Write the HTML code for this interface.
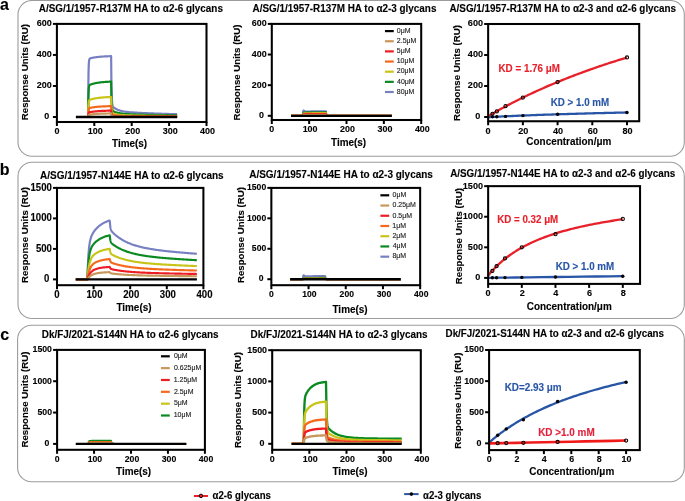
<!DOCTYPE html><html><head><meta charset="utf-8"><style>html,body{margin:0;padding:0;background:#fff;width:685px;height:501px;overflow:hidden;position:relative}</style></head><body><svg width="685" height="501" viewBox="0 0 685 501" style="position:absolute;left:0;top:0;will-change:transform;font-family:&quot;Liberation Sans&quot;,sans-serif">
<style>text{stroke:currentColor;stroke-width:0.12px;paint-order:stroke}</style>
<rect width="685" height="501" fill="#fff"/>
<rect x="18" y="0.5" width="666.30" height="155.70" rx="14" ry="14" fill="none" stroke="#9c9c9c" stroke-width="1.1"/>
<rect x="18" y="162.2" width="666.30" height="156.30" rx="14" ry="14" fill="none" stroke="#9c9c9c" stroke-width="1.1"/>
<rect x="17.6" y="325.2" width="666.70" height="156.60" rx="14" ry="14" fill="none" stroke="#9c9c9c" stroke-width="1.1"/>
<text x="0.02" y="9.60" font-size="16" font-weight="bold" fill="#000" style="color:#000" transform="matrix(1 0 0 1.08 0 -0.768)">a</text>
<text x="-0.24" y="174.90" font-size="16" font-weight="bold" fill="#000" style="color:#000" transform="matrix(1 0 0 1.08 0 -13.992)">b</text>
<text x="0.16" y="339.60" font-size="16" font-weight="bold" fill="#000" style="color:#000" transform="matrix(1 0 0 1.08 0 -27.168)">c</text>
<path d="M75.97,117.00 L76.72,117.00 L77.47,117.00 L78.22,117.00 L78.97,117.00 L79.71,117.00 L80.46,117.00 L81.21,117.00 L81.96,117.00 L82.71,117.00 L83.45,117.00 L84.20,117.00 L84.95,117.00 L85.70,117.00 L86.45,117.00 L87.19,117.00 L87.94,117.00 L88.13,117.00 L88.32,88.60 L88.50,74.35 L88.69,66.82 L88.88,62.88 L89.06,60.87 L89.25,59.89 L89.44,59.25 L89.62,58.86 L89.81,58.63 L90.00,58.48 L90.19,58.38 L90.37,58.31 L90.56,58.24 L90.75,58.19 L90.93,58.14 L91.12,58.09 L91.31,58.05 L91.50,58.01 L91.68,57.97 L91.87,57.93 L92.06,57.89 L92.24,57.85 L92.43,57.81 L92.62,57.77 L92.80,57.73 L92.99,57.70 L93.18,57.66 L93.37,57.63 L93.55,57.59 L93.74,57.56 L93.93,57.53 L94.11,57.50 L94.30,57.47 L94.49,57.44 L94.67,57.41 L94.86,57.38 L95.05,57.35 L95.23,57.32 L95.42,57.29 L95.61,57.26 L96.36,57.16 L97.10,57.06 L97.85,56.98 L98.60,56.90 L99.35,56.82 L100.10,56.75 L100.84,56.69 L101.59,56.63 L102.34,56.57 L103.09,56.52 L103.84,56.48 L104.59,56.43 L105.33,56.39 L106.08,56.36 L106.83,56.32 L107.58,56.29 L108.32,56.26 L109.07,56.24 L109.82,56.21 L110.57,56.19 L110.76,56.19 L110.94,56.18 L111.13,56.17 L111.32,75.59 L111.50,87.44 L111.69,94.71 L111.88,99.19 L112.06,101.98 L112.25,103.74 L112.44,104.88 L112.63,105.64 L112.81,106.16 L113.00,106.54 L113.19,106.83 L113.37,107.06 L113.56,107.26 L113.75,107.44 L113.94,107.60 L114.12,107.75 L114.31,107.89 L114.50,108.02 L114.68,108.15 L114.87,108.28 L115.06,108.40 L115.24,108.51 L115.43,108.63 L115.62,108.73 L115.81,108.84 L115.99,108.94 L116.18,109.04 L116.37,109.14 L116.55,109.23 L116.74,109.33 L116.93,109.41 L117.11,109.50 L117.30,109.58 L117.49,109.67 L117.67,109.74 L117.86,109.82 L118.05,109.90 L118.24,109.97 L118.42,110.04 L118.61,110.11 L118.80,110.17 L118.98,110.24 L119.17,110.30 L119.36,110.36 L119.55,110.42 L119.73,110.48 L119.92,110.54 L120.11,110.59 L120.29,110.65 L120.48,110.70 L121.23,110.90 L121.98,111.07 L122.72,111.23 L123.47,111.38 L124.22,111.51 L124.97,111.63 L125.72,111.74 L126.46,111.84 L127.21,111.93 L127.96,112.01 L128.71,112.09 L129.46,112.17 L130.20,112.23 L130.95,112.30 L131.70,112.36 L132.45,112.42 L133.20,112.47 L133.94,112.52 L134.69,112.57 L135.44,112.62 L136.19,112.66 L136.94,112.71 L137.68,112.75 L138.43,112.79 L139.18,112.83 L139.93,112.87 L140.68,112.91 L141.42,112.94 L142.17,112.98 L142.92,113.01 L143.67,113.05 L144.42,113.08 L145.16,113.11 L145.91,113.15 L146.66,113.18 L147.41,113.21 L148.16,113.24 L148.90,113.27 L149.65,113.30 L150.40,113.33 L151.15,113.36 L151.90,113.39 L152.64,113.42 L153.39,113.45 L154.14,113.48 L154.89,113.50 L155.64,113.53 L156.38,113.56 L157.13,113.59 L157.88,113.61 L158.63,113.64 L159.38,113.67 L160.12,113.69 L160.87,113.72 L161.62,113.75 L162.37,113.77 L163.12,113.80 L163.86,113.82 L164.61,113.85 L165.36,113.87 L166.11,113.90 L166.86,113.92 L167.60,113.95 L168.35,113.97 L169.10,113.99 L169.85,114.02 L170.60,114.04 L171.34,114.06 L172.09,114.09 L172.84,114.11 L173.59,114.13 L174.34,114.15 L175.08,114.18 L175.83,114.20 L176.58,114.22 L177.14,114.24" fill="none" stroke="#7680c2" stroke-width="2.2" stroke-linejoin="round" stroke-linecap="butt"/>
<path d="M75.97,117.00 L76.72,117.00 L77.47,117.00 L78.22,117.00 L78.97,117.00 L79.71,117.00 L80.46,117.00 L81.21,117.00 L81.96,117.00 L82.71,117.00 L83.45,117.00 L84.20,117.00 L84.95,117.00 L85.70,117.00 L86.45,117.00 L87.19,117.00 L87.94,117.00 L88.13,117.00 L88.32,102.28 L88.50,94.37 L88.69,90.09 L88.88,87.77 L89.06,86.49 L89.25,85.77 L89.44,85.35 L89.62,85.10 L89.81,84.93 L90.00,84.80 L90.19,84.71 L90.37,84.62 L90.56,84.55 L90.75,84.48 L90.93,84.41 L91.12,84.35 L91.31,84.29 L91.50,84.23 L91.68,84.17 L91.87,84.11 L92.06,84.05 L92.24,84.00 L92.43,83.94 L92.62,83.89 L92.80,83.84 L92.99,83.79 L93.18,83.74 L93.37,83.69 L93.55,83.64 L93.74,83.59 L93.93,83.55 L94.11,83.50 L94.30,83.46 L94.49,83.41 L94.67,83.37 L94.86,83.33 L95.05,83.29 L95.23,83.25 L95.42,83.21 L95.61,83.17 L96.36,83.02 L97.10,82.89 L97.85,82.76 L98.60,82.65 L99.35,82.54 L100.10,82.44 L100.84,82.35 L101.59,82.27 L102.34,82.19 L103.09,82.12 L103.84,82.05 L104.59,81.99 L105.33,81.93 L106.08,81.88 L106.83,81.83 L107.58,81.79 L108.32,81.75 L109.07,81.71 L109.82,81.68 L110.57,81.64 L110.76,81.64 L110.94,81.63 L111.13,81.62 L111.32,92.91 L111.50,99.81 L111.69,104.03 L111.88,106.64 L112.06,108.26 L112.25,109.29 L112.44,109.95 L112.63,110.39 L112.81,110.70 L113.00,110.92 L113.19,111.09 L113.37,111.22 L113.56,111.34 L113.75,111.44 L113.94,111.53 L114.12,111.62 L114.31,111.70 L114.50,111.78 L114.68,111.85 L114.87,111.93 L115.06,112.00 L115.24,112.06 L115.43,112.13 L115.62,112.19 L115.81,112.25 L115.99,112.31 L116.18,112.37 L116.37,112.43 L116.55,112.48 L116.74,112.54 L116.93,112.59 L117.11,112.64 L117.30,112.69 L117.49,112.73 L117.67,112.78 L117.86,112.82 L118.05,112.87 L118.24,112.91 L118.42,112.95 L118.61,112.99 L118.80,113.03 L118.98,113.07 L119.17,113.10 L119.36,113.14 L119.55,113.18 L119.73,113.21 L119.92,113.24 L120.11,113.27 L120.29,113.31 L120.48,113.34 L121.23,113.45 L121.98,113.55 L122.72,113.64 L123.47,113.73 L124.22,113.80 L124.97,113.87 L125.72,113.94 L126.46,114.00 L127.21,114.05 L127.96,114.10 L128.71,114.15 L129.46,114.19 L130.20,114.23 L130.95,114.27 L131.70,114.30 L132.45,114.33 L133.20,114.37 L133.94,114.40 L134.69,114.42 L135.44,114.45 L136.19,114.48 L136.94,114.50 L137.68,114.53 L138.43,114.55 L139.18,114.57 L139.93,114.60 L140.68,114.62 L141.42,114.64 L142.17,114.66 L142.92,114.68 L143.67,114.70 L144.42,114.72 L145.16,114.74 L145.91,114.76 L146.66,114.78 L147.41,114.80 L148.16,114.81 L148.90,114.83 L149.65,114.85 L150.40,114.87 L151.15,114.88 L151.90,114.90 L152.64,114.92 L153.39,114.93 L154.14,114.95 L154.89,114.97 L155.64,114.98 L156.38,115.00 L157.13,115.02 L157.88,115.03 L158.63,115.05 L159.38,115.06 L160.12,115.08 L160.87,115.09 L161.62,115.11 L162.37,115.12 L163.12,115.14 L163.86,115.15 L164.61,115.17 L165.36,115.18 L166.11,115.19 L166.86,115.21 L167.60,115.22 L168.35,115.24 L169.10,115.25 L169.85,115.26 L170.60,115.28 L171.34,115.29 L172.09,115.31 L172.84,115.32 L173.59,115.33 L174.34,115.34 L175.08,115.36 L175.83,115.37 L176.58,115.38 L177.14,115.39" fill="none" stroke="#0b8a22" stroke-width="2.2" stroke-linejoin="round" stroke-linecap="butt"/>
<path d="M75.97,117.00 L76.72,117.00 L77.47,117.00 L78.22,117.00 L78.97,117.00 L79.71,117.00 L80.46,117.00 L81.21,117.00 L81.96,117.00 L82.71,117.00 L83.45,117.00 L84.20,117.00 L84.95,117.00 L85.70,117.00 L86.45,117.00 L87.19,117.00 L87.94,117.00 L88.13,117.00 L88.32,109.21 L88.50,105.00 L88.69,102.72 L88.88,101.46 L89.06,100.76 L89.25,100.36 L89.44,100.11 L89.62,99.95 L89.81,99.83 L90.00,99.74 L90.19,99.67 L90.37,99.60 L90.56,99.54 L90.75,99.48 L90.93,99.42 L91.12,99.37 L91.31,99.31 L91.50,99.26 L91.68,99.21 L91.87,99.16 L92.06,99.11 L92.24,99.06 L92.43,99.01 L92.62,98.97 L92.80,98.92 L92.99,98.88 L93.18,98.83 L93.37,98.79 L93.55,98.75 L93.74,98.71 L93.93,98.67 L94.11,98.63 L94.30,98.59 L94.49,98.55 L94.67,98.51 L94.86,98.48 L95.05,98.44 L95.23,98.41 L95.42,98.37 L95.61,98.34 L96.36,98.21 L97.10,98.09 L97.85,97.98 L98.60,97.88 L99.35,97.79 L100.10,97.70 L100.84,97.62 L101.59,97.55 L102.34,97.48 L103.09,97.42 L103.84,97.36 L104.59,97.31 L105.33,97.26 L106.08,97.21 L106.83,97.17 L107.58,97.13 L108.32,97.09 L109.07,97.06 L109.82,97.03 L110.57,97.00 L110.76,97.00 L110.94,96.99 L111.13,96.98 L111.32,103.37 L111.50,107.27 L111.69,109.66 L111.88,111.14 L112.06,112.06 L112.25,112.64 L112.44,113.01 L112.63,113.26 L112.81,113.43 L113.00,113.56 L113.19,113.65 L113.37,113.73 L113.56,113.80 L113.75,113.85 L113.94,113.91 L114.12,113.96 L114.31,114.00 L114.50,114.05 L114.68,114.09 L114.87,114.13 L115.06,114.17 L115.24,114.21 L115.43,114.24 L115.62,114.28 L115.81,114.31 L115.99,114.35 L116.18,114.38 L116.37,114.41 L116.55,114.44 L116.74,114.47 L116.93,114.50 L117.11,114.53 L117.30,114.56 L117.49,114.59 L117.67,114.61 L117.86,114.64 L118.05,114.66 L118.24,114.69 L118.42,114.71 L118.61,114.73 L118.80,114.75 L118.98,114.78 L119.17,114.80 L119.36,114.82 L119.55,114.84 L119.73,114.86 L119.92,114.87 L120.11,114.89 L120.29,114.91 L120.48,114.93 L121.23,114.99 L121.98,115.05 L122.72,115.10 L123.47,115.15 L124.22,115.19 L124.97,115.23 L125.72,115.27 L126.46,115.30 L127.21,115.33 L127.96,115.36 L128.71,115.38 L129.46,115.41 L130.20,115.43 L130.95,115.45 L131.70,115.47 L132.45,115.49 L133.20,115.51 L133.94,115.53 L134.69,115.54 L135.44,115.56 L136.19,115.57 L136.94,115.59 L137.68,115.60 L138.43,115.61 L139.18,115.63 L139.93,115.64 L140.68,115.65 L141.42,115.66 L142.17,115.68 L142.92,115.69 L143.67,115.70 L144.42,115.71 L145.16,115.72 L145.91,115.73 L146.66,115.74 L147.41,115.75 L148.16,115.76 L148.90,115.77 L149.65,115.78 L150.40,115.79 L151.15,115.80 L151.90,115.81 L152.64,115.82 L153.39,115.83 L154.14,115.84 L154.89,115.85 L155.64,115.86 L156.38,115.87 L157.13,115.88 L157.88,115.89 L158.63,115.89 L159.38,115.90 L160.12,115.91 L160.87,115.92 L161.62,115.93 L162.37,115.94 L163.12,115.95 L163.86,115.95 L164.61,115.96 L165.36,115.97 L166.11,115.98 L166.86,115.99 L167.60,115.99 L168.35,116.00 L169.10,116.01 L169.85,116.02 L170.60,116.03 L171.34,116.03 L172.09,116.04 L172.84,116.05 L173.59,116.06 L174.34,116.06 L175.08,116.07 L175.83,116.08 L176.58,116.09 L177.14,116.09" fill="none" stroke="#c8c41a" stroke-width="2.2" stroke-linejoin="round" stroke-linecap="butt"/>
<path d="M75.97,117.00 L76.72,117.00 L77.47,117.00 L78.22,117.00 L78.97,117.00 L79.71,117.00 L80.46,117.00 L81.21,117.00 L81.96,117.00 L82.71,117.00 L83.45,117.00 L84.20,117.00 L84.95,117.00 L85.70,117.00 L86.45,117.00 L87.19,117.00 L87.94,117.00 L88.13,117.00 L88.32,112.91 L88.50,110.71 L88.69,109.50 L88.88,108.84 L89.06,108.47 L89.25,108.25 L89.44,108.11 L89.62,108.02 L89.81,107.95 L90.00,107.90 L90.19,107.85 L90.37,107.81 L90.56,107.77 L90.75,107.73 L90.93,107.70 L91.12,107.66 L91.31,107.63 L91.50,107.59 L91.68,107.56 L91.87,107.53 L92.06,107.50 L92.24,107.47 L92.43,107.43 L92.62,107.41 L92.80,107.38 L92.99,107.35 L93.18,107.32 L93.37,107.29 L93.55,107.27 L93.74,107.24 L93.93,107.21 L94.11,107.19 L94.30,107.16 L94.49,107.14 L94.67,107.11 L94.86,107.09 L95.05,107.07 L95.23,107.05 L95.42,107.02 L95.61,107.00 L96.36,106.92 L97.10,106.84 L97.85,106.77 L98.60,106.71 L99.35,106.65 L100.10,106.60 L100.84,106.55 L101.59,106.50 L102.34,106.45 L103.09,106.41 L103.84,106.38 L104.59,106.34 L105.33,106.31 L106.08,106.28 L106.83,106.26 L107.58,106.23 L108.32,106.21 L109.07,106.19 L109.82,106.17 L110.57,106.15 L110.76,106.15 L110.94,106.14 L111.13,106.14 L111.32,109.60 L111.50,111.72 L111.69,113.02 L111.88,113.82 L112.06,114.32 L112.25,114.63 L112.44,114.84 L112.63,114.97 L112.81,115.06 L113.00,115.13 L113.19,115.18 L113.37,115.23 L113.56,115.26 L113.75,115.29 L113.94,115.32 L114.12,115.35 L114.31,115.37 L114.50,115.40 L114.68,115.42 L114.87,115.44 L115.06,115.46 L115.24,115.48 L115.43,115.50 L115.62,115.52 L115.81,115.54 L115.99,115.56 L116.18,115.58 L116.37,115.60 L116.55,115.61 L116.74,115.63 L116.93,115.65 L117.11,115.66 L117.30,115.68 L117.49,115.69 L117.67,115.70 L117.86,115.72 L118.05,115.73 L118.24,115.74 L118.42,115.76 L118.61,115.77 L118.80,115.78 L118.98,115.79 L119.17,115.80 L119.36,115.82 L119.55,115.83 L119.73,115.84 L119.92,115.85 L120.11,115.86 L120.29,115.87 L120.48,115.88 L121.23,115.91 L121.98,115.94 L122.72,115.97 L123.47,116.00 L124.22,116.02 L124.97,116.04 L125.72,116.06 L126.46,116.08 L127.21,116.09 L127.96,116.11 L128.71,116.12 L129.46,116.14 L130.20,116.15 L130.95,116.16 L131.70,116.17 L132.45,116.18 L133.20,116.19 L133.94,116.20 L134.69,116.21 L135.44,116.22 L136.19,116.23 L136.94,116.23 L137.68,116.24 L138.43,116.25 L139.18,116.26 L139.93,116.26 L140.68,116.27 L141.42,116.28 L142.17,116.28 L142.92,116.29 L143.67,116.29 L144.42,116.30 L145.16,116.31 L145.91,116.31 L146.66,116.32 L147.41,116.32 L148.16,116.33 L148.90,116.33 L149.65,116.34 L150.40,116.34 L151.15,116.35 L151.90,116.36 L152.64,116.36 L153.39,116.37 L154.14,116.37 L154.89,116.38 L155.64,116.38 L156.38,116.39 L157.13,116.39 L157.88,116.40 L158.63,116.40 L159.38,116.40 L160.12,116.41 L160.87,116.41 L161.62,116.42 L162.37,116.42 L163.12,116.43 L163.86,116.43 L164.61,116.44 L165.36,116.44 L166.11,116.45 L166.86,116.45 L167.60,116.45 L168.35,116.46 L169.10,116.46 L169.85,116.47 L170.60,116.47 L171.34,116.48 L172.09,116.48 L172.84,116.48 L173.59,116.49 L174.34,116.49 L175.08,116.50 L175.83,116.50 L176.58,116.50 L177.14,116.51" fill="none" stroke="#f5691f" stroke-width="2.2" stroke-linejoin="round" stroke-linecap="butt"/>
<path d="M75.97,117.00 L76.72,117.00 L77.47,117.00 L78.22,117.00 L78.97,117.00 L79.71,117.00 L80.46,117.00 L81.21,117.00 L81.96,117.00 L82.71,117.00 L83.45,117.00 L84.20,117.00 L84.95,117.00 L85.70,117.00 L86.45,117.00 L87.19,117.00 L87.94,117.00 L88.13,117.00 L88.32,114.89 L88.50,113.74 L88.69,113.11 L88.88,112.75 L89.06,112.54 L89.25,112.42 L89.44,112.33 L89.62,112.27 L89.81,112.22 L90.00,112.18 L90.19,112.14 L90.37,112.10 L90.56,112.07 L90.75,112.04 L90.93,112.01 L91.12,111.98 L91.31,111.95 L91.50,111.92 L91.68,111.89 L91.87,111.86 L92.06,111.83 L92.24,111.80 L92.43,111.78 L92.62,111.75 L92.80,111.73 L92.99,111.70 L93.18,111.68 L93.37,111.65 L93.55,111.63 L93.74,111.61 L93.93,111.58 L94.11,111.56 L94.30,111.54 L94.49,111.52 L94.67,111.50 L94.86,111.48 L95.05,111.46 L95.23,111.44 L95.42,111.42 L95.61,111.40 L96.36,111.33 L97.10,111.26 L97.85,111.20 L98.60,111.14 L99.35,111.09 L100.10,111.04 L100.84,111.00 L101.59,110.95 L102.34,110.92 L103.09,110.88 L103.84,110.85 L104.59,110.82 L105.33,110.79 L106.08,110.77 L106.83,110.74 L107.58,110.72 L108.32,110.70 L109.07,110.68 L109.82,110.66 L110.57,110.65 L110.76,110.65 L110.94,110.64 L111.13,110.64 L111.32,112.67 L111.50,113.91 L111.69,114.67 L111.88,115.14 L112.06,115.43 L112.25,115.61 L112.44,115.73 L112.63,115.81 L112.81,115.87 L113.00,115.91 L113.19,115.94 L113.37,115.96 L113.56,115.98 L113.75,116.00 L113.94,116.02 L114.12,116.03 L114.31,116.05 L114.50,116.06 L114.68,116.07 L114.87,116.09 L115.06,116.10 L115.24,116.11 L115.43,116.12 L115.62,116.14 L115.81,116.15 L115.99,116.16 L116.18,116.17 L116.37,116.18 L116.55,116.19 L116.74,116.20 L116.93,116.21 L117.11,116.22 L117.30,116.22 L117.49,116.23 L117.67,116.24 L117.86,116.25 L118.05,116.26 L118.24,116.26 L118.42,116.27 L118.61,116.28 L118.80,116.29 L118.98,116.29 L119.17,116.30 L119.36,116.31 L119.55,116.31 L119.73,116.32 L119.92,116.32 L120.11,116.33 L120.29,116.34 L120.48,116.34 L121.23,116.36 L121.98,116.38 L122.72,116.40 L123.47,116.41 L124.22,116.43 L124.97,116.44 L125.72,116.45 L126.46,116.46 L127.21,116.47 L127.96,116.48 L128.71,116.49 L129.46,116.49 L130.20,116.50 L130.95,116.51 L131.70,116.51 L132.45,116.52 L133.20,116.53 L133.94,116.53 L134.69,116.54 L135.44,116.54 L136.19,116.55 L136.94,116.55 L137.68,116.56 L138.43,116.56 L139.18,116.56 L139.93,116.57 L140.68,116.57 L141.42,116.58 L142.17,116.58 L142.92,116.58 L143.67,116.59 L144.42,116.59 L145.16,116.59 L145.91,116.60 L146.66,116.60 L147.41,116.60 L148.16,116.61 L148.90,116.61 L149.65,116.61 L150.40,116.62 L151.15,116.62 L151.90,116.62 L152.64,116.63 L153.39,116.63 L154.14,116.63 L154.89,116.63 L155.64,116.64 L156.38,116.64 L157.13,116.64 L157.88,116.65 L158.63,116.65 L159.38,116.65 L160.12,116.65 L160.87,116.66 L161.62,116.66 L162.37,116.66 L163.12,116.66 L163.86,116.67 L164.61,116.67 L165.36,116.67 L166.11,116.68 L166.86,116.68 L167.60,116.68 L168.35,116.68 L169.10,116.69 L169.85,116.69 L170.60,116.69 L171.34,116.69 L172.09,116.70 L172.84,116.70 L173.59,116.70 L174.34,116.70 L175.08,116.70 L175.83,116.71 L176.58,116.71 L177.14,116.71" fill="none" stroke="#ee1c24" stroke-width="2.2" stroke-linejoin="round" stroke-linecap="butt"/>
<path d="M75.97,117.00 L76.72,117.00 L77.47,117.00 L78.22,117.00 L78.97,117.00 L79.71,117.00 L80.46,117.00 L81.21,117.00 L81.96,117.00 L82.71,117.00 L83.45,117.00 L84.20,117.00 L84.95,117.00 L85.70,117.00 L86.45,117.00 L87.19,117.00 L87.94,117.00 L88.13,117.00 L88.32,115.97 L88.50,115.41 L88.69,115.10 L88.88,114.91 L89.06,114.80 L89.25,114.73 L89.44,114.68 L89.62,114.64 L89.81,114.61 L90.00,114.58 L90.19,114.55 L90.37,114.53 L90.56,114.50 L90.75,114.48 L90.93,114.45 L91.12,114.43 L91.31,114.41 L91.50,114.39 L91.68,114.37 L91.87,114.34 L92.06,114.32 L92.24,114.30 L92.43,114.28 L92.62,114.26 L92.80,114.24 L92.99,114.23 L93.18,114.21 L93.37,114.19 L93.55,114.17 L93.74,114.15 L93.93,114.14 L94.11,114.12 L94.30,114.10 L94.49,114.09 L94.67,114.07 L94.86,114.06 L95.05,114.04 L95.23,114.03 L95.42,114.01 L95.61,114.00 L96.36,113.95 L97.10,113.90 L97.85,113.85 L98.60,113.81 L99.35,113.77 L100.10,113.73 L100.84,113.70 L101.59,113.67 L102.34,113.64 L103.09,113.61 L103.84,113.59 L104.59,113.57 L105.33,113.55 L106.08,113.53 L106.83,113.51 L107.58,113.49 L108.32,113.48 L109.07,113.46 L109.82,113.45 L110.57,113.44 L110.76,113.44 L110.94,113.43 L111.13,113.43 L111.32,114.57 L111.50,115.27 L111.69,115.69 L111.88,115.96 L112.06,116.12 L112.25,116.22 L112.44,116.29 L112.63,116.33 L112.81,116.36 L113.00,116.39 L113.19,116.40 L113.37,116.42 L113.56,116.43 L113.75,116.44 L113.94,116.45 L114.12,116.46 L114.31,116.47 L114.50,116.47 L114.68,116.48 L114.87,116.49 L115.06,116.50 L115.24,116.50 L115.43,116.51 L115.62,116.52 L115.81,116.52 L115.99,116.53 L116.18,116.53 L116.37,116.54 L116.55,116.54 L116.74,116.55 L116.93,116.55 L117.11,116.56 L117.30,116.56 L117.49,116.57 L117.67,116.57 L117.86,116.58 L118.05,116.58 L118.24,116.59 L118.42,116.59 L118.61,116.60 L118.80,116.60 L118.98,116.60 L119.17,116.61 L119.36,116.61 L119.55,116.61 L119.73,116.62 L119.92,116.62 L120.11,116.62 L120.29,116.63 L120.48,116.63 L121.23,116.64 L121.98,116.65 L122.72,116.66 L123.47,116.67 L124.22,116.68 L124.97,116.68 L125.72,116.69 L126.46,116.70 L127.21,116.70 L127.96,116.71 L128.71,116.71 L129.46,116.72 L130.20,116.72 L130.95,116.72 L131.70,116.73 L132.45,116.73 L133.20,116.73 L133.94,116.74 L134.69,116.74 L135.44,116.74 L136.19,116.75 L136.94,116.75 L137.68,116.75 L138.43,116.75 L139.18,116.76 L139.93,116.76 L140.68,116.76 L141.42,116.76 L142.17,116.76 L142.92,116.77 L143.67,116.77 L144.42,116.77 L145.16,116.77 L145.91,116.77 L146.66,116.78 L147.41,116.78 L148.16,116.78 L148.90,116.78 L149.65,116.78 L150.40,116.78 L151.15,116.79 L151.90,116.79 L152.64,116.79 L153.39,116.79 L154.14,116.79 L154.89,116.79 L155.64,116.80 L156.38,116.80 L157.13,116.80 L157.88,116.80 L158.63,116.80 L159.38,116.80 L160.12,116.81 L160.87,116.81 L161.62,116.81 L162.37,116.81 L163.12,116.81 L163.86,116.81 L164.61,116.82 L165.36,116.82 L166.11,116.82 L166.86,116.82 L167.60,116.82 L168.35,116.82 L169.10,116.82 L169.85,116.82 L170.60,116.83 L171.34,116.83 L172.09,116.83 L172.84,116.83 L173.59,116.83 L174.34,116.83 L175.08,116.83 L175.83,116.84 L176.58,116.84 L177.14,116.84" fill="none" stroke="#c8975a" stroke-width="2.2" stroke-linejoin="round" stroke-linecap="butt"/>
<path d="M75.97,117.00 L76.72,117.00 L77.47,117.00 L78.22,117.00 L78.97,117.00 L79.71,117.00 L80.46,117.00 L81.21,117.00 L81.96,117.00 L82.71,117.00 L83.45,117.00 L84.20,117.00 L84.95,117.00 L85.70,117.00 L86.45,117.00 L87.19,117.00 L87.94,117.00 L88.13,117.00 L88.32,117.00 L88.50,117.00 L88.69,117.00 L88.88,117.00 L89.06,117.00 L89.25,117.00 L89.44,117.00 L89.62,117.00 L89.81,117.00 L90.00,117.00 L90.19,117.00 L90.37,117.00 L90.56,117.00 L90.75,117.00 L90.93,117.00 L91.12,117.00 L91.31,117.00 L91.50,117.00 L91.68,117.00 L91.87,117.00 L92.06,117.00 L92.24,117.00 L92.43,117.00 L92.62,117.00 L92.80,117.00 L92.99,117.00 L93.18,117.00 L93.37,117.00 L93.55,117.00 L93.74,117.00 L93.93,117.00 L94.11,117.00 L94.30,117.00 L94.49,117.00 L94.67,117.00 L94.86,117.00 L95.05,117.00 L95.23,117.00 L95.42,117.00 L95.61,117.00 L96.36,117.00 L97.10,117.00 L97.85,117.00 L98.60,117.00 L99.35,117.00 L100.10,117.00 L100.84,117.00 L101.59,117.00 L102.34,117.00 L103.09,117.00 L103.84,117.00 L104.59,117.00 L105.33,117.00 L106.08,117.00 L106.83,117.00 L107.58,117.00 L108.32,117.00 L109.07,117.00 L109.82,117.00 L110.57,117.00 L110.76,117.00 L110.94,117.00 L111.13,117.00 L111.32,117.00 L111.50,117.00 L111.69,117.00 L111.88,117.00 L112.06,117.00 L112.25,117.00 L112.44,117.00 L112.63,117.00 L112.81,117.00 L113.00,117.00 L113.19,117.00 L113.37,117.00 L113.56,117.00 L113.75,117.00 L113.94,117.00 L114.12,117.00 L114.31,117.00 L114.50,117.00 L114.68,117.00 L114.87,117.00 L115.06,117.00 L115.24,117.00 L115.43,117.00 L115.62,117.00 L115.81,117.00 L115.99,117.00 L116.18,117.00 L116.37,117.00 L116.55,117.00 L116.74,117.00 L116.93,117.00 L117.11,117.00 L117.30,117.00 L117.49,117.00 L117.67,117.00 L117.86,117.00 L118.05,117.00 L118.24,117.00 L118.42,117.00 L118.61,117.00 L118.80,117.00 L118.98,117.00 L119.17,117.00 L119.36,117.00 L119.55,117.00 L119.73,117.00 L119.92,117.00 L120.11,117.00 L120.29,117.00 L120.48,117.00 L121.23,117.00 L121.98,117.00 L122.72,117.00 L123.47,117.00 L124.22,117.00 L124.97,117.00 L125.72,117.00 L126.46,117.00 L127.21,117.00 L127.96,117.00 L128.71,117.00 L129.46,117.00 L130.20,117.00 L130.95,117.00 L131.70,117.00 L132.45,117.00 L133.20,117.00 L133.94,117.00 L134.69,117.00 L135.44,117.00 L136.19,117.00 L136.94,117.00 L137.68,117.00 L138.43,117.00 L139.18,117.00 L139.93,117.00 L140.68,117.00 L141.42,117.00 L142.17,117.00 L142.92,117.00 L143.67,117.00 L144.42,117.00 L145.16,117.00 L145.91,117.00 L146.66,117.00 L147.41,117.00 L148.16,117.00 L148.90,117.00 L149.65,117.00 L150.40,117.00 L151.15,117.00 L151.90,117.00 L152.64,117.00 L153.39,117.00 L154.14,117.00 L154.89,117.00 L155.64,117.00 L156.38,117.00 L157.13,117.00 L157.88,117.00 L158.63,117.00 L159.38,117.00 L160.12,117.00 L160.87,117.00 L161.62,117.00 L162.37,117.00 L163.12,117.00 L163.86,117.00 L164.61,117.00 L165.36,117.00 L166.11,117.00 L166.86,117.00 L167.60,117.00 L168.35,117.00 L169.10,117.00 L169.85,117.00 L170.60,117.00 L171.34,117.00 L172.09,117.00 L172.84,117.00 L173.59,117.00 L174.34,117.00 L175.08,117.00 L175.83,117.00 L176.58,117.00 L177.14,117.00" fill="none" stroke="#000000" stroke-width="2.35" stroke-linejoin="round" stroke-linecap="butt"/>
<rect x="56.90" y="23.90" width="149.60" height="98.10" fill="none" stroke="#000" stroke-width="2.05"/>
<line x1="52.90" y1="117.00" x2="56.90" y2="117.00" stroke="#000" stroke-width="2.0" stroke-linecap="butt"/>
<text x="44.16" y="119.43" font-size="9.0" font-weight="bold" fill="#000" style="color:#000" transform="matrix(1 0 0 1.08 0 -9.555)">0</text>
<line x1="52.90" y1="85.97" x2="56.90" y2="85.97" stroke="#000" stroke-width="2.0" stroke-linecap="butt"/>
<text x="36.77" y="88.40" font-size="9.0" font-weight="bold" fill="#000" style="color:#000" transform="matrix(1 0 0 1.08 0 -7.072)">200</text>
<line x1="52.90" y1="54.93" x2="56.90" y2="54.93" stroke="#000" stroke-width="2.0" stroke-linecap="butt"/>
<text x="36.77" y="57.36" font-size="9.0" font-weight="bold" fill="#000" style="color:#000" transform="matrix(1 0 0 1.08 0 -4.589)">400</text>
<line x1="52.90" y1="23.90" x2="56.90" y2="23.90" stroke="#000" stroke-width="2.0" stroke-linecap="butt"/>
<text x="36.77" y="26.33" font-size="9.0" font-weight="bold" fill="#000" style="color:#000" transform="matrix(1 0 0 1.08 0 -2.107)">600</text>
<line x1="56.90" y1="122.00" x2="56.90" y2="126.00" stroke="#000" stroke-width="2.0" stroke-linecap="butt"/>
<text x="54.40" y="134.38" font-size="9.0" font-weight="bold" fill="#000" style="color:#000" transform="matrix(1 0 0 1.08 0 -10.751)">0</text>
<line x1="94.30" y1="122.00" x2="94.30" y2="126.00" stroke="#000" stroke-width="2.0" stroke-linecap="butt"/>
<text x="87.72" y="134.38" font-size="9.0" font-weight="bold" fill="#000" style="color:#000" transform="matrix(1 0 0 1.08 0 -10.751)">100</text>
<line x1="131.70" y1="122.00" x2="131.70" y2="126.00" stroke="#000" stroke-width="2.0" stroke-linecap="butt"/>
<text x="125.23" y="134.38" font-size="9.0" font-weight="bold" fill="#000" style="color:#000" transform="matrix(1 0 0 1.08 0 -10.751)">200</text>
<line x1="169.10" y1="122.00" x2="169.10" y2="126.00" stroke="#000" stroke-width="2.0" stroke-linecap="butt"/>
<text x="162.67" y="134.38" font-size="9.0" font-weight="bold" fill="#000" style="color:#000" transform="matrix(1 0 0 1.08 0 -10.751)">300</text>
<line x1="206.50" y1="122.00" x2="206.50" y2="126.00" stroke="#000" stroke-width="2.0" stroke-linecap="butt"/>
<text x="200.12" y="134.38" font-size="9.0" font-weight="bold" fill="#000" style="color:#000" transform="matrix(1 0 0 1.08 0 -10.751)">400</text>
<text x="38.80" y="12.50" font-size="9.92" font-weight="bold" fill="#000" style="color:#000" transform="matrix(1 0 0 1.08 0 -1.000)">A/SG/1/1957-R137M HA to &#945;2-6 glycans</text>
<text x="0" y="0" font-size="9.67" font-weight="bold" transform="translate(27.52,72.00) rotate(-90) translate(-48.18,0)">Response Units (RU)</text>
<text x="112.00" y="147.00" font-size="9.94" font-weight="bold" fill="#000" style="color:#000" transform="matrix(1 0 0 1.08 0 -11.760)">Time(s)</text>
<path d="M291.04,115.80 L291.78,115.80 L292.53,115.80 L293.28,115.80 L294.02,115.80 L294.77,115.80 L295.52,115.80 L296.26,115.80 L297.01,115.80 L297.76,115.80 L298.51,115.80 L299.25,115.80 L300.00,115.80 L300.75,115.80 L301.49,115.80 L302.24,115.80 L302.43,115.80 L302.61,115.80 L302.80,115.80 L302.99,111.72 L303.17,110.90 L303.36,110.55 L303.55,110.46 L303.73,110.51 L303.92,110.63 L304.11,110.79 L304.29,110.97 L304.48,111.17 L304.67,111.37 L304.85,111.57 L305.04,111.56 L305.23,111.55 L305.42,111.54 L305.60,111.53 L305.79,111.53 L305.98,111.52 L306.16,111.51 L306.35,111.51 L306.54,111.50 L306.72,111.49 L306.91,111.49 L307.10,111.48 L307.28,111.47 L307.47,111.47 L307.66,111.46 L307.84,111.46 L308.03,111.45 L308.22,111.44 L308.40,111.44 L308.59,111.43 L308.78,111.43 L308.96,111.42 L309.15,111.42 L309.34,111.41 L309.52,111.41 L309.71,111.40 L309.90,111.40 L310.08,111.39 L310.27,111.39 L311.02,111.37 L311.76,111.36 L312.51,111.34 L313.26,111.33 L314.01,111.31 L314.75,111.30 L315.50,111.29 L316.25,111.28 L316.99,111.27 L317.74,111.26 L318.49,111.26 L319.23,111.25 L319.98,111.24 L320.73,111.24 L321.48,111.23 L322.22,111.23 L322.97,111.22 L323.72,111.22 L324.46,111.21 L325.21,111.21 L325.96,111.20 L326.14,113.26 L326.33,114.36 L326.52,114.96 L326.70,115.29 L326.89,115.47 L327.08,115.57 L327.26,115.63 L327.45,115.67 L327.64,115.69 L327.82,115.71 L328.01,115.72 L328.20,115.73 L328.39,115.74 L328.57,115.74 L328.76,115.75 L328.95,115.75 L329.13,115.76 L329.32,115.76 L329.51,115.77 L329.69,115.77 L329.88,115.77 L330.07,115.77 L330.25,115.78 L330.44,115.78 L330.63,115.78 L330.81,115.78 L331.00,115.78 L331.19,115.79 L331.37,115.79 L331.56,115.79 L331.75,115.79 L331.93,115.79 L332.12,115.79 L332.31,115.79 L332.49,115.79 L332.68,115.79 L332.87,115.79 L333.05,115.79 L333.24,115.80 L333.43,115.80 L333.61,115.80 L333.80,115.80 L333.99,115.80 L334.17,115.80 L334.36,115.80 L334.55,115.80 L334.73,115.80 L334.92,115.80 L335.11,115.80 L335.30,115.80 L336.04,115.80 L336.79,115.80 L337.54,115.80 L338.28,115.80 L339.03,115.80 L339.78,115.80 L340.52,115.80 L341.27,115.80 L342.02,115.80 L342.76,115.80 L343.51,115.80 L344.26,115.80 L345.01,115.80 L345.75,115.80 L346.50,115.80 L347.25,115.80 L347.99,115.80 L348.74,115.80 L349.49,115.80 L350.24,115.80 L350.98,115.80 L351.73,115.80 L352.48,115.80 L353.22,115.80 L353.97,115.80 L354.72,115.80 L355.46,115.80 L356.21,115.80 L356.96,115.80 L357.70,115.80 L358.45,115.80 L359.20,115.80 L359.95,115.80 L360.69,115.80 L361.44,115.80 L362.19,115.80 L362.93,115.80 L363.68,115.80 L364.43,115.80 L365.18,115.80 L365.92,115.80 L366.67,115.80 L367.42,115.80 L368.16,115.80 L368.91,115.80 L369.66,115.80 L370.40,115.80 L371.15,115.80 L371.90,115.80 L372.64,115.80 L373.39,115.80 L374.14,115.80 L374.89,115.80 L375.63,115.80 L376.38,115.80 L377.13,115.80 L377.87,115.80 L378.62,115.80 L379.37,115.80 L380.12,115.80 L380.86,115.80 L381.61,115.80 L382.36,115.80 L383.10,115.80 L383.85,115.80 L384.60,115.80 L385.34,115.80 L386.09,115.80 L386.84,115.80 L387.58,115.80 L388.33,115.80 L389.08,115.80 L389.83,115.80 L390.57,115.80 L391.32,115.80 L391.81,115.80" fill="none" stroke="#7680c2" stroke-width="2.0" stroke-linejoin="round" stroke-linecap="butt"/>
<path d="M291.04,115.80 L291.78,115.80 L292.53,115.80 L293.28,115.80 L294.02,115.80 L294.77,115.80 L295.52,115.80 L296.26,115.80 L297.01,115.80 L297.76,115.80 L298.51,115.80 L299.25,115.80 L300.00,115.80 L300.75,115.80 L301.49,115.80 L302.24,115.80 L302.43,115.80 L302.61,115.80 L302.80,115.80 L302.99,114.25 L303.17,113.42 L303.36,112.98 L303.55,112.73 L303.73,112.60 L303.92,112.52 L304.11,112.48 L304.29,112.45 L304.48,112.44 L304.67,112.43 L304.85,112.42 L305.04,112.41 L305.23,112.40 L305.42,112.39 L305.60,112.39 L305.79,112.38 L305.98,112.38 L306.16,112.37 L306.35,112.36 L306.54,112.36 L306.72,112.35 L306.91,112.35 L307.10,112.34 L307.28,112.34 L307.47,112.33 L307.66,112.33 L307.84,112.32 L308.03,112.32 L308.22,112.32 L308.40,112.31 L308.59,112.31 L308.78,112.30 L308.96,112.30 L309.15,112.29 L309.34,112.29 L309.52,112.29 L309.71,112.28 L309.90,112.28 L310.08,112.27 L310.27,112.27 L311.02,112.26 L311.76,112.24 L312.51,112.23 L313.26,112.22 L314.01,112.21 L314.75,112.20 L315.50,112.19 L316.25,112.19 L316.99,112.18 L317.74,112.17 L318.49,112.17 L319.23,112.16 L319.98,112.15 L320.73,112.15 L321.48,112.14 L322.22,112.14 L322.97,112.14 L323.72,112.13 L324.46,112.13 L325.21,112.13 L325.96,112.12 L326.14,113.76 L326.33,114.65 L326.52,115.13 L326.70,115.39 L326.89,115.54 L327.08,115.62 L327.26,115.66 L327.45,115.69 L327.64,115.71 L327.82,115.73 L328.01,115.74 L328.20,115.74 L328.39,115.75 L328.57,115.75 L328.76,115.76 L328.95,115.76 L329.13,115.77 L329.32,115.77 L329.51,115.77 L329.69,115.78 L329.88,115.78 L330.07,115.78 L330.25,115.78 L330.44,115.78 L330.63,115.78 L330.81,115.79 L331.00,115.79 L331.19,115.79 L331.37,115.79 L331.56,115.79 L331.75,115.79 L331.93,115.79 L332.12,115.79 L332.31,115.79 L332.49,115.79 L332.68,115.79 L332.87,115.80 L333.05,115.80 L333.24,115.80 L333.43,115.80 L333.61,115.80 L333.80,115.80 L333.99,115.80 L334.17,115.80 L334.36,115.80 L334.55,115.80 L334.73,115.80 L334.92,115.80 L335.11,115.80 L335.30,115.80 L336.04,115.80 L336.79,115.80 L337.54,115.80 L338.28,115.80 L339.03,115.80 L339.78,115.80 L340.52,115.80 L341.27,115.80 L342.02,115.80 L342.76,115.80 L343.51,115.80 L344.26,115.80 L345.01,115.80 L345.75,115.80 L346.50,115.80 L347.25,115.80 L347.99,115.80 L348.74,115.80 L349.49,115.80 L350.24,115.80 L350.98,115.80 L351.73,115.80 L352.48,115.80 L353.22,115.80 L353.97,115.80 L354.72,115.80 L355.46,115.80 L356.21,115.80 L356.96,115.80 L357.70,115.80 L358.45,115.80 L359.20,115.80 L359.95,115.80 L360.69,115.80 L361.44,115.80 L362.19,115.80 L362.93,115.80 L363.68,115.80 L364.43,115.80 L365.18,115.80 L365.92,115.80 L366.67,115.80 L367.42,115.80 L368.16,115.80 L368.91,115.80 L369.66,115.80 L370.40,115.80 L371.15,115.80 L371.90,115.80 L372.64,115.80 L373.39,115.80 L374.14,115.80 L374.89,115.80 L375.63,115.80 L376.38,115.80 L377.13,115.80 L377.87,115.80 L378.62,115.80 L379.37,115.80 L380.12,115.80 L380.86,115.80 L381.61,115.80 L382.36,115.80 L383.10,115.80 L383.85,115.80 L384.60,115.80 L385.34,115.80 L386.09,115.80 L386.84,115.80 L387.58,115.80 L388.33,115.80 L389.08,115.80 L389.83,115.80 L390.57,115.80 L391.32,115.80 L391.81,115.80" fill="none" stroke="#0b8a22" stroke-width="2.0" stroke-linejoin="round" stroke-linecap="butt"/>
<path d="M291.04,115.80 L291.78,115.80 L292.53,115.80 L293.28,115.80 L294.02,115.80 L294.77,115.80 L295.52,115.80 L296.26,115.80 L297.01,115.80 L297.76,115.80 L298.51,115.80 L299.25,115.80 L300.00,115.80 L300.75,115.80 L301.49,115.80 L302.24,115.80 L302.43,115.80 L302.61,115.80 L302.80,115.80 L302.99,114.64 L303.17,114.02 L303.36,113.68 L303.55,113.50 L303.73,113.40 L303.92,113.34 L304.11,113.31 L304.29,113.29 L304.48,113.28 L304.67,113.27 L304.85,113.26 L305.04,113.26 L305.23,113.25 L305.42,113.25 L305.60,113.24 L305.79,113.24 L305.98,113.23 L306.16,113.23 L306.35,113.22 L306.54,113.22 L306.72,113.22 L306.91,113.21 L307.10,113.21 L307.28,113.20 L307.47,113.20 L307.66,113.20 L307.84,113.19 L308.03,113.19 L308.22,113.19 L308.40,113.18 L308.59,113.18 L308.78,113.18 L308.96,113.17 L309.15,113.17 L309.34,113.17 L309.52,113.16 L309.71,113.16 L309.90,113.16 L310.08,113.16 L310.27,113.15 L311.02,113.14 L311.76,113.13 L312.51,113.12 L313.26,113.12 L314.01,113.11 L314.75,113.10 L315.50,113.10 L316.25,113.09 L316.99,113.08 L317.74,113.08 L318.49,113.07 L319.23,113.07 L319.98,113.07 L320.73,113.06 L321.48,113.06 L322.22,113.06 L322.97,113.05 L323.72,113.05 L324.46,113.05 L325.21,113.05 L325.96,113.04 L326.14,114.27 L326.33,114.94 L326.52,115.30 L326.70,115.49 L326.89,115.60 L327.08,115.66 L327.26,115.70 L327.45,115.72 L327.64,115.73 L327.82,115.74 L328.01,115.75 L328.20,115.76 L328.39,115.76 L328.57,115.77 L328.76,115.77 L328.95,115.77 L329.13,115.77 L329.32,115.78 L329.51,115.78 L329.69,115.78 L329.88,115.78 L330.07,115.78 L330.25,115.79 L330.44,115.79 L330.63,115.79 L330.81,115.79 L331.00,115.79 L331.19,115.79 L331.37,115.79 L331.56,115.79 L331.75,115.79 L331.93,115.79 L332.12,115.79 L332.31,115.80 L332.49,115.80 L332.68,115.80 L332.87,115.80 L333.05,115.80 L333.24,115.80 L333.43,115.80 L333.61,115.80 L333.80,115.80 L333.99,115.80 L334.17,115.80 L334.36,115.80 L334.55,115.80 L334.73,115.80 L334.92,115.80 L335.11,115.80 L335.30,115.80 L336.04,115.80 L336.79,115.80 L337.54,115.80 L338.28,115.80 L339.03,115.80 L339.78,115.80 L340.52,115.80 L341.27,115.80 L342.02,115.80 L342.76,115.80 L343.51,115.80 L344.26,115.80 L345.01,115.80 L345.75,115.80 L346.50,115.80 L347.25,115.80 L347.99,115.80 L348.74,115.80 L349.49,115.80 L350.24,115.80 L350.98,115.80 L351.73,115.80 L352.48,115.80 L353.22,115.80 L353.97,115.80 L354.72,115.80 L355.46,115.80 L356.21,115.80 L356.96,115.80 L357.70,115.80 L358.45,115.80 L359.20,115.80 L359.95,115.80 L360.69,115.80 L361.44,115.80 L362.19,115.80 L362.93,115.80 L363.68,115.80 L364.43,115.80 L365.18,115.80 L365.92,115.80 L366.67,115.80 L367.42,115.80 L368.16,115.80 L368.91,115.80 L369.66,115.80 L370.40,115.80 L371.15,115.80 L371.90,115.80 L372.64,115.80 L373.39,115.80 L374.14,115.80 L374.89,115.80 L375.63,115.80 L376.38,115.80 L377.13,115.80 L377.87,115.80 L378.62,115.80 L379.37,115.80 L380.12,115.80 L380.86,115.80 L381.61,115.80 L382.36,115.80 L383.10,115.80 L383.85,115.80 L384.60,115.80 L385.34,115.80 L386.09,115.80 L386.84,115.80 L387.58,115.80 L388.33,115.80 L389.08,115.80 L389.83,115.80 L390.57,115.80 L391.32,115.80 L391.81,115.80" fill="none" stroke="#c8c41a" stroke-width="2.0" stroke-linejoin="round" stroke-linecap="butt"/>
<path d="M291.04,115.80 L291.78,115.80 L292.53,115.80 L293.28,115.80 L294.02,115.80 L294.77,115.80 L295.52,115.80 L296.26,115.80 L297.01,115.80 L297.76,115.80 L298.51,115.80 L299.25,115.80 L300.00,115.80 L300.75,115.80 L301.49,115.80 L302.24,115.80 L302.43,115.80 L302.61,115.80 L302.80,115.80 L302.99,114.90 L303.17,114.41 L303.36,114.15 L303.55,114.01 L303.73,113.93 L303.92,113.89 L304.11,113.86 L304.29,113.85 L304.48,113.84 L304.67,113.83 L304.85,113.83 L305.04,113.82 L305.23,113.82 L305.42,113.81 L305.60,113.81 L305.79,113.81 L305.98,113.80 L306.16,113.80 L306.35,113.80 L306.54,113.79 L306.72,113.79 L306.91,113.79 L307.10,113.78 L307.28,113.78 L307.47,113.78 L307.66,113.78 L307.84,113.77 L308.03,113.77 L308.22,113.77 L308.40,113.76 L308.59,113.76 L308.78,113.76 L308.96,113.76 L309.15,113.75 L309.34,113.75 L309.52,113.75 L309.71,113.75 L309.90,113.75 L310.08,113.74 L310.27,113.74 L311.02,113.73 L311.76,113.73 L312.51,113.72 L313.26,113.71 L314.01,113.71 L314.75,113.70 L315.50,113.70 L316.25,113.69 L316.99,113.69 L317.74,113.68 L318.49,113.68 L319.23,113.68 L319.98,113.67 L320.73,113.67 L321.48,113.67 L322.22,113.67 L322.97,113.66 L323.72,113.66 L324.46,113.66 L325.21,113.66 L325.96,113.66 L326.14,114.61 L326.33,115.13 L326.52,115.41 L326.70,115.56 L326.89,115.65 L327.08,115.69 L327.26,115.72 L327.45,115.74 L327.64,115.75 L327.82,115.76 L328.01,115.76 L328.20,115.77 L328.39,115.77 L328.57,115.77 L328.76,115.78 L328.95,115.78 L329.13,115.78 L329.32,115.78 L329.51,115.78 L329.69,115.79 L329.88,115.79 L330.07,115.79 L330.25,115.79 L330.44,115.79 L330.63,115.79 L330.81,115.79 L331.00,115.79 L331.19,115.79 L331.37,115.79 L331.56,115.79 L331.75,115.80 L331.93,115.80 L332.12,115.80 L332.31,115.80 L332.49,115.80 L332.68,115.80 L332.87,115.80 L333.05,115.80 L333.24,115.80 L333.43,115.80 L333.61,115.80 L333.80,115.80 L333.99,115.80 L334.17,115.80 L334.36,115.80 L334.55,115.80 L334.73,115.80 L334.92,115.80 L335.11,115.80 L335.30,115.80 L336.04,115.80 L336.79,115.80 L337.54,115.80 L338.28,115.80 L339.03,115.80 L339.78,115.80 L340.52,115.80 L341.27,115.80 L342.02,115.80 L342.76,115.80 L343.51,115.80 L344.26,115.80 L345.01,115.80 L345.75,115.80 L346.50,115.80 L347.25,115.80 L347.99,115.80 L348.74,115.80 L349.49,115.80 L350.24,115.80 L350.98,115.80 L351.73,115.80 L352.48,115.80 L353.22,115.80 L353.97,115.80 L354.72,115.80 L355.46,115.80 L356.21,115.80 L356.96,115.80 L357.70,115.80 L358.45,115.80 L359.20,115.80 L359.95,115.80 L360.69,115.80 L361.44,115.80 L362.19,115.80 L362.93,115.80 L363.68,115.80 L364.43,115.80 L365.18,115.80 L365.92,115.80 L366.67,115.80 L367.42,115.80 L368.16,115.80 L368.91,115.80 L369.66,115.80 L370.40,115.80 L371.15,115.80 L371.90,115.80 L372.64,115.80 L373.39,115.80 L374.14,115.80 L374.89,115.80 L375.63,115.80 L376.38,115.80 L377.13,115.80 L377.87,115.80 L378.62,115.80 L379.37,115.80 L380.12,115.80 L380.86,115.80 L381.61,115.80 L382.36,115.80 L383.10,115.80 L383.85,115.80 L384.60,115.80 L385.34,115.80 L386.09,115.80 L386.84,115.80 L387.58,115.80 L388.33,115.80 L389.08,115.80 L389.83,115.80 L390.57,115.80 L391.32,115.80 L391.81,115.80" fill="none" stroke="#f5691f" stroke-width="2.0" stroke-linejoin="round" stroke-linecap="butt"/>
<path d="M291.04,115.80 L291.78,115.80 L292.53,115.80 L293.28,115.80 L294.02,115.80 L294.77,115.80 L295.52,115.80 L296.26,115.80 L297.01,115.80 L297.76,115.80 L298.51,115.80 L299.25,115.80 L300.00,115.80 L300.75,115.80 L301.49,115.80 L302.24,115.80 L302.43,115.80 L302.61,115.80 L302.80,115.80 L302.99,115.16 L303.17,114.81 L303.36,114.62 L303.55,114.52 L303.73,114.47 L303.92,114.44 L304.11,114.42 L304.29,114.41 L304.48,114.40 L304.67,114.39 L304.85,114.39 L305.04,114.39 L305.23,114.38 L305.42,114.38 L305.60,114.38 L305.79,114.38 L305.98,114.37 L306.16,114.37 L306.35,114.37 L306.54,114.37 L306.72,114.36 L306.91,114.36 L307.10,114.36 L307.28,114.36 L307.47,114.36 L307.66,114.35 L307.84,114.35 L308.03,114.35 L308.22,114.35 L308.40,114.35 L308.59,114.34 L308.78,114.34 L308.96,114.34 L309.15,114.34 L309.34,114.34 L309.52,114.34 L309.71,114.33 L309.90,114.33 L310.08,114.33 L310.27,114.33 L311.02,114.32 L311.76,114.32 L312.51,114.31 L313.26,114.31 L314.01,114.30 L314.75,114.30 L315.50,114.30 L316.25,114.29 L316.99,114.29 L317.74,114.29 L318.49,114.29 L319.23,114.28 L319.98,114.28 L320.73,114.28 L321.48,114.28 L322.22,114.28 L322.97,114.27 L323.72,114.27 L324.46,114.27 L325.21,114.27 L325.96,114.27 L326.14,114.95 L326.33,115.32 L326.52,115.52 L326.70,115.63 L326.89,115.69 L327.08,115.72 L327.26,115.74 L327.45,115.76 L327.64,115.76 L327.82,115.77 L328.01,115.77 L328.20,115.78 L328.39,115.78 L328.57,115.78 L328.76,115.78 L328.95,115.78 L329.13,115.79 L329.32,115.79 L329.51,115.79 L329.69,115.79 L329.88,115.79 L330.07,115.79 L330.25,115.79 L330.44,115.79 L330.63,115.79 L330.81,115.79 L331.00,115.79 L331.19,115.80 L331.37,115.80 L331.56,115.80 L331.75,115.80 L331.93,115.80 L332.12,115.80 L332.31,115.80 L332.49,115.80 L332.68,115.80 L332.87,115.80 L333.05,115.80 L333.24,115.80 L333.43,115.80 L333.61,115.80 L333.80,115.80 L333.99,115.80 L334.17,115.80 L334.36,115.80 L334.55,115.80 L334.73,115.80 L334.92,115.80 L335.11,115.80 L335.30,115.80 L336.04,115.80 L336.79,115.80 L337.54,115.80 L338.28,115.80 L339.03,115.80 L339.78,115.80 L340.52,115.80 L341.27,115.80 L342.02,115.80 L342.76,115.80 L343.51,115.80 L344.26,115.80 L345.01,115.80 L345.75,115.80 L346.50,115.80 L347.25,115.80 L347.99,115.80 L348.74,115.80 L349.49,115.80 L350.24,115.80 L350.98,115.80 L351.73,115.80 L352.48,115.80 L353.22,115.80 L353.97,115.80 L354.72,115.80 L355.46,115.80 L356.21,115.80 L356.96,115.80 L357.70,115.80 L358.45,115.80 L359.20,115.80 L359.95,115.80 L360.69,115.80 L361.44,115.80 L362.19,115.80 L362.93,115.80 L363.68,115.80 L364.43,115.80 L365.18,115.80 L365.92,115.80 L366.67,115.80 L367.42,115.80 L368.16,115.80 L368.91,115.80 L369.66,115.80 L370.40,115.80 L371.15,115.80 L371.90,115.80 L372.64,115.80 L373.39,115.80 L374.14,115.80 L374.89,115.80 L375.63,115.80 L376.38,115.80 L377.13,115.80 L377.87,115.80 L378.62,115.80 L379.37,115.80 L380.12,115.80 L380.86,115.80 L381.61,115.80 L382.36,115.80 L383.10,115.80 L383.85,115.80 L384.60,115.80 L385.34,115.80 L386.09,115.80 L386.84,115.80 L387.58,115.80 L388.33,115.80 L389.08,115.80 L389.83,115.80 L390.57,115.80 L391.32,115.80 L391.81,115.80" fill="none" stroke="#ee1c24" stroke-width="2.0" stroke-linejoin="round" stroke-linecap="butt"/>
<path d="M291.04,115.80 L291.78,115.80 L292.53,115.80 L293.28,115.80 L294.02,115.80 L294.77,115.80 L295.52,115.80 L296.26,115.80 L297.01,115.80 L297.76,115.80 L298.51,115.80 L299.25,115.80 L300.00,115.80 L300.75,115.80 L301.49,115.80 L302.24,115.80 L302.43,115.80 L302.61,115.80 L302.80,115.80 L302.99,115.41 L303.17,115.21 L303.36,115.09 L303.55,115.03 L303.73,115.00 L303.92,114.98 L304.11,114.97 L304.29,114.96 L304.48,114.96 L304.67,114.96 L304.85,114.95 L305.04,114.95 L305.23,114.95 L305.42,114.95 L305.60,114.95 L305.79,114.95 L305.98,114.94 L306.16,114.94 L306.35,114.94 L306.54,114.94 L306.72,114.94 L306.91,114.94 L307.10,114.94 L307.28,114.93 L307.47,114.93 L307.66,114.93 L307.84,114.93 L308.03,114.93 L308.22,114.93 L308.40,114.93 L308.59,114.93 L308.78,114.93 L308.96,114.92 L309.15,114.92 L309.34,114.92 L309.52,114.92 L309.71,114.92 L309.90,114.92 L310.08,114.92 L310.27,114.92 L311.02,114.91 L311.76,114.91 L312.51,114.91 L313.26,114.91 L314.01,114.90 L314.75,114.90 L315.50,114.90 L316.25,114.90 L316.99,114.89 L317.74,114.89 L318.49,114.89 L319.23,114.89 L319.98,114.89 L320.73,114.89 L321.48,114.89 L322.22,114.89 L322.97,114.88 L323.72,114.88 L324.46,114.88 L325.21,114.88 L325.96,114.88 L326.14,115.29 L326.33,115.51 L326.52,115.63 L326.70,115.70 L326.89,115.73 L327.08,115.75 L327.26,115.77 L327.45,115.77 L327.64,115.78 L327.82,115.78 L328.01,115.78 L328.20,115.79 L328.39,115.79 L328.57,115.79 L328.76,115.79 L328.95,115.79 L329.13,115.79 L329.32,115.79 L329.51,115.79 L329.69,115.79 L329.88,115.79 L330.07,115.79 L330.25,115.80 L330.44,115.80 L330.63,115.80 L330.81,115.80 L331.00,115.80 L331.19,115.80 L331.37,115.80 L331.56,115.80 L331.75,115.80 L331.93,115.80 L332.12,115.80 L332.31,115.80 L332.49,115.80 L332.68,115.80 L332.87,115.80 L333.05,115.80 L333.24,115.80 L333.43,115.80 L333.61,115.80 L333.80,115.80 L333.99,115.80 L334.17,115.80 L334.36,115.80 L334.55,115.80 L334.73,115.80 L334.92,115.80 L335.11,115.80 L335.30,115.80 L336.04,115.80 L336.79,115.80 L337.54,115.80 L338.28,115.80 L339.03,115.80 L339.78,115.80 L340.52,115.80 L341.27,115.80 L342.02,115.80 L342.76,115.80 L343.51,115.80 L344.26,115.80 L345.01,115.80 L345.75,115.80 L346.50,115.80 L347.25,115.80 L347.99,115.80 L348.74,115.80 L349.49,115.80 L350.24,115.80 L350.98,115.80 L351.73,115.80 L352.48,115.80 L353.22,115.80 L353.97,115.80 L354.72,115.80 L355.46,115.80 L356.21,115.80 L356.96,115.80 L357.70,115.80 L358.45,115.80 L359.20,115.80 L359.95,115.80 L360.69,115.80 L361.44,115.80 L362.19,115.80 L362.93,115.80 L363.68,115.80 L364.43,115.80 L365.18,115.80 L365.92,115.80 L366.67,115.80 L367.42,115.80 L368.16,115.80 L368.91,115.80 L369.66,115.80 L370.40,115.80 L371.15,115.80 L371.90,115.80 L372.64,115.80 L373.39,115.80 L374.14,115.80 L374.89,115.80 L375.63,115.80 L376.38,115.80 L377.13,115.80 L377.87,115.80 L378.62,115.80 L379.37,115.80 L380.12,115.80 L380.86,115.80 L381.61,115.80 L382.36,115.80 L383.10,115.80 L383.85,115.80 L384.60,115.80 L385.34,115.80 L386.09,115.80 L386.84,115.80 L387.58,115.80 L388.33,115.80 L389.08,115.80 L389.83,115.80 L390.57,115.80 L391.32,115.80 L391.81,115.80" fill="none" stroke="#c8975a" stroke-width="2.0" stroke-linejoin="round" stroke-linecap="butt"/>
<path d="M291.04,115.80 L291.78,115.80 L292.53,115.80 L293.28,115.80 L294.02,115.80 L294.77,115.80 L295.52,115.80 L296.26,115.80 L297.01,115.80 L297.76,115.80 L298.51,115.80 L299.25,115.80 L300.00,115.80 L300.75,115.80 L301.49,115.80 L302.24,115.80 L302.43,115.80 L302.61,115.80 L302.80,115.80 L302.99,115.80 L303.17,115.80 L303.36,115.80 L303.55,115.80 L303.73,115.80 L303.92,115.80 L304.11,115.80 L304.29,115.80 L304.48,115.80 L304.67,115.80 L304.85,115.80 L305.04,115.80 L305.23,115.80 L305.42,115.80 L305.60,115.80 L305.79,115.80 L305.98,115.80 L306.16,115.80 L306.35,115.80 L306.54,115.80 L306.72,115.80 L306.91,115.80 L307.10,115.80 L307.28,115.80 L307.47,115.80 L307.66,115.80 L307.84,115.80 L308.03,115.80 L308.22,115.80 L308.40,115.80 L308.59,115.80 L308.78,115.80 L308.96,115.80 L309.15,115.80 L309.34,115.80 L309.52,115.80 L309.71,115.80 L309.90,115.80 L310.08,115.80 L310.27,115.80 L311.02,115.80 L311.76,115.80 L312.51,115.80 L313.26,115.80 L314.01,115.80 L314.75,115.80 L315.50,115.80 L316.25,115.80 L316.99,115.80 L317.74,115.80 L318.49,115.80 L319.23,115.80 L319.98,115.80 L320.73,115.80 L321.48,115.80 L322.22,115.80 L322.97,115.80 L323.72,115.80 L324.46,115.80 L325.21,115.80 L325.96,115.80 L326.14,115.80 L326.33,115.80 L326.52,115.80 L326.70,115.80 L326.89,115.80 L327.08,115.80 L327.26,115.80 L327.45,115.80 L327.64,115.80 L327.82,115.80 L328.01,115.80 L328.20,115.80 L328.39,115.80 L328.57,115.80 L328.76,115.80 L328.95,115.80 L329.13,115.80 L329.32,115.80 L329.51,115.80 L329.69,115.80 L329.88,115.80 L330.07,115.80 L330.25,115.80 L330.44,115.80 L330.63,115.80 L330.81,115.80 L331.00,115.80 L331.19,115.80 L331.37,115.80 L331.56,115.80 L331.75,115.80 L331.93,115.80 L332.12,115.80 L332.31,115.80 L332.49,115.80 L332.68,115.80 L332.87,115.80 L333.05,115.80 L333.24,115.80 L333.43,115.80 L333.61,115.80 L333.80,115.80 L333.99,115.80 L334.17,115.80 L334.36,115.80 L334.55,115.80 L334.73,115.80 L334.92,115.80 L335.11,115.80 L335.30,115.80 L336.04,115.80 L336.79,115.80 L337.54,115.80 L338.28,115.80 L339.03,115.80 L339.78,115.80 L340.52,115.80 L341.27,115.80 L342.02,115.80 L342.76,115.80 L343.51,115.80 L344.26,115.80 L345.01,115.80 L345.75,115.80 L346.50,115.80 L347.25,115.80 L347.99,115.80 L348.74,115.80 L349.49,115.80 L350.24,115.80 L350.98,115.80 L351.73,115.80 L352.48,115.80 L353.22,115.80 L353.97,115.80 L354.72,115.80 L355.46,115.80 L356.21,115.80 L356.96,115.80 L357.70,115.80 L358.45,115.80 L359.20,115.80 L359.95,115.80 L360.69,115.80 L361.44,115.80 L362.19,115.80 L362.93,115.80 L363.68,115.80 L364.43,115.80 L365.18,115.80 L365.92,115.80 L366.67,115.80 L367.42,115.80 L368.16,115.80 L368.91,115.80 L369.66,115.80 L370.40,115.80 L371.15,115.80 L371.90,115.80 L372.64,115.80 L373.39,115.80 L374.14,115.80 L374.89,115.80 L375.63,115.80 L376.38,115.80 L377.13,115.80 L377.87,115.80 L378.62,115.80 L379.37,115.80 L380.12,115.80 L380.86,115.80 L381.61,115.80 L382.36,115.80 L383.10,115.80 L383.85,115.80 L384.60,115.80 L385.34,115.80 L386.09,115.80 L386.84,115.80 L387.58,115.80 L388.33,115.80 L389.08,115.80 L389.83,115.80 L390.57,115.80 L391.32,115.80 L391.81,115.80" fill="none" stroke="#000000" stroke-width="2.35" stroke-linejoin="round" stroke-linecap="butt"/>
<rect x="271.80" y="23.90" width="149.40" height="96.10" fill="none" stroke="#000" stroke-width="2.05"/>
<line x1="267.80" y1="115.80" x2="271.80" y2="115.80" stroke="#000" stroke-width="2.0" stroke-linecap="butt"/>
<text x="259.12" y="118.20" font-size="8.9" font-weight="bold" fill="#000" style="color:#000" transform="matrix(1 0 0 1.08 0 -9.456)">0</text>
<line x1="267.80" y1="85.17" x2="271.80" y2="85.17" stroke="#000" stroke-width="2.0" stroke-linecap="butt"/>
<text x="251.84" y="87.56" font-size="8.9" font-weight="bold" fill="#000" style="color:#000" transform="matrix(1 0 0 1.08 0 -7.005)">200</text>
<line x1="267.80" y1="54.53" x2="271.80" y2="54.53" stroke="#000" stroke-width="2.0" stroke-linecap="butt"/>
<text x="251.84" y="56.93" font-size="8.9" font-weight="bold" fill="#000" style="color:#000" transform="matrix(1 0 0 1.08 0 -4.554)">400</text>
<line x1="267.80" y1="23.90" x2="271.80" y2="23.90" stroke="#000" stroke-width="2.0" stroke-linecap="butt"/>
<text x="251.84" y="26.30" font-size="8.9" font-weight="bold" fill="#000" style="color:#000" transform="matrix(1 0 0 1.08 0 -2.104)">600</text>
<line x1="271.80" y1="120.00" x2="271.80" y2="124.00" stroke="#000" stroke-width="2.0" stroke-linecap="butt"/>
<text x="269.33" y="132.35" font-size="8.9" font-weight="bold" fill="#000" style="color:#000" transform="matrix(1 0 0 1.08 0 -10.588)">0</text>
<line x1="309.15" y1="120.00" x2="309.15" y2="124.00" stroke="#000" stroke-width="2.0" stroke-linecap="butt"/>
<text x="302.65" y="132.35" font-size="8.9" font-weight="bold" fill="#000" style="color:#000" transform="matrix(1 0 0 1.08 0 -10.588)">100</text>
<line x1="346.50" y1="120.00" x2="346.50" y2="124.00" stroke="#000" stroke-width="2.0" stroke-linecap="butt"/>
<text x="340.11" y="132.35" font-size="8.9" font-weight="bold" fill="#000" style="color:#000" transform="matrix(1 0 0 1.08 0 -10.588)">200</text>
<line x1="383.85" y1="120.00" x2="383.85" y2="124.00" stroke="#000" stroke-width="2.0" stroke-linecap="butt"/>
<text x="377.51" y="132.35" font-size="8.9" font-weight="bold" fill="#000" style="color:#000" transform="matrix(1 0 0 1.08 0 -10.588)">300</text>
<line x1="421.20" y1="120.00" x2="421.20" y2="124.00" stroke="#000" stroke-width="2.0" stroke-linecap="butt"/>
<text x="414.90" y="132.35" font-size="8.9" font-weight="bold" fill="#000" style="color:#000" transform="matrix(1 0 0 1.08 0 -10.588)">400</text>
<text x="252.55" y="12.00" font-size="9.9" font-weight="bold" fill="#000" style="color:#000" transform="matrix(1 0 0 1.08 0 -0.960)">A/SG/1/1957-R137M HA to &#945;2-3 glycans</text>
<text x="0" y="0" font-size="9.67" font-weight="bold" transform="translate(239.82,72.35) rotate(-90) translate(-48.18,0)">Response Units (RU)</text>
<text x="331.05" y="145.90" font-size="9.94" font-weight="bold" fill="#000" style="color:#000" transform="matrix(1 0 0 1.08 0 -11.672)">Time(s)</text>
<line x1="384.96" y1="31.10" x2="393.76" y2="31.10" stroke="#000000" stroke-width="2.2" stroke-linecap="butt"/>
<text x="396.88" y="32.90" font-size="7.0" font-weight="normal" fill="#1a1a1a" style="color:#1a1a1a" transform="matrix(1 0 0 1.08 0 -2.632)">0&#956;M</text>
<line x1="384.96" y1="41.25" x2="393.76" y2="41.25" stroke="#c8975a" stroke-width="2.2" stroke-linecap="butt"/>
<text x="396.81" y="43.05" font-size="7.0" font-weight="normal" fill="#1a1a1a" style="color:#1a1a1a" transform="matrix(1 0 0 1.08 0 -3.444)">2.5&#956;M</text>
<line x1="384.96" y1="51.40" x2="393.76" y2="51.40" stroke="#ee1c24" stroke-width="2.2" stroke-linecap="butt"/>
<text x="396.88" y="53.20" font-size="7.0" font-weight="normal" fill="#1a1a1a" style="color:#1a1a1a" transform="matrix(1 0 0 1.08 0 -4.256)">5&#956;M</text>
<line x1="384.96" y1="61.55" x2="393.76" y2="61.55" stroke="#f5691f" stroke-width="2.2" stroke-linecap="butt"/>
<text x="396.63" y="63.35" font-size="7.0" font-weight="normal" fill="#1a1a1a" style="color:#1a1a1a" transform="matrix(1 0 0 1.08 0 -5.068)">10&#956;M</text>
<line x1="384.96" y1="71.70" x2="393.76" y2="71.70" stroke="#c8c41a" stroke-width="2.2" stroke-linecap="butt"/>
<text x="396.81" y="73.50" font-size="7.0" font-weight="normal" fill="#1a1a1a" style="color:#1a1a1a" transform="matrix(1 0 0 1.08 0 -5.880)">20&#956;M</text>
<line x1="384.96" y1="81.85" x2="393.76" y2="81.85" stroke="#0b8a22" stroke-width="2.2" stroke-linecap="butt"/>
<text x="397.02" y="83.65" font-size="7.0" font-weight="normal" fill="#1a1a1a" style="color:#1a1a1a" transform="matrix(1 0 0 1.08 0 -6.692)">40&#956;M</text>
<line x1="384.96" y1="92.00" x2="393.76" y2="92.00" stroke="#7680c2" stroke-width="2.2" stroke-linecap="butt"/>
<text x="396.84" y="93.80" font-size="7.0" font-weight="normal" fill="#1a1a1a" style="color:#1a1a1a" transform="matrix(1 0 0 1.08 0 -7.504)">80&#956;M</text>
<path d="M488.15,116.22 L489.89,115.21 L491.62,114.20 L493.36,113.20 L495.09,112.21 L496.83,111.23 L498.56,110.26 L500.30,109.30 L502.03,108.35 L503.77,107.40 L505.51,106.47 L507.24,105.55 L508.98,104.63 L510.71,103.72 L512.45,102.82 L514.18,101.93 L515.92,101.05 L517.66,100.17 L519.39,99.30 L521.13,98.44 L522.86,97.59 L524.60,96.75 L526.33,95.91 L528.07,95.08 L529.80,94.26 L531.54,93.44 L533.28,92.64 L535.01,91.84 L536.75,91.04 L538.48,90.26 L540.22,89.48 L541.95,88.70 L543.69,87.93 L545.42,87.17 L547.16,86.42 L548.90,85.67 L550.63,84.93 L552.37,84.20 L554.10,83.47 L555.84,82.74 L557.57,82.03 L559.31,81.32 L561.05,80.61 L562.78,79.91 L564.52,79.22 L566.25,78.53 L567.99,77.85 L569.72,77.17 L571.46,76.50 L573.19,75.83 L574.93,75.17 L576.67,74.51 L578.40,73.86 L580.14,73.21 L581.87,72.57 L583.61,71.94 L585.34,71.31 L587.08,70.68 L588.81,70.06 L590.55,69.44 L592.29,68.83 L594.02,68.22 L595.76,67.62 L597.49,67.02 L599.23,66.43 L600.96,65.84 L602.70,65.25 L604.44,64.67 L606.17,64.10 L607.91,63.52 L609.64,62.96 L611.38,62.39 L613.11,61.83 L614.85,61.28 L616.58,60.73 L618.32,60.18 L620.06,59.64 L621.79,59.10 L623.53,58.56 L625.26,58.03 L627.00,57.50" fill="none" stroke="#e8202a" stroke-width="2.3" stroke-linejoin="round" stroke-linecap="butt"/>
<path d="M488.15,117.14 L489.89,117.05 L491.62,116.96 L493.36,116.87 L495.09,116.79 L496.83,116.70 L498.56,116.62 L500.30,116.54 L502.03,116.45 L503.77,116.37 L505.51,116.29 L507.24,116.22 L508.98,116.14 L510.71,116.06 L512.45,115.99 L514.18,115.91 L515.92,115.84 L517.66,115.76 L519.39,115.69 L521.13,115.62 L522.86,115.55 L524.60,115.48 L526.33,115.41 L528.07,115.35 L529.80,115.28 L531.54,115.21 L533.28,115.15 L535.01,115.08 L536.75,115.02 L538.48,114.96 L540.22,114.89 L541.95,114.83 L543.69,114.77 L545.42,114.71 L547.16,114.65 L548.90,114.59 L550.63,114.53 L552.37,114.48 L554.10,114.42 L555.84,114.36 L557.57,114.31 L559.31,114.25 L561.05,114.20 L562.78,114.14 L564.52,114.09 L566.25,114.04 L567.99,113.98 L569.72,113.93 L571.46,113.88 L573.19,113.83 L574.93,113.78 L576.67,113.73 L578.40,113.68 L580.14,113.63 L581.87,113.58 L583.61,113.54 L585.34,113.49 L587.08,113.44 L588.81,113.40 L590.55,113.35 L592.29,113.31 L594.02,113.26 L595.76,113.22 L597.49,113.17 L599.23,113.13 L600.96,113.09 L602.70,113.04 L604.44,113.00 L606.17,112.96 L607.91,112.92 L609.64,112.88 L611.38,112.83 L613.11,112.79 L614.85,112.75 L616.58,112.71 L618.32,112.67 L620.06,112.64 L621.79,112.60 L623.53,112.56 L625.26,112.52 L627.00,112.48" fill="none" stroke="#2855a6" stroke-width="2.3" stroke-linejoin="round" stroke-linecap="butt"/>
<circle cx="492.49" cy="116.84" r="1.7" fill="#000" stroke="none" stroke-width="0"/>
<circle cx="496.83" cy="116.69" r="1.7" fill="#000" stroke="none" stroke-width="0"/>
<circle cx="505.51" cy="116.38" r="1.7" fill="#000" stroke="none" stroke-width="0"/>
<circle cx="522.86" cy="115.61" r="1.7" fill="#000" stroke="none" stroke-width="0"/>
<circle cx="557.57" cy="114.21" r="1.7" fill="#000" stroke="none" stroke-width="0"/>
<circle cx="627.00" cy="112.50" r="1.7" fill="#000" stroke="none" stroke-width="0"/>
<circle cx="492.49" cy="113.75" r="1.6" fill="none" stroke="#000" stroke-width="1.05"/>
<circle cx="496.83" cy="111.42" r="1.6" fill="none" stroke="#000" stroke-width="1.05"/>
<circle cx="505.51" cy="106.15" r="1.6" fill="none" stroke="#000" stroke-width="1.05"/>
<circle cx="522.86" cy="97.62" r="1.6" fill="none" stroke="#000" stroke-width="1.05"/>
<circle cx="557.57" cy="82.12" r="1.6" fill="none" stroke="#000" stroke-width="1.05"/>
<circle cx="627.00" cy="57.48" r="1.6" fill="none" stroke="#000" stroke-width="1.05"/>
<rect x="488.15" y="24.00" width="151.05" height="97.25" fill="none" stroke="#000" stroke-width="2.05"/>
<line x1="484.15" y1="117.00" x2="488.15" y2="117.00" stroke="#000" stroke-width="2.0" stroke-linecap="butt"/>
<text x="475.36" y="119.47" font-size="9.1" font-weight="bold" fill="#000" style="color:#000" transform="matrix(1 0 0 1.08 0 -9.557)">0</text>
<line x1="484.15" y1="86.00" x2="488.15" y2="86.00" stroke="#000" stroke-width="2.0" stroke-linecap="butt"/>
<text x="467.86" y="88.47" font-size="9.1" font-weight="bold" fill="#000" style="color:#000" transform="matrix(1 0 0 1.08 0 -7.077)">200</text>
<line x1="484.15" y1="55.00" x2="488.15" y2="55.00" stroke="#000" stroke-width="2.0" stroke-linecap="butt"/>
<text x="467.86" y="57.47" font-size="9.1" font-weight="bold" fill="#000" style="color:#000" transform="matrix(1 0 0 1.08 0 -4.597)">400</text>
<line x1="484.15" y1="24.00" x2="488.15" y2="24.00" stroke="#000" stroke-width="2.0" stroke-linecap="butt"/>
<text x="467.86" y="26.47" font-size="9.1" font-weight="bold" fill="#000" style="color:#000" transform="matrix(1 0 0 1.08 0 -2.117)">600</text>
<line x1="488.15" y1="121.25" x2="488.15" y2="125.25" stroke="#000" stroke-width="2.0" stroke-linecap="butt"/>
<text x="485.62" y="133.67" font-size="9.1" font-weight="bold" fill="#000" style="color:#000" transform="matrix(1 0 0 1.08 0 -10.693)">0</text>
<line x1="522.86" y1="121.25" x2="522.86" y2="125.25" stroke="#000" stroke-width="2.0" stroke-linecap="butt"/>
<text x="518.23" y="133.67" font-size="9.1" font-weight="bold" fill="#000" style="color:#000" transform="matrix(1 0 0 1.08 0 -10.693)">20</text>
<line x1="557.57" y1="121.25" x2="557.57" y2="125.25" stroke="#000" stroke-width="2.0" stroke-linecap="butt"/>
<text x="553.04" y="133.67" font-size="9.1" font-weight="bold" fill="#000" style="color:#000" transform="matrix(1 0 0 1.08 0 -10.693)">40</text>
<line x1="592.29" y1="121.25" x2="592.29" y2="125.25" stroke="#000" stroke-width="2.0" stroke-linecap="butt"/>
<text x="587.66" y="133.67" font-size="9.1" font-weight="bold" fill="#000" style="color:#000" transform="matrix(1 0 0 1.08 0 -10.693)">60</text>
<line x1="627.00" y1="121.25" x2="627.00" y2="125.25" stroke="#000" stroke-width="2.0" stroke-linecap="butt"/>
<text x="622.39" y="133.67" font-size="9.1" font-weight="bold" fill="#000" style="color:#000" transform="matrix(1 0 0 1.08 0 -10.693)">80</text>
<text x="449.45" y="12.30" font-size="9.88" font-weight="bold" fill="#000" style="color:#000" transform="matrix(1 0 0 1.08 0 -0.984)">A/SG/1/1957-R137M HA to &#945;2-3 and &#945;2-6 glycans</text>
<text x="0" y="0" font-size="9.67" font-weight="bold" transform="translate(459.82,72.90) rotate(-90) translate(-48.18,0)">Response Units (RU)</text>
<text x="526.37" y="145.00" font-size="9.93" font-weight="bold" fill="#000" style="color:#000" transform="matrix(1 0 0 1.08 0 -11.600)">Concentration/&#956;m</text>
<text x="498.46" y="71.80" font-size="9.85" font-weight="bold" fill="#e8202a" style="color:#e8202a" transform="matrix(1 0 0 1.08 0 -5.744)">KD = 1.76 &#956;M</text>
<text x="550.69" y="106.20" font-size="9.81" font-weight="bold" fill="#2855a6" style="color:#2855a6" transform="matrix(1 0 0 1.08 0 -8.496)">KD &gt; 1.0 mM</text>
<path d="M75.81,279.40 L76.54,279.40 L77.28,279.40 L78.01,279.40 L78.74,279.40 L79.47,279.40 L80.20,279.40 L80.94,279.40 L81.67,279.40 L82.40,279.40 L83.13,279.40 L83.86,279.40 L84.60,279.40 L85.33,279.40 L86.06,279.40 L86.79,279.40 L86.98,279.40 L87.16,279.40 L87.34,279.40 L87.52,274.61 L87.71,269.41 L87.89,264.94 L88.07,261.09 L88.26,257.77 L88.44,254.90 L88.62,252.42 L88.81,250.26 L88.99,248.37 L89.17,246.72 L89.35,245.27 L89.54,243.98 L89.72,242.84 L89.90,241.83 L90.09,240.92 L90.27,240.10 L90.45,239.35 L90.64,238.68 L90.82,238.05 L91.00,237.48 L91.18,236.95 L91.37,236.46 L91.55,236.00 L91.73,235.57 L91.92,235.16 L92.10,234.77 L92.28,234.40 L92.47,234.04 L92.65,233.71 L92.83,233.38 L93.01,233.07 L93.20,232.76 L93.38,232.47 L93.56,232.19 L93.75,231.91 L93.93,231.64 L94.11,231.38 L94.30,231.12 L94.48,230.88 L94.66,230.63 L94.84,230.39 L95.58,229.49 L96.31,228.66 L97.04,227.89 L97.77,227.18 L98.50,226.51 L99.24,225.89 L99.97,225.32 L100.70,224.78 L101.43,224.28 L102.16,223.82 L102.90,223.39 L103.63,222.99 L104.36,222.61 L105.09,222.26 L105.82,221.94 L106.56,221.64 L107.29,221.35 L108.02,221.09 L108.75,220.85 L109.48,220.62 L109.67,220.57 L109.85,221.72 L110.03,224.12 L110.22,225.90 L110.40,227.23 L110.58,228.24 L110.77,229.02 L110.95,229.63 L111.13,230.13 L111.31,230.54 L111.50,230.88 L111.68,231.18 L111.86,231.45 L112.05,231.70 L112.23,231.92 L112.41,232.14 L112.60,232.34 L112.78,232.53 L112.96,232.72 L113.14,232.91 L113.33,233.09 L113.51,233.27 L113.69,233.44 L113.88,233.61 L114.06,233.78 L114.24,233.95 L114.43,234.11 L114.61,234.28 L114.79,234.44 L114.97,234.60 L115.16,234.76 L115.34,234.91 L115.52,235.07 L115.71,235.22 L115.89,235.38 L116.07,235.53 L116.26,235.68 L116.44,235.82 L116.62,235.97 L116.80,236.11 L116.99,236.26 L117.17,236.40 L117.35,236.54 L117.54,236.68 L117.72,236.82 L117.90,236.95 L118.09,237.09 L118.27,237.22 L118.45,237.35 L118.63,237.48 L118.82,237.61 L119.00,237.74 L119.73,238.24 L120.46,238.73 L121.20,239.19 L121.93,239.64 L122.66,240.07 L123.39,240.48 L124.12,240.88 L124.86,241.26 L125.59,241.63 L126.32,241.99 L127.05,242.33 L127.78,242.66 L128.52,242.98 L129.25,243.29 L129.98,243.58 L130.71,243.87 L131.44,244.15 L132.18,244.41 L132.91,244.67 L133.64,244.92 L134.37,245.16 L135.10,245.39 L135.84,245.62 L136.57,245.84 L137.30,246.05 L138.03,246.25 L138.76,246.45 L139.50,246.64 L140.23,246.83 L140.96,247.01 L141.69,247.18 L142.42,247.35 L143.16,247.52 L143.89,247.68 L144.62,247.84 L145.35,247.99 L146.08,248.13 L146.82,248.28 L147.55,248.42 L148.28,248.55 L149.01,248.68 L149.74,248.81 L150.48,248.94 L151.21,249.06 L151.94,249.18 L152.67,249.30 L153.40,249.41 L154.14,249.52 L154.87,249.63 L155.60,249.74 L156.33,249.85 L157.06,249.95 L157.80,250.05 L158.53,250.15 L159.26,250.24 L159.99,250.34 L160.72,250.43 L161.46,250.52 L162.19,250.61 L162.92,250.70 L163.65,250.79 L164.38,250.87 L165.12,250.95 L165.85,251.04 L166.58,251.12 L167.31,251.20 L168.04,251.28 L168.78,251.35 L169.51,251.43 L170.24,251.50 L170.97,251.58 L171.70,251.65 L172.44,251.73 L173.17,251.80 L173.90,251.87 L174.63,251.94 L175.36,252.01 L176.10,252.07 L176.83,252.14 L177.56,252.21 L178.29,252.28 L179.02,252.34 L179.76,252.41 L180.49,252.47 L181.22,252.53 L181.95,252.60 L182.68,252.66 L183.42,252.72 L184.15,252.78 L184.88,252.85 L185.61,252.91 L186.34,252.97 L187.08,253.03 L187.81,253.09 L188.54,253.14 L189.27,253.20 L190.00,253.26 L190.74,253.32 L191.47,253.38 L192.20,253.43 L192.93,253.49 L193.66,253.55 L194.40,253.60 L195.13,253.66 L195.86,253.71 L196.59,253.77 L196.89,253.79" fill="none" stroke="#7680c2" stroke-width="2.15" stroke-linejoin="round" stroke-linecap="butt"/>
<path d="M75.81,279.40 L76.54,279.40 L77.28,279.40 L78.01,279.40 L78.74,279.40 L79.47,279.40 L80.20,279.40 L80.94,279.40 L81.67,279.40 L82.40,279.40 L83.13,279.40 L83.86,279.40 L84.60,279.40 L85.33,279.40 L86.06,279.40 L86.79,279.40 L86.98,279.40 L87.16,279.40 L87.34,279.40 L87.52,276.26 L87.71,272.77 L87.89,269.71 L88.07,267.01 L88.26,264.64 L88.44,262.54 L88.62,260.68 L88.81,259.04 L88.99,257.58 L89.17,256.27 L89.35,255.11 L89.54,254.07 L89.72,253.13 L89.90,252.28 L90.09,251.52 L90.27,250.82 L90.45,250.19 L90.64,249.61 L90.82,249.07 L91.00,248.58 L91.18,248.13 L91.37,247.70 L91.55,247.31 L91.73,246.94 L91.92,246.59 L92.10,246.26 L92.28,245.95 L92.47,245.66 L92.65,245.38 L92.83,245.11 L93.01,244.85 L93.20,244.61 L93.38,244.37 L93.56,244.14 L93.75,243.92 L93.93,243.71 L94.11,243.50 L94.30,243.30 L94.48,243.11 L94.66,242.92 L94.84,242.73 L95.58,242.04 L96.31,241.40 L97.04,240.82 L97.77,240.28 L98.50,239.78 L99.24,239.31 L99.97,238.88 L100.70,238.48 L101.43,238.11 L102.16,237.76 L102.90,237.44 L103.63,237.13 L104.36,236.85 L105.09,236.59 L105.82,236.35 L106.56,236.12 L107.29,235.91 L108.02,235.71 L108.75,235.53 L109.48,235.36 L109.67,235.32 L109.85,236.19 L110.03,237.99 L110.22,239.32 L110.40,240.31 L110.58,241.07 L110.77,241.65 L110.95,242.11 L111.13,242.48 L111.31,242.79 L111.50,243.05 L111.68,243.28 L111.86,243.48 L112.05,243.66 L112.23,243.83 L112.41,243.99 L112.60,244.14 L112.78,244.29 L112.96,244.43 L113.14,244.57 L113.33,244.70 L113.51,244.83 L113.69,244.97 L113.88,245.09 L114.06,245.22 L114.24,245.35 L114.43,245.47 L114.61,245.59 L114.79,245.71 L114.97,245.83 L115.16,245.95 L115.34,246.07 L115.52,246.19 L115.71,246.30 L115.89,246.42 L116.07,246.53 L116.26,246.64 L116.44,246.75 L116.62,246.86 L116.80,246.97 L116.99,247.08 L117.17,247.18 L117.35,247.29 L117.54,247.39 L117.72,247.50 L117.90,247.60 L118.09,247.70 L118.27,247.80 L118.45,247.90 L118.63,248.00 L118.82,248.09 L119.00,248.19 L119.73,248.57 L120.46,248.93 L121.20,249.27 L121.93,249.61 L122.66,249.93 L123.39,250.24 L124.12,250.54 L124.86,250.83 L125.59,251.10 L126.32,251.37 L127.05,251.63 L127.78,251.87 L128.52,252.11 L129.25,252.34 L129.98,252.57 L130.71,252.78 L131.44,252.99 L132.18,253.19 L132.91,253.38 L133.64,253.57 L134.37,253.75 L135.10,253.92 L135.84,254.09 L136.57,254.25 L137.30,254.41 L138.03,254.57 L138.76,254.71 L139.50,254.86 L140.23,255.00 L140.96,255.13 L141.69,255.26 L142.42,255.39 L143.16,255.51 L143.89,255.63 L144.62,255.75 L145.35,255.86 L146.08,255.97 L146.82,256.08 L147.55,256.19 L148.28,256.29 L149.01,256.39 L149.74,256.48 L150.48,256.58 L151.21,256.67 L151.94,256.76 L152.67,256.85 L153.40,256.93 L154.14,257.02 L154.87,257.10 L155.60,257.18 L156.33,257.26 L157.06,257.33 L157.80,257.41 L158.53,257.48 L159.26,257.56 L159.99,257.63 L160.72,257.70 L161.46,257.76 L162.19,257.83 L162.92,257.90 L163.65,257.96 L164.38,258.02 L165.12,258.09 L165.85,258.15 L166.58,258.21 L167.31,258.27 L168.04,258.33 L168.78,258.39 L169.51,258.44 L170.24,258.50 L170.97,258.56 L171.70,258.61 L172.44,258.67 L173.17,258.72 L173.90,258.77 L174.63,258.82 L175.36,258.88 L176.10,258.93 L176.83,258.98 L177.56,259.03 L178.29,259.08 L179.02,259.13 L179.76,259.18 L180.49,259.22 L181.22,259.27 L181.95,259.32 L182.68,259.37 L183.42,259.41 L184.15,259.46 L184.88,259.50 L185.61,259.55 L186.34,259.60 L187.08,259.64 L187.81,259.68 L188.54,259.73 L189.27,259.77 L190.00,259.82 L190.74,259.86 L191.47,259.90 L192.20,259.95 L192.93,259.99 L193.66,260.03 L194.40,260.07 L195.13,260.11 L195.86,260.16 L196.59,260.20 L196.89,260.21" fill="none" stroke="#0b8a22" stroke-width="2.15" stroke-linejoin="round" stroke-linecap="butt"/>
<path d="M75.81,279.40 L76.54,279.40 L77.28,279.40 L78.01,279.40 L78.74,279.40 L79.47,279.40 L80.20,279.40 L80.94,279.40 L81.67,279.40 L82.40,279.40 L83.13,279.40 L83.86,279.40 L84.60,279.40 L85.33,279.40 L86.06,279.40 L86.79,279.40 L86.98,279.40 L87.16,279.40 L87.34,279.40 L87.52,277.64 L87.71,275.63 L87.89,273.81 L88.07,272.17 L88.26,270.67 L88.44,269.31 L88.62,268.08 L88.81,266.96 L88.99,265.93 L89.17,265.00 L89.35,264.14 L89.54,263.36 L89.72,262.64 L89.90,261.98 L90.09,261.37 L90.27,260.81 L90.45,260.29 L90.64,259.81 L90.82,259.37 L91.00,258.95 L91.18,258.57 L91.37,258.21 L91.55,257.87 L91.73,257.55 L91.92,257.26 L92.10,256.98 L92.28,256.71 L92.47,256.46 L92.65,256.23 L92.83,256.00 L93.01,255.79 L93.20,255.58 L93.38,255.39 L93.56,255.20 L93.75,255.02 L93.93,254.85 L94.11,254.69 L94.30,254.53 L94.48,254.38 L94.66,254.23 L94.84,254.08 L95.58,253.55 L96.31,253.08 L97.04,252.65 L97.77,252.26 L98.50,251.91 L99.24,251.58 L99.97,251.28 L100.70,250.99 L101.43,250.73 L102.16,250.49 L102.90,250.26 L103.63,250.05 L104.36,249.86 L105.09,249.68 L105.82,249.51 L106.56,249.35 L107.29,249.20 L108.02,249.07 L108.75,248.94 L109.48,248.82 L109.67,248.79 L109.85,249.40 L110.03,250.64 L110.22,251.57 L110.40,252.26 L110.58,252.79 L110.77,253.19 L110.95,253.51 L111.13,253.77 L111.31,253.98 L111.50,254.16 L111.68,254.32 L111.86,254.46 L112.05,254.58 L112.23,254.70 L112.41,254.81 L112.60,254.92 L112.78,255.02 L112.96,255.12 L113.14,255.21 L113.33,255.31 L113.51,255.40 L113.69,255.49 L113.88,255.58 L114.06,255.67 L114.24,255.76 L114.43,255.84 L114.61,255.93 L114.79,256.01 L114.97,256.09 L115.16,256.18 L115.34,256.26 L115.52,256.34 L115.71,256.42 L115.89,256.50 L116.07,256.58 L116.26,256.65 L116.44,256.73 L116.62,256.81 L116.80,256.88 L116.99,256.96 L117.17,257.03 L117.35,257.10 L117.54,257.18 L117.72,257.25 L117.90,257.32 L118.09,257.39 L118.27,257.46 L118.45,257.53 L118.63,257.60 L118.82,257.66 L119.00,257.73 L119.73,257.99 L120.46,258.24 L121.20,258.48 L121.93,258.72 L122.66,258.94 L123.39,259.15 L124.12,259.36 L124.86,259.56 L125.59,259.75 L126.32,259.94 L127.05,260.12 L127.78,260.29 L128.52,260.45 L129.25,260.61 L129.98,260.77 L130.71,260.92 L131.44,261.06 L132.18,261.20 L132.91,261.33 L133.64,261.46 L134.37,261.59 L135.10,261.71 L135.84,261.83 L136.57,261.94 L137.30,262.05 L138.03,262.16 L138.76,262.26 L139.50,262.36 L140.23,262.46 L140.96,262.55 L141.69,262.64 L142.42,262.73 L143.16,262.82 L143.89,262.90 L144.62,262.98 L145.35,263.06 L146.08,263.14 L146.82,263.21 L147.55,263.28 L148.28,263.35 L149.01,263.42 L149.74,263.49 L150.48,263.55 L151.21,263.62 L151.94,263.68 L152.67,263.74 L153.40,263.80 L154.14,263.86 L154.87,263.92 L155.60,263.97 L156.33,264.03 L157.06,264.08 L157.80,264.13 L158.53,264.18 L159.26,264.23 L159.99,264.28 L160.72,264.33 L161.46,264.38 L162.19,264.42 L162.92,264.47 L163.65,264.51 L164.38,264.56 L165.12,264.60 L165.85,264.64 L166.58,264.69 L167.31,264.73 L168.04,264.77 L168.78,264.81 L169.51,264.85 L170.24,264.89 L170.97,264.93 L171.70,264.97 L172.44,265.00 L173.17,265.04 L173.90,265.08 L174.63,265.11 L175.36,265.15 L176.10,265.19 L176.83,265.22 L177.56,265.26 L178.29,265.29 L179.02,265.32 L179.76,265.36 L180.49,265.39 L181.22,265.42 L181.95,265.46 L182.68,265.49 L183.42,265.52 L184.15,265.55 L184.88,265.59 L185.61,265.62 L186.34,265.65 L187.08,265.68 L187.81,265.71 L188.54,265.74 L189.27,265.77 L190.00,265.80 L190.74,265.83 L191.47,265.86 L192.20,265.89 L192.93,265.92 L193.66,265.95 L194.40,265.98 L195.13,266.01 L195.86,266.04 L196.59,266.07 L196.89,266.08" fill="none" stroke="#c8c41a" stroke-width="2.15" stroke-linejoin="round" stroke-linecap="butt"/>
<path d="M75.81,279.40 L76.54,279.40 L77.28,279.40 L78.01,279.40 L78.74,279.40 L79.47,279.40 L80.20,279.40 L80.94,279.40 L81.67,279.40 L82.40,279.40 L83.13,279.40 L83.86,279.40 L84.60,279.40 L85.33,279.40 L86.06,279.40 L86.79,279.40 L86.98,279.40 L87.16,279.40 L87.34,279.40 L87.52,278.48 L87.71,277.41 L87.89,276.41 L88.07,275.48 L88.26,274.62 L88.44,273.81 L88.62,273.06 L88.81,272.36 L88.99,271.71 L89.17,271.10 L89.35,270.53 L89.54,270.00 L89.72,269.51 L89.90,269.04 L90.09,268.60 L90.27,268.19 L90.45,267.81 L90.64,267.45 L90.82,267.11 L91.00,266.79 L91.18,266.49 L91.37,266.20 L91.55,265.93 L91.73,265.68 L91.92,265.44 L92.10,265.21 L92.28,264.99 L92.47,264.79 L92.65,264.59 L92.83,264.41 L93.01,264.23 L93.20,264.06 L93.38,263.90 L93.56,263.75 L93.75,263.60 L93.93,263.46 L94.11,263.32 L94.30,263.19 L94.48,263.07 L94.66,262.95 L94.84,262.83 L95.58,262.41 L96.31,262.04 L97.04,261.72 L97.77,261.43 L98.50,261.17 L99.24,260.94 L99.97,260.72 L100.70,260.52 L101.43,260.34 L102.16,260.18 L102.90,260.02 L103.63,259.88 L104.36,259.75 L105.09,259.63 L105.82,259.51 L106.56,259.41 L107.29,259.31 L108.02,259.22 L108.75,259.13 L109.48,259.06 L109.67,259.04 L109.85,259.44 L110.03,260.27 L110.22,260.88 L110.40,261.34 L110.58,261.69 L110.77,261.96 L110.95,262.18 L111.13,262.35 L111.31,262.49 L111.50,262.61 L111.68,262.71 L111.86,262.80 L112.05,262.89 L112.23,262.97 L112.41,263.04 L112.60,263.11 L112.78,263.18 L112.96,263.24 L113.14,263.31 L113.33,263.37 L113.51,263.43 L113.69,263.49 L113.88,263.55 L114.06,263.61 L114.24,263.67 L114.43,263.73 L114.61,263.78 L114.79,263.84 L114.97,263.89 L115.16,263.95 L115.34,264.00 L115.52,264.06 L115.71,264.11 L115.89,264.16 L116.07,264.21 L116.26,264.27 L116.44,264.32 L116.62,264.37 L116.80,264.42 L116.99,264.47 L117.17,264.52 L117.35,264.57 L117.54,264.61 L117.72,264.66 L117.90,264.71 L118.09,264.76 L118.27,264.80 L118.45,264.85 L118.63,264.89 L118.82,264.94 L119.00,264.98 L119.73,265.16 L120.46,265.32 L121.20,265.48 L121.93,265.64 L122.66,265.79 L123.39,265.93 L124.12,266.07 L124.86,266.20 L125.59,266.33 L126.32,266.45 L127.05,266.57 L127.78,266.68 L128.52,266.79 L129.25,266.90 L129.98,267.00 L130.71,267.10 L131.44,267.20 L132.18,267.29 L132.91,267.38 L133.64,267.47 L134.37,267.55 L135.10,267.63 L135.84,267.71 L136.57,267.78 L137.30,267.86 L138.03,267.93 L138.76,268.00 L139.50,268.06 L140.23,268.13 L140.96,268.19 L141.69,268.25 L142.42,268.31 L143.16,268.37 L143.89,268.42 L144.62,268.47 L145.35,268.53 L146.08,268.58 L146.82,268.63 L147.55,268.68 L148.28,268.72 L149.01,268.77 L149.74,268.81 L150.48,268.86 L151.21,268.90 L151.94,268.94 L152.67,268.98 L153.40,269.02 L154.14,269.06 L154.87,269.10 L155.60,269.13 L156.33,269.17 L157.06,269.21 L157.80,269.24 L158.53,269.28 L159.26,269.31 L159.99,269.34 L160.72,269.37 L161.46,269.40 L162.19,269.44 L162.92,269.47 L163.65,269.50 L164.38,269.53 L165.12,269.55 L165.85,269.58 L166.58,269.61 L167.31,269.64 L168.04,269.67 L168.78,269.69 L169.51,269.72 L170.24,269.75 L170.97,269.77 L171.70,269.80 L172.44,269.82 L173.17,269.85 L173.90,269.87 L174.63,269.89 L175.36,269.92 L176.10,269.94 L176.83,269.97 L177.56,269.99 L178.29,270.01 L179.02,270.03 L179.76,270.06 L180.49,270.08 L181.22,270.10 L181.95,270.12 L182.68,270.15 L183.42,270.17 L184.15,270.19 L184.88,270.21 L185.61,270.23 L186.34,270.25 L187.08,270.27 L187.81,270.29 L188.54,270.31 L189.27,270.33 L190.00,270.35 L190.74,270.37 L191.47,270.39 L192.20,270.41 L192.93,270.43 L193.66,270.45 L194.40,270.47 L195.13,270.49 L195.86,270.51 L196.59,270.53 L196.89,270.54" fill="none" stroke="#f5691f" stroke-width="2.15" stroke-linejoin="round" stroke-linecap="butt"/>
<path d="M75.81,279.40 L76.54,279.40 L77.28,279.40 L78.01,279.40 L78.74,279.40 L79.47,279.40 L80.20,279.40 L80.94,279.40 L81.67,279.40 L82.40,279.40 L83.13,279.40 L83.86,279.40 L84.60,279.40 L85.33,279.40 L86.06,279.40 L86.79,279.40 L86.98,279.40 L87.16,279.40 L87.34,279.40 L87.52,278.93 L87.71,278.37 L87.89,277.85 L88.07,277.35 L88.26,276.88 L88.44,276.44 L88.62,276.02 L88.81,275.62 L88.99,275.25 L89.17,274.90 L89.35,274.56 L89.54,274.24 L89.72,273.94 L89.90,273.65 L90.09,273.38 L90.27,273.13 L90.45,272.88 L90.64,272.65 L90.82,272.43 L91.00,272.22 L91.18,272.02 L91.37,271.83 L91.55,271.65 L91.73,271.48 L91.92,271.32 L92.10,271.16 L92.28,271.01 L92.47,270.87 L92.65,270.73 L92.83,270.60 L93.01,270.47 L93.20,270.35 L93.38,270.24 L93.56,270.13 L93.75,270.02 L93.93,269.92 L94.11,269.83 L94.30,269.73 L94.48,269.64 L94.66,269.56 L94.84,269.47 L95.58,269.17 L96.31,268.91 L97.04,268.68 L97.77,268.47 L98.50,268.29 L99.24,268.13 L99.97,267.99 L100.70,267.85 L101.43,267.73 L102.16,267.63 L102.90,267.53 L103.63,267.43 L104.36,267.35 L105.09,267.27 L105.82,267.20 L106.56,267.13 L107.29,267.07 L108.02,267.02 L108.75,266.96 L109.48,266.91 L109.67,266.90 L109.85,267.15 L110.03,267.66 L110.22,268.03 L110.40,268.32 L110.58,268.53 L110.77,268.70 L110.95,268.83 L111.13,268.93 L111.31,269.02 L111.50,269.09 L111.68,269.16 L111.86,269.21 L112.05,269.27 L112.23,269.31 L112.41,269.36 L112.60,269.40 L112.78,269.44 L112.96,269.48 L113.14,269.52 L113.33,269.56 L113.51,269.60 L113.69,269.64 L113.88,269.67 L114.06,269.71 L114.24,269.74 L114.43,269.78 L114.61,269.81 L114.79,269.85 L114.97,269.88 L115.16,269.92 L115.34,269.95 L115.52,269.98 L115.71,270.02 L115.89,270.05 L116.07,270.08 L116.26,270.11 L116.44,270.14 L116.62,270.17 L116.80,270.20 L116.99,270.23 L117.17,270.27 L117.35,270.29 L117.54,270.32 L117.72,270.35 L117.90,270.38 L118.09,270.41 L118.27,270.44 L118.45,270.47 L118.63,270.50 L118.82,270.52 L119.00,270.55 L119.73,270.66 L120.46,270.76 L121.20,270.86 L121.93,270.95 L122.66,271.04 L123.39,271.13 L124.12,271.22 L124.86,271.30 L125.59,271.38 L126.32,271.45 L127.05,271.53 L127.78,271.60 L128.52,271.66 L129.25,271.73 L129.98,271.79 L130.71,271.85 L131.44,271.91 L132.18,271.97 L132.91,272.02 L133.64,272.08 L134.37,272.13 L135.10,272.18 L135.84,272.22 L136.57,272.27 L137.30,272.32 L138.03,272.36 L138.76,272.40 L139.50,272.44 L140.23,272.48 L140.96,272.52 L141.69,272.56 L142.42,272.59 L143.16,272.63 L143.89,272.66 L144.62,272.69 L145.35,272.73 L146.08,272.76 L146.82,272.79 L147.55,272.82 L148.28,272.85 L149.01,272.87 L149.74,272.90 L150.48,272.93 L151.21,272.96 L151.94,272.98 L152.67,273.01 L153.40,273.03 L154.14,273.05 L154.87,273.08 L155.60,273.10 L156.33,273.12 L157.06,273.14 L157.80,273.16 L158.53,273.19 L159.26,273.21 L159.99,273.23 L160.72,273.25 L161.46,273.27 L162.19,273.28 L162.92,273.30 L163.65,273.32 L164.38,273.34 L165.12,273.36 L165.85,273.37 L166.58,273.39 L167.31,273.41 L168.04,273.43 L168.78,273.44 L169.51,273.46 L170.24,273.47 L170.97,273.49 L171.70,273.51 L172.44,273.52 L173.17,273.54 L173.90,273.55 L174.63,273.57 L175.36,273.58 L176.10,273.60 L176.83,273.61 L177.56,273.62 L178.29,273.64 L179.02,273.65 L179.76,273.67 L180.49,273.68 L181.22,273.69 L181.95,273.71 L182.68,273.72 L183.42,273.73 L184.15,273.75 L184.88,273.76 L185.61,273.77 L186.34,273.78 L187.08,273.80 L187.81,273.81 L188.54,273.82 L189.27,273.83 L190.00,273.85 L190.74,273.86 L191.47,273.87 L192.20,273.88 L192.93,273.90 L193.66,273.91 L194.40,273.92 L195.13,273.93 L195.86,273.94 L196.59,273.96 L196.89,273.96" fill="none" stroke="#ee1c24" stroke-width="2.15" stroke-linejoin="round" stroke-linecap="butt"/>
<path d="M75.81,279.40 L76.54,279.40 L77.28,279.40 L78.01,279.40 L78.74,279.40 L79.47,279.40 L80.20,279.40 L80.94,279.40 L81.67,279.40 L82.40,279.40 L83.13,279.40 L83.86,279.40 L84.60,279.40 L85.33,279.40 L86.06,279.40 L86.79,279.40 L86.98,279.40 L87.16,279.40 L87.34,279.40 L87.52,279.16 L87.71,278.88 L87.89,278.61 L88.07,278.36 L88.26,278.11 L88.44,277.88 L88.62,277.65 L88.81,277.44 L88.99,277.24 L89.17,277.04 L89.35,276.86 L89.54,276.68 L89.72,276.51 L89.90,276.35 L90.09,276.20 L90.27,276.05 L90.45,275.91 L90.64,275.77 L90.82,275.64 L91.00,275.52 L91.18,275.40 L91.37,275.28 L91.55,275.17 L91.73,275.07 L91.92,274.97 L92.10,274.87 L92.28,274.78 L92.47,274.69 L92.65,274.60 L92.83,274.52 L93.01,274.44 L93.20,274.37 L93.38,274.29 L93.56,274.22 L93.75,274.16 L93.93,274.09 L94.11,274.03 L94.30,273.97 L94.48,273.91 L94.66,273.85 L94.84,273.80 L95.58,273.60 L96.31,273.43 L97.04,273.27 L97.77,273.14 L98.50,273.02 L99.24,272.92 L99.97,272.82 L100.70,272.74 L101.43,272.66 L102.16,272.59 L102.90,272.53 L103.63,272.47 L104.36,272.42 L105.09,272.37 L105.82,272.33 L106.56,272.28 L107.29,272.25 L108.02,272.21 L108.75,272.18 L109.48,272.15 L109.67,272.15 L109.85,272.29 L110.03,272.58 L110.22,272.80 L110.40,272.97 L110.58,273.09 L110.77,273.19 L110.95,273.26 L111.13,273.32 L111.31,273.37 L111.50,273.42 L111.68,273.45 L111.86,273.49 L112.05,273.52 L112.23,273.55 L112.41,273.57 L112.60,273.60 L112.78,273.62 L112.96,273.64 L113.14,273.67 L113.33,273.69 L113.51,273.71 L113.69,273.73 L113.88,273.75 L114.06,273.77 L114.24,273.80 L114.43,273.82 L114.61,273.84 L114.79,273.86 L114.97,273.88 L115.16,273.89 L115.34,273.91 L115.52,273.93 L115.71,273.95 L115.89,273.97 L116.07,273.99 L116.26,274.01 L116.44,274.03 L116.62,274.04 L116.80,274.06 L116.99,274.08 L117.17,274.10 L117.35,274.11 L117.54,274.13 L117.72,274.15 L117.90,274.17 L118.09,274.18 L118.27,274.20 L118.45,274.21 L118.63,274.23 L118.82,274.25 L119.00,274.26 L119.73,274.32 L120.46,274.38 L121.20,274.44 L121.93,274.50 L122.66,274.55 L123.39,274.60 L124.12,274.65 L124.86,274.70 L125.59,274.74 L126.32,274.79 L127.05,274.83 L127.78,274.87 L128.52,274.91 L129.25,274.95 L129.98,274.98 L130.71,275.02 L131.44,275.05 L132.18,275.09 L132.91,275.12 L133.64,275.15 L134.37,275.18 L135.10,275.21 L135.84,275.23 L136.57,275.26 L137.30,275.29 L138.03,275.31 L138.76,275.34 L139.50,275.36 L140.23,275.38 L140.96,275.41 L141.69,275.43 L142.42,275.45 L143.16,275.47 L143.89,275.49 L144.62,275.51 L145.35,275.53 L146.08,275.54 L146.82,275.56 L147.55,275.58 L148.28,275.60 L149.01,275.61 L149.74,275.63 L150.48,275.64 L151.21,275.66 L151.94,275.67 L152.67,275.69 L153.40,275.70 L154.14,275.72 L154.87,275.73 L155.60,275.74 L156.33,275.76 L157.06,275.77 L157.80,275.78 L158.53,275.79 L159.26,275.80 L159.99,275.82 L160.72,275.83 L161.46,275.84 L162.19,275.85 L162.92,275.86 L163.65,275.87 L164.38,275.88 L165.12,275.89 L165.85,275.90 L166.58,275.91 L167.31,275.92 L168.04,275.93 L168.78,275.94 L169.51,275.95 L170.24,275.96 L170.97,275.97 L171.70,275.98 L172.44,275.99 L173.17,276.00 L173.90,276.00 L174.63,276.01 L175.36,276.02 L176.10,276.03 L176.83,276.04 L177.56,276.05 L178.29,276.06 L179.02,276.06 L179.76,276.07 L180.49,276.08 L181.22,276.09 L181.95,276.09 L182.68,276.10 L183.42,276.11 L184.15,276.12 L184.88,276.13 L185.61,276.13 L186.34,276.14 L187.08,276.15 L187.81,276.16 L188.54,276.16 L189.27,276.17 L190.00,276.18 L190.74,276.18 L191.47,276.19 L192.20,276.20 L192.93,276.20 L193.66,276.21 L194.40,276.22 L195.13,276.23 L195.86,276.23 L196.59,276.24 L196.89,276.24" fill="none" stroke="#c8975a" stroke-width="2.15" stroke-linejoin="round" stroke-linecap="butt"/>
<path d="M75.81,279.40 L76.54,279.40 L77.28,279.40 L78.01,279.40 L78.74,279.40 L79.47,279.40 L80.20,279.40 L80.94,279.40 L81.67,279.40 L82.40,279.40 L83.13,279.40 L83.86,279.40 L84.60,279.40 L85.33,279.40 L86.06,279.40 L86.79,279.40 L86.98,279.40 L87.16,279.40 L87.34,279.40 L87.52,279.40 L87.71,279.40 L87.89,279.40 L88.07,279.40 L88.26,279.40 L88.44,279.40 L88.62,279.40 L88.81,279.40 L88.99,279.40 L89.17,279.40 L89.35,279.40 L89.54,279.40 L89.72,279.40 L89.90,279.40 L90.09,279.40 L90.27,279.40 L90.45,279.40 L90.64,279.40 L90.82,279.40 L91.00,279.40 L91.18,279.40 L91.37,279.40 L91.55,279.40 L91.73,279.40 L91.92,279.40 L92.10,279.40 L92.28,279.40 L92.47,279.40 L92.65,279.40 L92.83,279.40 L93.01,279.40 L93.20,279.40 L93.38,279.40 L93.56,279.40 L93.75,279.40 L93.93,279.40 L94.11,279.40 L94.30,279.40 L94.48,279.40 L94.66,279.40 L94.84,279.40 L95.58,279.40 L96.31,279.40 L97.04,279.40 L97.77,279.40 L98.50,279.40 L99.24,279.40 L99.97,279.40 L100.70,279.40 L101.43,279.40 L102.16,279.40 L102.90,279.40 L103.63,279.40 L104.36,279.40 L105.09,279.40 L105.82,279.40 L106.56,279.40 L107.29,279.40 L108.02,279.40 L108.75,279.40 L109.48,279.40 L109.67,279.40 L109.85,279.40 L110.03,279.40 L110.22,279.40 L110.40,279.40 L110.58,279.40 L110.77,279.40 L110.95,279.40 L111.13,279.40 L111.31,279.40 L111.50,279.40 L111.68,279.40 L111.86,279.40 L112.05,279.40 L112.23,279.40 L112.41,279.40 L112.60,279.40 L112.78,279.40 L112.96,279.40 L113.14,279.40 L113.33,279.40 L113.51,279.40 L113.69,279.40 L113.88,279.40 L114.06,279.40 L114.24,279.40 L114.43,279.40 L114.61,279.40 L114.79,279.40 L114.97,279.40 L115.16,279.40 L115.34,279.40 L115.52,279.40 L115.71,279.40 L115.89,279.40 L116.07,279.40 L116.26,279.40 L116.44,279.40 L116.62,279.40 L116.80,279.40 L116.99,279.40 L117.17,279.40 L117.35,279.40 L117.54,279.40 L117.72,279.40 L117.90,279.40 L118.09,279.40 L118.27,279.40 L118.45,279.40 L118.63,279.40 L118.82,279.40 L119.00,279.40 L119.73,279.40 L120.46,279.40 L121.20,279.40 L121.93,279.40 L122.66,279.40 L123.39,279.40 L124.12,279.40 L124.86,279.40 L125.59,279.40 L126.32,279.40 L127.05,279.40 L127.78,279.40 L128.52,279.40 L129.25,279.40 L129.98,279.40 L130.71,279.40 L131.44,279.40 L132.18,279.40 L132.91,279.40 L133.64,279.40 L134.37,279.40 L135.10,279.40 L135.84,279.40 L136.57,279.40 L137.30,279.40 L138.03,279.40 L138.76,279.40 L139.50,279.40 L140.23,279.40 L140.96,279.40 L141.69,279.40 L142.42,279.40 L143.16,279.40 L143.89,279.40 L144.62,279.40 L145.35,279.40 L146.08,279.40 L146.82,279.40 L147.55,279.40 L148.28,279.40 L149.01,279.40 L149.74,279.40 L150.48,279.40 L151.21,279.40 L151.94,279.40 L152.67,279.40 L153.40,279.40 L154.14,279.40 L154.87,279.40 L155.60,279.40 L156.33,279.40 L157.06,279.40 L157.80,279.40 L158.53,279.40 L159.26,279.40 L159.99,279.40 L160.72,279.40 L161.46,279.40 L162.19,279.40 L162.92,279.40 L163.65,279.40 L164.38,279.40 L165.12,279.40 L165.85,279.40 L166.58,279.40 L167.31,279.40 L168.04,279.40 L168.78,279.40 L169.51,279.40 L170.24,279.40 L170.97,279.40 L171.70,279.40 L172.44,279.40 L173.17,279.40 L173.90,279.40 L174.63,279.40 L175.36,279.40 L176.10,279.40 L176.83,279.40 L177.56,279.40 L178.29,279.40 L179.02,279.40 L179.76,279.40 L180.49,279.40 L181.22,279.40 L181.95,279.40 L182.68,279.40 L183.42,279.40 L184.15,279.40 L184.88,279.40 L185.61,279.40 L186.34,279.40 L187.08,279.40 L187.81,279.40 L188.54,279.40 L189.27,279.40 L190.00,279.40 L190.74,279.40 L191.47,279.40 L192.20,279.40 L192.93,279.40 L193.66,279.40 L194.40,279.40 L195.13,279.40 L195.86,279.40 L196.59,279.40 L196.89,279.40" fill="none" stroke="#000000" stroke-width="2.35" stroke-linejoin="round" stroke-linecap="butt"/>
<rect x="57.00" y="187.90" width="146.40" height="97.30" fill="none" stroke="#000" stroke-width="2.05"/>
<line x1="53.00" y1="279.40" x2="57.00" y2="279.40" stroke="#000" stroke-width="2.0" stroke-linecap="butt"/>
<text x="43.96" y="282.04" font-size="9.6" font-weight="bold" fill="#000" style="color:#000" transform="matrix(1 0 0 1.08 0 -22.563)">0</text>
<line x1="53.00" y1="248.90" x2="57.00" y2="248.90" stroke="#000" stroke-width="2.0" stroke-linecap="butt"/>
<text x="35.90" y="251.54" font-size="9.6" font-weight="bold" fill="#000" style="color:#000" transform="matrix(1 0 0 1.08 0 -20.123)">500</text>
<line x1="53.00" y1="218.40" x2="57.00" y2="218.40" stroke="#000" stroke-width="2.0" stroke-linecap="butt"/>
<text x="30.52" y="221.04" font-size="9.6" font-weight="bold" fill="#000" style="color:#000" transform="matrix(1 0 0 1.08 0 -17.683)">1000</text>
<line x1="53.00" y1="187.90" x2="57.00" y2="187.90" stroke="#000" stroke-width="2.0" stroke-linecap="butt"/>
<text x="30.52" y="190.54" font-size="9.6" font-weight="bold" fill="#000" style="color:#000" transform="matrix(1 0 0 1.08 0 -15.243)">1500</text>
<line x1="57.00" y1="285.20" x2="57.00" y2="289.20" stroke="#000" stroke-width="2.0" stroke-linecap="butt"/>
<text x="54.34" y="297.79" font-size="9.6" font-weight="bold" fill="#000" style="color:#000" transform="matrix(1 0 0 1.08 0 -23.823)">0</text>
<line x1="93.60" y1="285.20" x2="93.60" y2="289.20" stroke="#000" stroke-width="2.0" stroke-linecap="butt"/>
<text x="86.51" y="297.79" font-size="9.6" font-weight="bold" fill="#000" style="color:#000" transform="matrix(1 0 0 1.08 0 -23.823)">100</text>
<line x1="130.20" y1="285.20" x2="130.20" y2="289.20" stroke="#000" stroke-width="2.0" stroke-linecap="butt"/>
<text x="123.23" y="297.79" font-size="9.6" font-weight="bold" fill="#000" style="color:#000" transform="matrix(1 0 0 1.08 0 -23.823)">200</text>
<line x1="166.80" y1="285.20" x2="166.80" y2="289.20" stroke="#000" stroke-width="2.0" stroke-linecap="butt"/>
<text x="159.88" y="297.79" font-size="9.6" font-weight="bold" fill="#000" style="color:#000" transform="matrix(1 0 0 1.08 0 -23.823)">300</text>
<line x1="203.40" y1="285.20" x2="203.40" y2="289.20" stroke="#000" stroke-width="2.0" stroke-linecap="butt"/>
<text x="196.53" y="297.79" font-size="9.6" font-weight="bold" fill="#000" style="color:#000" transform="matrix(1 0 0 1.08 0 -23.823)">400</text>
<text x="40.02" y="178.80" font-size="9.99" font-weight="bold" fill="#000" style="color:#000" transform="matrix(1 0 0 1.08 0 -14.304)">A/SG/1/1957-N144E HA to &#945;2-6 glycans</text>
<text x="0" y="0" font-size="9.67" font-weight="bold" transform="translate(27.52,234.90) rotate(-90) translate(-48.18,0)">Response Units (RU)</text>
<text x="116.40" y="310.60" font-size="9.94" font-weight="bold" fill="#000" style="color:#000" transform="matrix(1 0 0 1.08 0 -24.848)">Time(s)</text>
<path d="M290.17,279.20 L290.92,279.20 L291.66,279.20 L292.41,279.20 L293.15,279.20 L293.89,279.20 L294.64,279.20 L295.38,279.20 L296.13,279.20 L296.87,279.20 L297.61,279.20 L298.36,279.20 L299.10,279.20 L299.85,279.20 L300.59,279.20 L301.33,279.20 L302.08,279.20 L302.82,279.20 L303.01,278.86 L303.19,275.90 L303.38,275.45 L303.57,275.29 L303.75,275.29 L303.94,275.37 L304.12,275.49 L304.31,275.64 L304.50,275.80 L304.68,275.97 L304.87,276.15 L305.05,276.28 L305.24,276.28 L305.43,276.27 L305.61,276.27 L305.80,276.26 L305.98,276.26 L306.17,276.25 L306.36,276.25 L306.54,276.24 L306.73,276.24 L306.91,276.23 L307.10,276.23 L307.29,276.22 L307.47,276.22 L307.66,276.21 L307.84,276.21 L308.03,276.21 L308.22,276.20 L308.40,276.20 L308.59,276.19 L308.77,276.19 L308.96,276.19 L309.15,276.18 L309.33,276.18 L309.52,276.18 L309.70,276.17 L309.89,276.17 L310.08,276.17 L310.26,276.16 L310.45,276.16 L311.19,276.15 L311.94,276.14 L312.68,276.13 L313.42,276.12 L314.17,276.11 L314.91,276.10 L315.66,276.09 L316.40,276.09 L317.14,276.08 L317.89,276.07 L318.63,276.07 L319.38,276.06 L320.12,276.06 L320.86,276.05 L321.61,276.05 L322.35,276.05 L323.10,276.04 L323.84,276.04 L324.58,276.04 L324.77,276.04 L324.96,276.04 L325.14,276.04 L325.33,276.39 L325.51,277.64 L325.70,278.31 L325.89,278.68 L326.07,278.88 L326.26,278.99 L326.44,279.05 L326.63,279.09 L326.82,279.11 L327.00,279.13 L327.19,279.14 L327.37,279.15 L327.56,279.15 L327.75,279.16 L327.93,279.16 L328.12,279.17 L328.30,279.17 L328.49,279.17 L328.68,279.17 L328.86,279.18 L329.05,279.18 L329.23,279.18 L329.42,279.18 L329.61,279.18 L329.79,279.19 L329.98,279.19 L330.16,279.19 L330.35,279.19 L330.54,279.19 L330.72,279.19 L330.91,279.19 L331.09,279.19 L331.28,279.19 L331.47,279.19 L331.65,279.19 L331.84,279.20 L332.02,279.20 L332.21,279.20 L332.40,279.20 L332.58,279.20 L332.77,279.20 L332.95,279.20 L333.14,279.20 L333.33,279.20 L333.51,279.20 L333.70,279.20 L333.88,279.20 L334.07,279.20 L334.26,279.20 L334.44,279.20 L334.63,279.20 L335.37,279.20 L336.12,279.20 L336.86,279.20 L337.60,279.20 L338.35,279.20 L339.09,279.20 L339.84,279.20 L340.58,279.20 L341.32,279.20 L342.07,279.20 L342.81,279.20 L343.56,279.20 L344.30,279.20 L345.04,279.20 L345.79,279.20 L346.53,279.20 L347.28,279.20 L348.02,279.20 L348.76,279.20 L349.51,279.20 L350.25,279.20 L351.00,279.20 L351.74,279.20 L352.48,279.20 L353.23,279.20 L353.97,279.20 L354.72,279.20 L355.46,279.20 L356.20,279.20 L356.95,279.20 L357.69,279.20 L358.44,279.20 L359.18,279.20 L359.92,279.20 L360.67,279.20 L361.41,279.20 L362.16,279.20 L362.90,279.20 L363.64,279.20 L364.39,279.20 L365.13,279.20 L365.88,279.20 L366.62,279.20 L367.36,279.20 L368.11,279.20 L368.85,279.20 L369.60,279.20 L370.34,279.20 L371.08,279.20 L371.83,279.20 L372.57,279.20 L373.32,279.20 L374.06,279.20 L374.80,279.20 L375.55,279.20 L376.29,279.20 L377.04,279.20 L377.78,279.20 L378.52,279.20 L379.27,279.20 L380.01,279.20 L380.76,279.20 L381.50,279.20 L382.24,279.20 L382.99,279.20 L383.73,279.20 L384.48,279.20 L385.22,279.20 L385.96,279.20 L386.71,279.20 L387.45,279.20 L388.20,279.20 L388.94,279.20 L389.68,279.20 L390.43,279.20 L391.17,279.20 L391.92,279.20 L392.66,279.20 L393.40,279.20 L394.15,279.20 L394.89,279.20 L395.64,279.20 L396.38,279.20 L397.12,279.20 L397.87,279.20 L398.61,279.20 L399.36,279.20 L400.10,279.20 L400.77,279.20" fill="none" stroke="#7680c2" stroke-width="2.0" stroke-linejoin="round" stroke-linecap="butt"/>
<path d="M290.17,279.20 L290.92,279.20 L291.66,279.20 L292.41,279.20 L293.15,279.20 L293.89,279.20 L294.64,279.20 L295.38,279.20 L296.13,279.20 L296.87,279.20 L297.61,279.20 L298.36,279.20 L299.10,279.20 L299.85,279.20 L300.59,279.20 L301.33,279.20 L302.08,279.20 L302.82,279.20 L303.01,279.06 L303.19,278.56 L303.38,278.29 L303.57,278.15 L303.75,278.07 L303.94,278.03 L304.12,278.00 L304.31,277.99 L304.50,277.98 L304.68,277.97 L304.87,277.97 L305.05,277.97 L305.24,277.96 L305.43,277.96 L305.61,277.96 L305.80,277.96 L305.98,277.95 L306.17,277.95 L306.36,277.95 L306.54,277.95 L306.73,277.95 L306.91,277.94 L307.10,277.94 L307.29,277.94 L307.47,277.94 L307.66,277.94 L307.84,277.93 L308.03,277.93 L308.22,277.93 L308.40,277.93 L308.59,277.93 L308.77,277.93 L308.96,277.92 L309.15,277.92 L309.33,277.92 L309.52,277.92 L309.70,277.92 L309.89,277.92 L310.08,277.92 L310.26,277.91 L310.45,277.91 L311.19,277.91 L311.94,277.90 L312.68,277.90 L313.42,277.90 L314.17,277.89 L314.91,277.89 L315.66,277.89 L316.40,277.88 L317.14,277.88 L317.89,277.88 L318.63,277.87 L319.38,277.87 L320.12,277.87 L320.86,277.87 L321.61,277.87 L322.35,277.87 L323.10,277.86 L323.84,277.86 L324.58,277.86 L324.77,277.86 L324.96,277.86 L325.14,277.86 L325.33,278.01 L325.51,278.54 L325.70,278.82 L325.89,278.98 L326.07,279.06 L326.26,279.11 L326.44,279.14 L326.63,279.15 L326.82,279.16 L327.00,279.17 L327.19,279.17 L327.37,279.18 L327.56,279.18 L327.75,279.18 L327.93,279.18 L328.12,279.19 L328.30,279.19 L328.49,279.19 L328.68,279.19 L328.86,279.19 L329.05,279.19 L329.23,279.19 L329.42,279.19 L329.61,279.19 L329.79,279.19 L329.98,279.19 L330.16,279.20 L330.35,279.20 L330.54,279.20 L330.72,279.20 L330.91,279.20 L331.09,279.20 L331.28,279.20 L331.47,279.20 L331.65,279.20 L331.84,279.20 L332.02,279.20 L332.21,279.20 L332.40,279.20 L332.58,279.20 L332.77,279.20 L332.95,279.20 L333.14,279.20 L333.33,279.20 L333.51,279.20 L333.70,279.20 L333.88,279.20 L334.07,279.20 L334.26,279.20 L334.44,279.20 L334.63,279.20 L335.37,279.20 L336.12,279.20 L336.86,279.20 L337.60,279.20 L338.35,279.20 L339.09,279.20 L339.84,279.20 L340.58,279.20 L341.32,279.20 L342.07,279.20 L342.81,279.20 L343.56,279.20 L344.30,279.20 L345.04,279.20 L345.79,279.20 L346.53,279.20 L347.28,279.20 L348.02,279.20 L348.76,279.20 L349.51,279.20 L350.25,279.20 L351.00,279.20 L351.74,279.20 L352.48,279.20 L353.23,279.20 L353.97,279.20 L354.72,279.20 L355.46,279.20 L356.20,279.20 L356.95,279.20 L357.69,279.20 L358.44,279.20 L359.18,279.20 L359.92,279.20 L360.67,279.20 L361.41,279.20 L362.16,279.20 L362.90,279.20 L363.64,279.20 L364.39,279.20 L365.13,279.20 L365.88,279.20 L366.62,279.20 L367.36,279.20 L368.11,279.20 L368.85,279.20 L369.60,279.20 L370.34,279.20 L371.08,279.20 L371.83,279.20 L372.57,279.20 L373.32,279.20 L374.06,279.20 L374.80,279.20 L375.55,279.20 L376.29,279.20 L377.04,279.20 L377.78,279.20 L378.52,279.20 L379.27,279.20 L380.01,279.20 L380.76,279.20 L381.50,279.20 L382.24,279.20 L382.99,279.20 L383.73,279.20 L384.48,279.20 L385.22,279.20 L385.96,279.20 L386.71,279.20 L387.45,279.20 L388.20,279.20 L388.94,279.20 L389.68,279.20 L390.43,279.20 L391.17,279.20 L391.92,279.20 L392.66,279.20 L393.40,279.20 L394.15,279.20 L394.89,279.20 L395.64,279.20 L396.38,279.20 L397.12,279.20 L397.87,279.20 L398.61,279.20 L399.36,279.20 L400.10,279.20 L400.77,279.20" fill="none" stroke="#0b8a22" stroke-width="2.0" stroke-linejoin="round" stroke-linecap="butt"/>
<path d="M290.17,279.20 L290.92,279.20 L291.66,279.20 L292.41,279.20 L293.15,279.20 L293.89,279.20 L294.64,279.20 L295.38,279.20 L296.13,279.20 L296.87,279.20 L297.61,279.20 L298.36,279.20 L299.10,279.20 L299.85,279.20 L300.59,279.20 L301.33,279.20 L302.08,279.20 L302.82,279.20 L303.01,279.12 L303.19,278.85 L303.38,278.71 L303.57,278.63 L303.75,278.58 L303.94,278.56 L304.12,278.55 L304.31,278.54 L304.50,278.53 L304.68,278.53 L304.87,278.53 L305.05,278.53 L305.24,278.53 L305.43,278.52 L305.61,278.52 L305.80,278.52 L305.98,278.52 L306.17,278.52 L306.36,278.52 L306.54,278.52 L306.73,278.52 L306.91,278.51 L307.10,278.51 L307.29,278.51 L307.47,278.51 L307.66,278.51 L307.84,278.51 L308.03,278.51 L308.22,278.51 L308.40,278.51 L308.59,278.51 L308.77,278.51 L308.96,278.50 L309.15,278.50 L309.33,278.50 L309.52,278.50 L309.70,278.50 L309.89,278.50 L310.08,278.50 L310.26,278.50 L310.45,278.50 L311.19,278.50 L311.94,278.49 L312.68,278.49 L313.42,278.49 L314.17,278.49 L314.91,278.48 L315.66,278.48 L316.40,278.48 L317.14,278.48 L317.89,278.48 L318.63,278.48 L319.38,278.48 L320.12,278.48 L320.86,278.47 L321.61,278.47 L322.35,278.47 L323.10,278.47 L323.84,278.47 L324.58,278.47 L324.77,278.47 L324.96,278.47 L325.14,278.47 L325.33,278.55 L325.51,278.84 L325.70,279.00 L325.89,279.08 L326.07,279.13 L326.26,279.15 L326.44,279.17 L326.63,279.17 L326.82,279.18 L327.00,279.18 L327.19,279.19 L327.37,279.19 L327.56,279.19 L327.75,279.19 L327.93,279.19 L328.12,279.19 L328.30,279.19 L328.49,279.19 L328.68,279.19 L328.86,279.19 L329.05,279.20 L329.23,279.20 L329.42,279.20 L329.61,279.20 L329.79,279.20 L329.98,279.20 L330.16,279.20 L330.35,279.20 L330.54,279.20 L330.72,279.20 L330.91,279.20 L331.09,279.20 L331.28,279.20 L331.47,279.20 L331.65,279.20 L331.84,279.20 L332.02,279.20 L332.21,279.20 L332.40,279.20 L332.58,279.20 L332.77,279.20 L332.95,279.20 L333.14,279.20 L333.33,279.20 L333.51,279.20 L333.70,279.20 L333.88,279.20 L334.07,279.20 L334.26,279.20 L334.44,279.20 L334.63,279.20 L335.37,279.20 L336.12,279.20 L336.86,279.20 L337.60,279.20 L338.35,279.20 L339.09,279.20 L339.84,279.20 L340.58,279.20 L341.32,279.20 L342.07,279.20 L342.81,279.20 L343.56,279.20 L344.30,279.20 L345.04,279.20 L345.79,279.20 L346.53,279.20 L347.28,279.20 L348.02,279.20 L348.76,279.20 L349.51,279.20 L350.25,279.20 L351.00,279.20 L351.74,279.20 L352.48,279.20 L353.23,279.20 L353.97,279.20 L354.72,279.20 L355.46,279.20 L356.20,279.20 L356.95,279.20 L357.69,279.20 L358.44,279.20 L359.18,279.20 L359.92,279.20 L360.67,279.20 L361.41,279.20 L362.16,279.20 L362.90,279.20 L363.64,279.20 L364.39,279.20 L365.13,279.20 L365.88,279.20 L366.62,279.20 L367.36,279.20 L368.11,279.20 L368.85,279.20 L369.60,279.20 L370.34,279.20 L371.08,279.20 L371.83,279.20 L372.57,279.20 L373.32,279.20 L374.06,279.20 L374.80,279.20 L375.55,279.20 L376.29,279.20 L377.04,279.20 L377.78,279.20 L378.52,279.20 L379.27,279.20 L380.01,279.20 L380.76,279.20 L381.50,279.20 L382.24,279.20 L382.99,279.20 L383.73,279.20 L384.48,279.20 L385.22,279.20 L385.96,279.20 L386.71,279.20 L387.45,279.20 L388.20,279.20 L388.94,279.20 L389.68,279.20 L390.43,279.20 L391.17,279.20 L391.92,279.20 L392.66,279.20 L393.40,279.20 L394.15,279.20 L394.89,279.20 L395.64,279.20 L396.38,279.20 L397.12,279.20 L397.87,279.20 L398.61,279.20 L399.36,279.20 L400.10,279.20 L400.77,279.20" fill="none" stroke="#c8c41a" stroke-width="2.0" stroke-linejoin="round" stroke-linecap="butt"/>
<path d="M290.17,279.20 L290.92,279.20 L291.66,279.20 L292.41,279.20 L293.15,279.20 L293.89,279.20 L294.64,279.20 L295.38,279.20 L296.13,279.20 L296.87,279.20 L297.61,279.20 L298.36,279.20 L299.10,279.20 L299.85,279.20 L300.59,279.20 L301.33,279.20 L302.08,279.20 L302.82,279.20 L303.01,279.15 L303.19,278.97 L303.38,278.87 L303.57,278.82 L303.75,278.79 L303.94,278.77 L304.12,278.76 L304.31,278.76 L304.50,278.76 L304.68,278.75 L304.87,278.75 L305.05,278.75 L305.24,278.75 L305.43,278.75 L305.61,278.75 L305.80,278.75 L305.98,278.75 L306.17,278.75 L306.36,278.75 L306.54,278.74 L306.73,278.74 L306.91,278.74 L307.10,278.74 L307.29,278.74 L307.47,278.74 L307.66,278.74 L307.84,278.74 L308.03,278.74 L308.22,278.74 L308.40,278.74 L308.59,278.74 L308.77,278.74 L308.96,278.74 L309.15,278.74 L309.33,278.74 L309.52,278.73 L309.70,278.73 L309.89,278.73 L310.08,278.73 L310.26,278.73 L310.45,278.73 L311.19,278.73 L311.94,278.73 L312.68,278.73 L313.42,278.73 L314.17,278.72 L314.91,278.72 L315.66,278.72 L316.40,278.72 L317.14,278.72 L317.89,278.72 L318.63,278.72 L319.38,278.72 L320.12,278.72 L320.86,278.72 L321.61,278.72 L322.35,278.71 L323.10,278.71 L323.84,278.71 L324.58,278.71 L324.77,278.71 L324.96,278.71 L325.14,278.71 L325.33,278.77 L325.51,278.96 L325.70,279.06 L325.89,279.12 L326.07,279.15 L326.26,279.17 L326.44,279.18 L326.63,279.18 L326.82,279.19 L327.00,279.19 L327.19,279.19 L327.37,279.19 L327.56,279.19 L327.75,279.19 L327.93,279.19 L328.12,279.19 L328.30,279.20 L328.49,279.20 L328.68,279.20 L328.86,279.20 L329.05,279.20 L329.23,279.20 L329.42,279.20 L329.61,279.20 L329.79,279.20 L329.98,279.20 L330.16,279.20 L330.35,279.20 L330.54,279.20 L330.72,279.20 L330.91,279.20 L331.09,279.20 L331.28,279.20 L331.47,279.20 L331.65,279.20 L331.84,279.20 L332.02,279.20 L332.21,279.20 L332.40,279.20 L332.58,279.20 L332.77,279.20 L332.95,279.20 L333.14,279.20 L333.33,279.20 L333.51,279.20 L333.70,279.20 L333.88,279.20 L334.07,279.20 L334.26,279.20 L334.44,279.20 L334.63,279.20 L335.37,279.20 L336.12,279.20 L336.86,279.20 L337.60,279.20 L338.35,279.20 L339.09,279.20 L339.84,279.20 L340.58,279.20 L341.32,279.20 L342.07,279.20 L342.81,279.20 L343.56,279.20 L344.30,279.20 L345.04,279.20 L345.79,279.20 L346.53,279.20 L347.28,279.20 L348.02,279.20 L348.76,279.20 L349.51,279.20 L350.25,279.20 L351.00,279.20 L351.74,279.20 L352.48,279.20 L353.23,279.20 L353.97,279.20 L354.72,279.20 L355.46,279.20 L356.20,279.20 L356.95,279.20 L357.69,279.20 L358.44,279.20 L359.18,279.20 L359.92,279.20 L360.67,279.20 L361.41,279.20 L362.16,279.20 L362.90,279.20 L363.64,279.20 L364.39,279.20 L365.13,279.20 L365.88,279.20 L366.62,279.20 L367.36,279.20 L368.11,279.20 L368.85,279.20 L369.60,279.20 L370.34,279.20 L371.08,279.20 L371.83,279.20 L372.57,279.20 L373.32,279.20 L374.06,279.20 L374.80,279.20 L375.55,279.20 L376.29,279.20 L377.04,279.20 L377.78,279.20 L378.52,279.20 L379.27,279.20 L380.01,279.20 L380.76,279.20 L381.50,279.20 L382.24,279.20 L382.99,279.20 L383.73,279.20 L384.48,279.20 L385.22,279.20 L385.96,279.20 L386.71,279.20 L387.45,279.20 L388.20,279.20 L388.94,279.20 L389.68,279.20 L390.43,279.20 L391.17,279.20 L391.92,279.20 L392.66,279.20 L393.40,279.20 L394.15,279.20 L394.89,279.20 L395.64,279.20 L396.38,279.20 L397.12,279.20 L397.87,279.20 L398.61,279.20 L399.36,279.20 L400.10,279.20 L400.77,279.20" fill="none" stroke="#f5691f" stroke-width="2.0" stroke-linejoin="round" stroke-linecap="butt"/>
<path d="M290.17,279.20 L290.92,279.20 L291.66,279.20 L292.41,279.20 L293.15,279.20 L293.89,279.20 L294.64,279.20 L295.38,279.20 L296.13,279.20 L296.87,279.20 L297.61,279.20 L298.36,279.20 L299.10,279.20 L299.85,279.20 L300.59,279.20 L301.33,279.20 L302.08,279.20 L302.82,279.20 L303.01,279.17 L303.19,279.05 L303.38,278.99 L303.57,278.96 L303.75,278.94 L303.94,278.93 L304.12,278.93 L304.31,278.92 L304.50,278.92 L304.68,278.92 L304.87,278.92 L305.05,278.92 L305.24,278.92 L305.43,278.92 L305.61,278.92 L305.80,278.92 L305.98,278.92 L306.17,278.92 L306.36,278.92 L306.54,278.92 L306.73,278.91 L306.91,278.91 L307.10,278.91 L307.29,278.91 L307.47,278.91 L307.66,278.91 L307.84,278.91 L308.03,278.91 L308.22,278.91 L308.40,278.91 L308.59,278.91 L308.77,278.91 L308.96,278.91 L309.15,278.91 L309.33,278.91 L309.52,278.91 L309.70,278.91 L309.89,278.91 L310.08,278.91 L310.26,278.91 L310.45,278.91 L311.19,278.91 L311.94,278.91 L312.68,278.90 L313.42,278.90 L314.17,278.90 L314.91,278.90 L315.66,278.90 L316.40,278.90 L317.14,278.90 L317.89,278.90 L318.63,278.90 L319.38,278.90 L320.12,278.90 L320.86,278.90 L321.61,278.90 L322.35,278.90 L323.10,278.90 L323.84,278.90 L324.58,278.90 L324.77,278.90 L324.96,278.90 L325.14,278.90 L325.33,278.93 L325.51,279.05 L325.70,279.11 L325.89,279.15 L326.07,279.17 L326.26,279.18 L326.44,279.19 L326.63,279.19 L326.82,279.19 L327.00,279.19 L327.19,279.19 L327.37,279.19 L327.56,279.20 L327.75,279.20 L327.93,279.20 L328.12,279.20 L328.30,279.20 L328.49,279.20 L328.68,279.20 L328.86,279.20 L329.05,279.20 L329.23,279.20 L329.42,279.20 L329.61,279.20 L329.79,279.20 L329.98,279.20 L330.16,279.20 L330.35,279.20 L330.54,279.20 L330.72,279.20 L330.91,279.20 L331.09,279.20 L331.28,279.20 L331.47,279.20 L331.65,279.20 L331.84,279.20 L332.02,279.20 L332.21,279.20 L332.40,279.20 L332.58,279.20 L332.77,279.20 L332.95,279.20 L333.14,279.20 L333.33,279.20 L333.51,279.20 L333.70,279.20 L333.88,279.20 L334.07,279.20 L334.26,279.20 L334.44,279.20 L334.63,279.20 L335.37,279.20 L336.12,279.20 L336.86,279.20 L337.60,279.20 L338.35,279.20 L339.09,279.20 L339.84,279.20 L340.58,279.20 L341.32,279.20 L342.07,279.20 L342.81,279.20 L343.56,279.20 L344.30,279.20 L345.04,279.20 L345.79,279.20 L346.53,279.20 L347.28,279.20 L348.02,279.20 L348.76,279.20 L349.51,279.20 L350.25,279.20 L351.00,279.20 L351.74,279.20 L352.48,279.20 L353.23,279.20 L353.97,279.20 L354.72,279.20 L355.46,279.20 L356.20,279.20 L356.95,279.20 L357.69,279.20 L358.44,279.20 L359.18,279.20 L359.92,279.20 L360.67,279.20 L361.41,279.20 L362.16,279.20 L362.90,279.20 L363.64,279.20 L364.39,279.20 L365.13,279.20 L365.88,279.20 L366.62,279.20 L367.36,279.20 L368.11,279.20 L368.85,279.20 L369.60,279.20 L370.34,279.20 L371.08,279.20 L371.83,279.20 L372.57,279.20 L373.32,279.20 L374.06,279.20 L374.80,279.20 L375.55,279.20 L376.29,279.20 L377.04,279.20 L377.78,279.20 L378.52,279.20 L379.27,279.20 L380.01,279.20 L380.76,279.20 L381.50,279.20 L382.24,279.20 L382.99,279.20 L383.73,279.20 L384.48,279.20 L385.22,279.20 L385.96,279.20 L386.71,279.20 L387.45,279.20 L388.20,279.20 L388.94,279.20 L389.68,279.20 L390.43,279.20 L391.17,279.20 L391.92,279.20 L392.66,279.20 L393.40,279.20 L394.15,279.20 L394.89,279.20 L395.64,279.20 L396.38,279.20 L397.12,279.20 L397.87,279.20 L398.61,279.20 L399.36,279.20 L400.10,279.20 L400.77,279.20" fill="none" stroke="#ee1c24" stroke-width="2.0" stroke-linejoin="round" stroke-linecap="butt"/>
<path d="M290.17,279.20 L290.92,279.20 L291.66,279.20 L292.41,279.20 L293.15,279.20 L293.89,279.20 L294.64,279.20 L295.38,279.20 L296.13,279.20 L296.87,279.20 L297.61,279.20 L298.36,279.20 L299.10,279.20 L299.85,279.20 L300.59,279.20 L301.33,279.20 L302.08,279.20 L302.82,279.20 L303.01,279.18 L303.19,279.11 L303.38,279.08 L303.57,279.06 L303.75,279.05 L303.94,279.04 L304.12,279.04 L304.31,279.03 L304.50,279.03 L304.68,279.03 L304.87,279.03 L305.05,279.03 L305.24,279.03 L305.43,279.03 L305.61,279.03 L305.80,279.03 L305.98,279.03 L306.17,279.03 L306.36,279.03 L306.54,279.03 L306.73,279.03 L306.91,279.03 L307.10,279.03 L307.29,279.03 L307.47,279.03 L307.66,279.03 L307.84,279.03 L308.03,279.03 L308.22,279.03 L308.40,279.03 L308.59,279.03 L308.77,279.03 L308.96,279.03 L309.15,279.03 L309.33,279.03 L309.52,279.03 L309.70,279.03 L309.89,279.03 L310.08,279.02 L310.26,279.02 L310.45,279.02 L311.19,279.02 L311.94,279.02 L312.68,279.02 L313.42,279.02 L314.17,279.02 L314.91,279.02 L315.66,279.02 L316.40,279.02 L317.14,279.02 L317.89,279.02 L318.63,279.02 L319.38,279.02 L320.12,279.02 L320.86,279.02 L321.61,279.02 L322.35,279.02 L323.10,279.02 L323.84,279.02 L324.58,279.02 L324.77,279.02 L324.96,279.02 L325.14,279.02 L325.33,279.04 L325.51,279.11 L325.70,279.15 L325.89,279.17 L326.07,279.18 L326.26,279.19 L326.44,279.19 L326.63,279.19 L326.82,279.19 L327.00,279.20 L327.19,279.20 L327.37,279.20 L327.56,279.20 L327.75,279.20 L327.93,279.20 L328.12,279.20 L328.30,279.20 L328.49,279.20 L328.68,279.20 L328.86,279.20 L329.05,279.20 L329.23,279.20 L329.42,279.20 L329.61,279.20 L329.79,279.20 L329.98,279.20 L330.16,279.20 L330.35,279.20 L330.54,279.20 L330.72,279.20 L330.91,279.20 L331.09,279.20 L331.28,279.20 L331.47,279.20 L331.65,279.20 L331.84,279.20 L332.02,279.20 L332.21,279.20 L332.40,279.20 L332.58,279.20 L332.77,279.20 L332.95,279.20 L333.14,279.20 L333.33,279.20 L333.51,279.20 L333.70,279.20 L333.88,279.20 L334.07,279.20 L334.26,279.20 L334.44,279.20 L334.63,279.20 L335.37,279.20 L336.12,279.20 L336.86,279.20 L337.60,279.20 L338.35,279.20 L339.09,279.20 L339.84,279.20 L340.58,279.20 L341.32,279.20 L342.07,279.20 L342.81,279.20 L343.56,279.20 L344.30,279.20 L345.04,279.20 L345.79,279.20 L346.53,279.20 L347.28,279.20 L348.02,279.20 L348.76,279.20 L349.51,279.20 L350.25,279.20 L351.00,279.20 L351.74,279.20 L352.48,279.20 L353.23,279.20 L353.97,279.20 L354.72,279.20 L355.46,279.20 L356.20,279.20 L356.95,279.20 L357.69,279.20 L358.44,279.20 L359.18,279.20 L359.92,279.20 L360.67,279.20 L361.41,279.20 L362.16,279.20 L362.90,279.20 L363.64,279.20 L364.39,279.20 L365.13,279.20 L365.88,279.20 L366.62,279.20 L367.36,279.20 L368.11,279.20 L368.85,279.20 L369.60,279.20 L370.34,279.20 L371.08,279.20 L371.83,279.20 L372.57,279.20 L373.32,279.20 L374.06,279.20 L374.80,279.20 L375.55,279.20 L376.29,279.20 L377.04,279.20 L377.78,279.20 L378.52,279.20 L379.27,279.20 L380.01,279.20 L380.76,279.20 L381.50,279.20 L382.24,279.20 L382.99,279.20 L383.73,279.20 L384.48,279.20 L385.22,279.20 L385.96,279.20 L386.71,279.20 L387.45,279.20 L388.20,279.20 L388.94,279.20 L389.68,279.20 L390.43,279.20 L391.17,279.20 L391.92,279.20 L392.66,279.20 L393.40,279.20 L394.15,279.20 L394.89,279.20 L395.64,279.20 L396.38,279.20 L397.12,279.20 L397.87,279.20 L398.61,279.20 L399.36,279.20 L400.10,279.20 L400.77,279.20" fill="none" stroke="#c8975a" stroke-width="2.0" stroke-linejoin="round" stroke-linecap="butt"/>
<path d="M290.17,279.20 L290.92,279.20 L291.66,279.20 L292.41,279.20 L293.15,279.20 L293.89,279.20 L294.64,279.20 L295.38,279.20 L296.13,279.20 L296.87,279.20 L297.61,279.20 L298.36,279.20 L299.10,279.20 L299.85,279.20 L300.59,279.20 L301.33,279.20 L302.08,279.20 L302.82,279.20 L303.01,279.20 L303.19,279.20 L303.38,279.20 L303.57,279.20 L303.75,279.20 L303.94,279.20 L304.12,279.20 L304.31,279.20 L304.50,279.20 L304.68,279.20 L304.87,279.20 L305.05,279.20 L305.24,279.20 L305.43,279.20 L305.61,279.20 L305.80,279.20 L305.98,279.20 L306.17,279.20 L306.36,279.20 L306.54,279.20 L306.73,279.20 L306.91,279.20 L307.10,279.20 L307.29,279.20 L307.47,279.20 L307.66,279.20 L307.84,279.20 L308.03,279.20 L308.22,279.20 L308.40,279.20 L308.59,279.20 L308.77,279.20 L308.96,279.20 L309.15,279.20 L309.33,279.20 L309.52,279.20 L309.70,279.20 L309.89,279.20 L310.08,279.20 L310.26,279.20 L310.45,279.20 L311.19,279.20 L311.94,279.20 L312.68,279.20 L313.42,279.20 L314.17,279.20 L314.91,279.20 L315.66,279.20 L316.40,279.20 L317.14,279.20 L317.89,279.20 L318.63,279.20 L319.38,279.20 L320.12,279.20 L320.86,279.20 L321.61,279.20 L322.35,279.20 L323.10,279.20 L323.84,279.20 L324.58,279.20 L324.77,279.20 L324.96,279.20 L325.14,279.20 L325.33,279.20 L325.51,279.20 L325.70,279.20 L325.89,279.20 L326.07,279.20 L326.26,279.20 L326.44,279.20 L326.63,279.20 L326.82,279.20 L327.00,279.20 L327.19,279.20 L327.37,279.20 L327.56,279.20 L327.75,279.20 L327.93,279.20 L328.12,279.20 L328.30,279.20 L328.49,279.20 L328.68,279.20 L328.86,279.20 L329.05,279.20 L329.23,279.20 L329.42,279.20 L329.61,279.20 L329.79,279.20 L329.98,279.20 L330.16,279.20 L330.35,279.20 L330.54,279.20 L330.72,279.20 L330.91,279.20 L331.09,279.20 L331.28,279.20 L331.47,279.20 L331.65,279.20 L331.84,279.20 L332.02,279.20 L332.21,279.20 L332.40,279.20 L332.58,279.20 L332.77,279.20 L332.95,279.20 L333.14,279.20 L333.33,279.20 L333.51,279.20 L333.70,279.20 L333.88,279.20 L334.07,279.20 L334.26,279.20 L334.44,279.20 L334.63,279.20 L335.37,279.20 L336.12,279.20 L336.86,279.20 L337.60,279.20 L338.35,279.20 L339.09,279.20 L339.84,279.20 L340.58,279.20 L341.32,279.20 L342.07,279.20 L342.81,279.20 L343.56,279.20 L344.30,279.20 L345.04,279.20 L345.79,279.20 L346.53,279.20 L347.28,279.20 L348.02,279.20 L348.76,279.20 L349.51,279.20 L350.25,279.20 L351.00,279.20 L351.74,279.20 L352.48,279.20 L353.23,279.20 L353.97,279.20 L354.72,279.20 L355.46,279.20 L356.20,279.20 L356.95,279.20 L357.69,279.20 L358.44,279.20 L359.18,279.20 L359.92,279.20 L360.67,279.20 L361.41,279.20 L362.16,279.20 L362.90,279.20 L363.64,279.20 L364.39,279.20 L365.13,279.20 L365.88,279.20 L366.62,279.20 L367.36,279.20 L368.11,279.20 L368.85,279.20 L369.60,279.20 L370.34,279.20 L371.08,279.20 L371.83,279.20 L372.57,279.20 L373.32,279.20 L374.06,279.20 L374.80,279.20 L375.55,279.20 L376.29,279.20 L377.04,279.20 L377.78,279.20 L378.52,279.20 L379.27,279.20 L380.01,279.20 L380.76,279.20 L381.50,279.20 L382.24,279.20 L382.99,279.20 L383.73,279.20 L384.48,279.20 L385.22,279.20 L385.96,279.20 L386.71,279.20 L387.45,279.20 L388.20,279.20 L388.94,279.20 L389.68,279.20 L390.43,279.20 L391.17,279.20 L391.92,279.20 L392.66,279.20 L393.40,279.20 L394.15,279.20 L394.89,279.20 L395.64,279.20 L396.38,279.20 L397.12,279.20 L397.87,279.20 L398.61,279.20 L399.36,279.20 L400.10,279.20 L400.77,279.20" fill="none" stroke="#000000" stroke-width="2.35" stroke-linejoin="round" stroke-linecap="butt"/>
<rect x="271.35" y="187.90" width="148.80" height="97.30" fill="none" stroke="#000" stroke-width="2.05"/>
<line x1="267.35" y1="279.20" x2="271.35" y2="279.20" stroke="#000" stroke-width="2.0" stroke-linecap="butt"/>
<text x="258.82" y="281.49" font-size="8.6" font-weight="bold" fill="#000" style="color:#000" transform="matrix(1 0 0 1.08 0 -22.519)">0</text>
<line x1="267.35" y1="248.77" x2="271.35" y2="248.77" stroke="#000" stroke-width="2.0" stroke-linecap="butt"/>
<text x="251.88" y="251.06" font-size="8.6" font-weight="bold" fill="#000" style="color:#000" transform="matrix(1 0 0 1.08 0 -20.085)">500</text>
<line x1="267.35" y1="218.33" x2="271.35" y2="218.33" stroke="#000" stroke-width="2.0" stroke-linecap="butt"/>
<text x="247.06" y="220.62" font-size="8.6" font-weight="bold" fill="#000" style="color:#000" transform="matrix(1 0 0 1.08 0 -17.650)">1000</text>
<line x1="267.35" y1="187.90" x2="271.35" y2="187.90" stroke="#000" stroke-width="2.0" stroke-linecap="butt"/>
<text x="247.06" y="190.19" font-size="8.6" font-weight="bold" fill="#000" style="color:#000" transform="matrix(1 0 0 1.08 0 -15.215)">1500</text>
<line x1="271.35" y1="285.20" x2="271.35" y2="289.20" stroke="#000" stroke-width="2.0" stroke-linecap="butt"/>
<text x="268.96" y="297.44" font-size="8.6" font-weight="bold" fill="#000" style="color:#000" transform="matrix(1 0 0 1.08 0 -23.795)">0</text>
<line x1="308.55" y1="285.20" x2="308.55" y2="289.20" stroke="#000" stroke-width="2.0" stroke-linecap="butt"/>
<text x="302.30" y="297.44" font-size="8.6" font-weight="bold" fill="#000" style="color:#000" transform="matrix(1 0 0 1.08 0 -23.795)">100</text>
<line x1="345.75" y1="285.20" x2="345.75" y2="289.20" stroke="#000" stroke-width="2.0" stroke-linecap="butt"/>
<text x="339.61" y="297.44" font-size="8.6" font-weight="bold" fill="#000" style="color:#000" transform="matrix(1 0 0 1.08 0 -23.795)">200</text>
<line x1="382.95" y1="285.20" x2="382.95" y2="289.20" stroke="#000" stroke-width="2.0" stroke-linecap="butt"/>
<text x="376.85" y="297.44" font-size="8.6" font-weight="bold" fill="#000" style="color:#000" transform="matrix(1 0 0 1.08 0 -23.795)">300</text>
<line x1="420.15" y1="285.20" x2="420.15" y2="289.20" stroke="#000" stroke-width="2.0" stroke-linecap="butt"/>
<text x="414.10" y="297.44" font-size="8.6" font-weight="bold" fill="#000" style="color:#000" transform="matrix(1 0 0 1.08 0 -23.795)">400</text>
<text x="249.25" y="178.30" font-size="9.99" font-weight="bold" fill="#000" style="color:#000" transform="matrix(1 0 0 1.08 0 -14.264)">A/SG/1/1957-N144E HA to &#945;2-3 glycans</text>
<text x="0" y="0" font-size="9.67" font-weight="bold" transform="translate(243.82,234.90) rotate(-90) translate(-48.18,0)">Response Units (RU)</text>
<text x="332.50" y="312.80" font-size="9.94" font-weight="bold" fill="#000" style="color:#000" transform="matrix(1 0 0 1.08 0 -25.024)">Time(s)</text>
<line x1="380.40" y1="195.30" x2="389.20" y2="195.30" stroke="#000000" stroke-width="2.2" stroke-linecap="butt"/>
<text x="392.52" y="197.10" font-size="7.0" font-weight="normal" fill="#1a1a1a" style="color:#1a1a1a" transform="matrix(1 0 0 1.08 0 -15.768)">0&#956;M</text>
<line x1="380.40" y1="205.53" x2="389.20" y2="205.53" stroke="#c8975a" stroke-width="2.2" stroke-linecap="butt"/>
<text x="392.52" y="207.33" font-size="7.0" font-weight="normal" fill="#1a1a1a" style="color:#1a1a1a" transform="matrix(1 0 0 1.08 0 -16.586)">0.25&#956;M</text>
<line x1="380.40" y1="215.76" x2="389.20" y2="215.76" stroke="#ee1c24" stroke-width="2.2" stroke-linecap="butt"/>
<text x="392.52" y="217.56" font-size="7.0" font-weight="normal" fill="#1a1a1a" style="color:#1a1a1a" transform="matrix(1 0 0 1.08 0 -17.405)">0.5&#956;M</text>
<line x1="380.40" y1="225.99" x2="389.20" y2="225.99" stroke="#f5691f" stroke-width="2.2" stroke-linecap="butt"/>
<text x="392.27" y="227.79" font-size="7.0" font-weight="normal" fill="#1a1a1a" style="color:#1a1a1a" transform="matrix(1 0 0 1.08 0 -18.223)">1&#956;M</text>
<line x1="380.40" y1="236.22" x2="389.20" y2="236.22" stroke="#c8c41a" stroke-width="2.2" stroke-linecap="butt"/>
<text x="392.45" y="238.02" font-size="7.0" font-weight="normal" fill="#1a1a1a" style="color:#1a1a1a" transform="matrix(1 0 0 1.08 0 -19.042)">2&#956;M</text>
<line x1="380.40" y1="246.45" x2="389.20" y2="246.45" stroke="#0b8a22" stroke-width="2.2" stroke-linecap="butt"/>
<text x="392.66" y="248.25" font-size="7.0" font-weight="normal" fill="#1a1a1a" style="color:#1a1a1a" transform="matrix(1 0 0 1.08 0 -19.860)">4&#956;M</text>
<line x1="380.40" y1="256.68" x2="389.20" y2="256.68" stroke="#7680c2" stroke-width="2.2" stroke-linecap="butt"/>
<text x="392.48" y="258.48" font-size="7.0" font-weight="normal" fill="#1a1a1a" style="color:#1a1a1a" transform="matrix(1 0 0 1.08 0 -20.678)">8&#956;M</text>
<path d="M488.15,275.51 L489.83,273.48 L491.52,271.55 L493.20,269.71 L494.88,267.95 L496.56,266.27 L498.25,264.65 L499.93,263.11 L501.61,261.63 L503.30,260.20 L504.98,258.83 L506.66,257.52 L508.35,256.25 L510.03,255.04 L511.71,253.86 L513.39,252.73 L515.08,251.63 L516.76,250.58 L518.44,249.56 L520.13,248.57 L521.81,247.62 L523.49,246.70 L525.18,245.80 L526.86,244.94 L528.54,244.10 L530.23,243.29 L531.91,242.50 L533.59,241.73 L535.27,240.99 L536.96,240.26 L538.64,239.56 L540.32,238.88 L542.01,238.22 L543.69,237.57 L545.37,236.94 L547.05,236.33 L548.74,235.73 L550.42,235.15 L552.10,234.58 L553.79,234.03 L555.47,233.49 L557.15,232.97 L558.84,232.45 L560.52,231.95 L562.20,231.46 L563.88,230.98 L565.57,230.52 L567.25,230.06 L568.93,229.62 L570.62,229.18 L572.30,228.75 L573.98,228.34 L575.67,227.93 L577.35,227.53 L579.03,227.14 L580.71,226.75 L582.40,226.38 L584.08,226.01 L585.76,225.65 L587.45,225.30 L589.13,224.95 L590.81,224.61 L592.50,224.28 L594.18,223.96 L595.86,223.64 L597.54,223.32 L599.23,223.01 L600.91,222.71 L602.59,222.41 L604.28,222.12 L605.96,221.84 L607.64,221.56 L609.33,221.28 L611.01,221.01 L612.69,220.74 L614.38,220.48 L616.06,220.22 L617.74,219.97 L619.42,219.72 L621.11,219.48 L622.79,219.24" fill="none" stroke="#e8202a" stroke-width="2.3" stroke-linejoin="round" stroke-linecap="butt"/>
<path d="M488.15,277.84 L501.61,277.67 L515.08,277.51 L528.54,277.34 L542.01,277.17 L555.47,277.01 L568.93,276.84 L582.40,276.67 L595.86,276.51 L609.33,276.34 L622.79,276.18" fill="none" stroke="#2855a6" stroke-width="2.3" stroke-linejoin="round" stroke-linecap="butt"/>
<circle cx="492.36" cy="277.78" r="1.7" fill="#000" stroke="none" stroke-width="0"/>
<circle cx="496.56" cy="277.72" r="1.7" fill="#000" stroke="none" stroke-width="0"/>
<circle cx="504.98" cy="277.59" r="1.7" fill="#000" stroke="none" stroke-width="0"/>
<circle cx="521.81" cy="277.41" r="1.7" fill="#000" stroke="none" stroke-width="0"/>
<circle cx="555.47" cy="277.04" r="1.7" fill="#000" stroke="none" stroke-width="0"/>
<circle cx="622.79" cy="276.19" r="1.7" fill="#000" stroke="none" stroke-width="0"/>
<circle cx="492.36" cy="270.93" r="1.6" fill="none" stroke="#000" stroke-width="1.05"/>
<circle cx="496.56" cy="266.22" r="1.6" fill="none" stroke="#000" stroke-width="1.05"/>
<circle cx="504.98" cy="258.45" r="1.6" fill="none" stroke="#000" stroke-width="1.05"/>
<circle cx="521.81" cy="247.32" r="1.6" fill="none" stroke="#000" stroke-width="1.05"/>
<circle cx="555.47" cy="234.23" r="1.6" fill="none" stroke="#000" stroke-width="1.05"/>
<circle cx="622.79" cy="218.94" r="1.6" fill="none" stroke="#000" stroke-width="1.05"/>
<rect x="488.15" y="186.15" width="151.90" height="97.75" fill="none" stroke="#000" stroke-width="2.05"/>
<line x1="484.15" y1="277.90" x2="488.15" y2="277.90" stroke="#000" stroke-width="2.0" stroke-linecap="butt"/>
<text x="475.36" y="280.37" font-size="9.1" font-weight="bold" fill="#000" style="color:#000" transform="matrix(1 0 0 1.08 0 -22.429)">0</text>
<line x1="484.15" y1="247.32" x2="488.15" y2="247.32" stroke="#000" stroke-width="2.0" stroke-linecap="butt"/>
<text x="467.86" y="249.78" font-size="9.1" font-weight="bold" fill="#000" style="color:#000" transform="matrix(1 0 0 1.08 0 -19.983)">500</text>
<line x1="484.15" y1="216.73" x2="488.15" y2="216.73" stroke="#000" stroke-width="2.0" stroke-linecap="butt"/>
<text x="462.77" y="219.20" font-size="9.1" font-weight="bold" fill="#000" style="color:#000" transform="matrix(1 0 0 1.08 0 -17.536)">1000</text>
<line x1="484.15" y1="186.15" x2="488.15" y2="186.15" stroke="#000" stroke-width="2.0" stroke-linecap="butt"/>
<text x="462.77" y="188.62" font-size="9.1" font-weight="bold" fill="#000" style="color:#000" transform="matrix(1 0 0 1.08 0 -15.089)">1500</text>
<line x1="488.15" y1="283.90" x2="488.15" y2="287.90" stroke="#000" stroke-width="2.0" stroke-linecap="butt"/>
<text x="485.62" y="296.32" font-size="9.1" font-weight="bold" fill="#000" style="color:#000" transform="matrix(1 0 0 1.08 0 -23.705)">0</text>
<line x1="521.81" y1="283.90" x2="521.81" y2="287.90" stroke="#000" stroke-width="2.0" stroke-linecap="butt"/>
<text x="519.71" y="296.32" font-size="9.1" font-weight="bold" fill="#000" style="color:#000" transform="matrix(1 0 0 1.08 0 -23.705)">2</text>
<line x1="555.47" y1="283.90" x2="555.47" y2="287.90" stroke="#000" stroke-width="2.0" stroke-linecap="butt"/>
<text x="553.30" y="296.32" font-size="9.1" font-weight="bold" fill="#000" style="color:#000" transform="matrix(1 0 0 1.08 0 -23.705)">4</text>
<line x1="589.13" y1="283.90" x2="589.13" y2="287.90" stroke="#000" stroke-width="2.0" stroke-linecap="butt"/>
<text x="587.00" y="296.32" font-size="9.1" font-weight="bold" fill="#000" style="color:#000" transform="matrix(1 0 0 1.08 0 -23.705)">6</text>
<line x1="622.79" y1="283.90" x2="622.79" y2="287.90" stroke="#000" stroke-width="2.0" stroke-linecap="butt"/>
<text x="620.66" y="296.32" font-size="9.1" font-weight="bold" fill="#000" style="color:#000" transform="matrix(1 0 0 1.08 0 -23.705)">8</text>
<text x="450.15" y="177.00" font-size="9.88" font-weight="bold" fill="#000" style="color:#000" transform="matrix(1 0 0 1.08 0 -14.160)">A/SG/1/1957-N144E HA to &#945;2-3 and &#945;2-6 glycans</text>
<text x="0" y="0" font-size="9.67" font-weight="bold" transform="translate(461.62,236.00) rotate(-90) translate(-48.18,0)">Response Units (RU)</text>
<text x="526.80" y="310.40" font-size="9.93" font-weight="bold" fill="#000" style="color:#000" transform="matrix(1 0 0 1.08 0 -24.832)">Concentration/&#956;m</text>
<text x="497.16" y="222.80" font-size="9.79" font-weight="bold" fill="#e8202a" style="color:#e8202a" transform="matrix(1 0 0 1.08 0 -17.824)">KD = 0.32 &#956;M</text>
<text x="555.69" y="269.75" font-size="9.81" font-weight="bold" fill="#2855a6" style="color:#2855a6" transform="matrix(1 0 0 1.08 0 -21.580)">KD &gt; 1.0 mM</text>
<path d="M75.91,443.90 L76.65,443.90 L77.39,443.90 L78.12,443.90 L78.86,443.90 L79.60,443.90 L80.34,443.90 L81.08,443.90 L81.82,443.90 L82.56,443.90 L83.30,443.90 L84.04,443.90 L84.78,443.90 L85.51,443.90 L86.25,443.90 L86.99,443.90 L87.73,443.90 L88.47,443.90 L88.66,442.74 L88.84,441.91 L89.02,441.46 L89.21,441.21 L89.39,441.08 L89.58,441.01 L89.76,440.96 L89.95,440.94 L90.13,440.92 L90.32,440.91 L90.50,440.90 L90.69,440.89 L90.87,440.89 L91.06,440.88 L91.24,440.88 L91.43,440.87 L91.61,440.87 L91.80,440.86 L91.98,440.86 L92.17,440.85 L92.35,440.85 L92.54,440.84 L92.72,440.84 L92.90,440.83 L93.09,440.83 L93.27,440.82 L93.46,440.82 L93.64,440.81 L93.83,440.81 L94.01,440.81 L94.20,440.80 L94.38,440.80 L94.57,440.80 L94.75,440.79 L94.94,440.79 L95.12,440.78 L95.31,440.78 L95.49,440.78 L95.68,440.77 L95.86,440.77 L96.05,440.77 L96.78,440.76 L97.52,440.74 L98.26,440.73 L99.00,440.72 L99.74,440.72 L100.48,440.71 L101.22,440.70 L101.96,440.69 L102.70,440.69 L103.44,440.68 L104.17,440.68 L104.91,440.67 L105.65,440.67 L106.39,440.66 L107.13,440.66 L107.87,440.65 L108.61,440.65 L109.35,440.65 L110.09,440.64 L110.83,440.64 L111.01,440.64 L111.19,441.87 L111.38,442.76 L111.56,443.24 L111.75,443.50 L111.93,443.65 L112.12,443.73 L112.30,443.77 L112.49,443.80 L112.67,443.82 L112.86,443.83 L113.04,443.84 L113.23,443.85 L113.41,443.85 L113.60,443.86 L113.78,443.86 L113.97,443.87 L114.15,443.87 L114.34,443.87 L114.52,443.88 L114.71,443.88 L114.89,443.88 L115.07,443.88 L115.26,443.88 L115.44,443.88 L115.63,443.89 L115.81,443.89 L116.00,443.89 L116.18,443.89 L116.37,443.89 L116.55,443.89 L116.74,443.89 L116.92,443.89 L117.11,443.89 L117.29,443.89 L117.48,443.89 L117.66,443.90 L117.85,443.90 L118.03,443.90 L118.22,443.90 L118.40,443.90 L118.58,443.90 L118.77,443.90 L118.95,443.90 L119.14,443.90 L119.32,443.90 L119.51,443.90 L119.69,443.90 L119.88,443.90 L120.06,443.90 L120.25,443.90 L120.43,443.90 L121.17,443.90 L121.91,443.90 L122.65,443.90 L123.39,443.90 L124.13,443.90 L124.87,443.90 L125.61,443.90 L126.34,443.90 L127.08,443.90 L127.82,443.90 L128.56,443.90 L129.30,443.90 L130.04,443.90 L130.78,443.90 L131.52,443.90 L132.26,443.90 L133.00,443.90 L133.73,443.90 L134.47,443.90 L135.21,443.90 L135.95,443.90 L136.69,443.90 L137.43,443.90 L138.17,443.90 L138.91,443.90 L139.65,443.90 L140.39,443.90 L141.12,443.90 L141.86,443.90 L142.60,443.90 L143.34,443.90 L144.08,443.90 L144.82,443.90 L145.56,443.90 L146.30,443.90 L147.04,443.90 L147.78,443.90 L148.51,443.90 L149.25,443.90 L149.99,443.90 L150.73,443.90 L151.47,443.90 L152.21,443.90 L152.95,443.90 L153.69,443.90 L154.43,443.90 L155.17,443.90 L155.90,443.90 L156.64,443.90 L157.38,443.90 L158.12,443.90 L158.86,443.90 L159.60,443.90 L160.34,443.90 L161.08,443.90 L161.82,443.90 L162.56,443.90 L163.29,443.90 L164.03,443.90 L164.77,443.90 L165.51,443.90 L166.25,443.90 L166.99,443.90 L167.73,443.90 L168.47,443.90 L169.21,443.90 L169.95,443.90 L170.68,443.90 L171.42,443.90 L172.16,443.90 L172.90,443.90 L173.64,443.90 L174.38,443.90 L175.12,443.90 L175.86,443.90 L176.60,443.90 L177.34,443.90 L178.07,443.90 L178.81,443.90 L179.55,443.90 L180.29,443.90 L181.03,443.90 L181.77,443.90 L182.51,443.90 L183.25,443.90 L183.99,443.90 L184.73,443.90 L185.46,443.90 L186.20,443.90" fill="none" stroke="#0b8a22" stroke-width="2.0" stroke-linejoin="round" stroke-linecap="butt"/>
<path d="M75.91,443.90 L76.65,443.90 L77.39,443.90 L78.12,443.90 L78.86,443.90 L79.60,443.90 L80.34,443.90 L81.08,443.90 L81.82,443.90 L82.56,443.90 L83.30,443.90 L84.04,443.90 L84.78,443.90 L85.51,443.90 L86.25,443.90 L86.99,443.90 L87.73,443.90 L88.47,443.90 L88.66,443.21 L88.84,442.71 L89.02,442.44 L89.21,442.30 L89.39,442.22 L89.58,442.17 L89.76,442.15 L89.95,442.13 L90.13,442.12 L90.32,442.12 L90.50,442.11 L90.69,442.11 L90.87,442.10 L91.06,442.10 L91.24,442.10 L91.43,442.09 L91.61,442.09 L91.80,442.09 L91.98,442.08 L92.17,442.08 L92.35,442.08 L92.54,442.08 L92.72,442.07 L92.90,442.07 L93.09,442.07 L93.27,442.07 L93.46,442.06 L93.64,442.06 L93.83,442.06 L94.01,442.06 L94.20,442.05 L94.38,442.05 L94.57,442.05 L94.75,442.05 L94.94,442.04 L95.12,442.04 L95.31,442.04 L95.49,442.04 L95.68,442.04 L95.86,442.03 L96.05,442.03 L96.78,442.03 L97.52,442.02 L98.26,442.01 L99.00,442.01 L99.74,442.00 L100.48,442.00 L101.22,441.99 L101.96,441.99 L102.70,441.98 L103.44,441.98 L104.17,441.98 L104.91,441.97 L105.65,441.97 L106.39,441.97 L107.13,441.97 L107.87,441.96 L108.61,441.96 L109.35,441.96 L110.09,441.96 L110.83,441.96 L111.01,441.96 L111.19,442.69 L111.38,443.22 L111.56,443.51 L111.75,443.66 L111.93,443.75 L112.12,443.80 L112.30,443.82 L112.49,443.84 L112.67,443.85 L112.86,443.86 L113.04,443.86 L113.23,443.87 L113.41,443.87 L113.60,443.88 L113.78,443.88 L113.97,443.88 L114.15,443.88 L114.34,443.88 L114.52,443.89 L114.71,443.89 L114.89,443.89 L115.07,443.89 L115.26,443.89 L115.44,443.89 L115.63,443.89 L115.81,443.89 L116.00,443.89 L116.18,443.89 L116.37,443.89 L116.55,443.90 L116.74,443.90 L116.92,443.90 L117.11,443.90 L117.29,443.90 L117.48,443.90 L117.66,443.90 L117.85,443.90 L118.03,443.90 L118.22,443.90 L118.40,443.90 L118.58,443.90 L118.77,443.90 L118.95,443.90 L119.14,443.90 L119.32,443.90 L119.51,443.90 L119.69,443.90 L119.88,443.90 L120.06,443.90 L120.25,443.90 L120.43,443.90 L121.17,443.90 L121.91,443.90 L122.65,443.90 L123.39,443.90 L124.13,443.90 L124.87,443.90 L125.61,443.90 L126.34,443.90 L127.08,443.90 L127.82,443.90 L128.56,443.90 L129.30,443.90 L130.04,443.90 L130.78,443.90 L131.52,443.90 L132.26,443.90 L133.00,443.90 L133.73,443.90 L134.47,443.90 L135.21,443.90 L135.95,443.90 L136.69,443.90 L137.43,443.90 L138.17,443.90 L138.91,443.90 L139.65,443.90 L140.39,443.90 L141.12,443.90 L141.86,443.90 L142.60,443.90 L143.34,443.90 L144.08,443.90 L144.82,443.90 L145.56,443.90 L146.30,443.90 L147.04,443.90 L147.78,443.90 L148.51,443.90 L149.25,443.90 L149.99,443.90 L150.73,443.90 L151.47,443.90 L152.21,443.90 L152.95,443.90 L153.69,443.90 L154.43,443.90 L155.17,443.90 L155.90,443.90 L156.64,443.90 L157.38,443.90 L158.12,443.90 L158.86,443.90 L159.60,443.90 L160.34,443.90 L161.08,443.90 L161.82,443.90 L162.56,443.90 L163.29,443.90 L164.03,443.90 L164.77,443.90 L165.51,443.90 L166.25,443.90 L166.99,443.90 L167.73,443.90 L168.47,443.90 L169.21,443.90 L169.95,443.90 L170.68,443.90 L171.42,443.90 L172.16,443.90 L172.90,443.90 L173.64,443.90 L174.38,443.90 L175.12,443.90 L175.86,443.90 L176.60,443.90 L177.34,443.90 L178.07,443.90 L178.81,443.90 L179.55,443.90 L180.29,443.90 L181.03,443.90 L181.77,443.90 L182.51,443.90 L183.25,443.90 L183.99,443.90 L184.73,443.90 L185.46,443.90 L186.20,443.90" fill="none" stroke="#c8c41a" stroke-width="2.0" stroke-linejoin="round" stroke-linecap="butt"/>
<path d="M75.91,443.90 L76.65,443.90 L77.39,443.90 L78.12,443.90 L78.86,443.90 L79.60,443.90 L80.34,443.90 L81.08,443.90 L81.82,443.90 L82.56,443.90 L83.30,443.90 L84.04,443.90 L84.78,443.90 L85.51,443.90 L86.25,443.90 L86.99,443.90 L87.73,443.90 L88.47,443.90 L88.66,443.28 L88.84,442.83 L89.02,442.58 L89.21,442.45 L89.39,442.38 L89.58,442.34 L89.76,442.32 L89.95,442.31 L90.13,442.30 L90.32,442.29 L90.50,442.29 L90.69,442.28 L90.87,442.28 L91.06,442.27 L91.24,442.27 L91.43,442.27 L91.61,442.27 L91.80,442.26 L91.98,442.26 L92.17,442.26 L92.35,442.26 L92.54,442.25 L92.72,442.25 L92.90,442.25 L93.09,442.25 L93.27,442.24 L93.46,442.24 L93.64,442.24 L93.83,442.24 L94.01,442.23 L94.20,442.23 L94.38,442.23 L94.57,442.23 L94.75,442.23 L94.94,442.22 L95.12,442.22 L95.31,442.22 L95.49,442.22 L95.68,442.22 L95.86,442.22 L96.05,442.21 L96.78,442.21 L97.52,442.20 L98.26,442.20 L99.00,442.19 L99.74,442.19 L100.48,442.18 L101.22,442.18 L101.96,442.17 L102.70,442.17 L103.44,442.17 L104.17,442.16 L104.91,442.16 L105.65,442.16 L106.39,442.16 L107.13,442.15 L107.87,442.15 L108.61,442.15 L109.35,442.15 L110.09,442.15 L110.83,442.15 L111.01,442.15 L111.19,442.81 L111.38,443.29 L111.56,443.54 L111.75,443.68 L111.93,443.76 L112.12,443.81 L112.30,443.83 L112.49,443.85 L112.67,443.86 L112.86,443.86 L113.04,443.87 L113.23,443.87 L113.41,443.88 L113.60,443.88 L113.78,443.88 L113.97,443.88 L114.15,443.88 L114.34,443.89 L114.52,443.89 L114.71,443.89 L114.89,443.89 L115.07,443.89 L115.26,443.89 L115.44,443.89 L115.63,443.89 L115.81,443.89 L116.00,443.89 L116.18,443.89 L116.37,443.90 L116.55,443.90 L116.74,443.90 L116.92,443.90 L117.11,443.90 L117.29,443.90 L117.48,443.90 L117.66,443.90 L117.85,443.90 L118.03,443.90 L118.22,443.90 L118.40,443.90 L118.58,443.90 L118.77,443.90 L118.95,443.90 L119.14,443.90 L119.32,443.90 L119.51,443.90 L119.69,443.90 L119.88,443.90 L120.06,443.90 L120.25,443.90 L120.43,443.90 L121.17,443.90 L121.91,443.90 L122.65,443.90 L123.39,443.90 L124.13,443.90 L124.87,443.90 L125.61,443.90 L126.34,443.90 L127.08,443.90 L127.82,443.90 L128.56,443.90 L129.30,443.90 L130.04,443.90 L130.78,443.90 L131.52,443.90 L132.26,443.90 L133.00,443.90 L133.73,443.90 L134.47,443.90 L135.21,443.90 L135.95,443.90 L136.69,443.90 L137.43,443.90 L138.17,443.90 L138.91,443.90 L139.65,443.90 L140.39,443.90 L141.12,443.90 L141.86,443.90 L142.60,443.90 L143.34,443.90 L144.08,443.90 L144.82,443.90 L145.56,443.90 L146.30,443.90 L147.04,443.90 L147.78,443.90 L148.51,443.90 L149.25,443.90 L149.99,443.90 L150.73,443.90 L151.47,443.90 L152.21,443.90 L152.95,443.90 L153.69,443.90 L154.43,443.90 L155.17,443.90 L155.90,443.90 L156.64,443.90 L157.38,443.90 L158.12,443.90 L158.86,443.90 L159.60,443.90 L160.34,443.90 L161.08,443.90 L161.82,443.90 L162.56,443.90 L163.29,443.90 L164.03,443.90 L164.77,443.90 L165.51,443.90 L166.25,443.90 L166.99,443.90 L167.73,443.90 L168.47,443.90 L169.21,443.90 L169.95,443.90 L170.68,443.90 L171.42,443.90 L172.16,443.90 L172.90,443.90 L173.64,443.90 L174.38,443.90 L175.12,443.90 L175.86,443.90 L176.60,443.90 L177.34,443.90 L178.07,443.90 L178.81,443.90 L179.55,443.90 L180.29,443.90 L181.03,443.90 L181.77,443.90 L182.51,443.90 L183.25,443.90 L183.99,443.90 L184.73,443.90 L185.46,443.90 L186.20,443.90" fill="none" stroke="#f5691f" stroke-width="2.0" stroke-linejoin="round" stroke-linecap="butt"/>
<path d="M75.91,443.90 L76.65,443.90 L77.39,443.90 L78.12,443.90 L78.86,443.90 L79.60,443.90 L80.34,443.90 L81.08,443.90 L81.82,443.90 L82.56,443.90 L83.30,443.90 L84.04,443.90 L84.78,443.90 L85.51,443.90 L86.25,443.90 L86.99,443.90 L87.73,443.90 L88.47,443.90 L88.66,443.45 L88.84,443.13 L89.02,442.96 L89.21,442.87 L89.39,442.82 L89.58,442.79 L89.76,442.77 L89.95,442.76 L90.13,442.75 L90.32,442.75 L90.50,442.75 L90.69,442.74 L90.87,442.74 L91.06,442.74 L91.24,442.74 L91.43,442.73 L91.61,442.73 L91.80,442.73 L91.98,442.73 L92.17,442.73 L92.35,442.73 L92.54,442.72 L92.72,442.72 L92.90,442.72 L93.09,442.72 L93.27,442.72 L93.46,442.72 L93.64,442.71 L93.83,442.71 L94.01,442.71 L94.20,442.71 L94.38,442.71 L94.57,442.71 L94.75,442.70 L94.94,442.70 L95.12,442.70 L95.31,442.70 L95.49,442.70 L95.68,442.70 L95.86,442.70 L96.05,442.70 L96.78,442.69 L97.52,442.69 L98.26,442.68 L99.00,442.68 L99.74,442.68 L100.48,442.67 L101.22,442.67 L101.96,442.67 L102.70,442.66 L103.44,442.66 L104.17,442.66 L104.91,442.66 L105.65,442.66 L106.39,442.65 L107.13,442.65 L107.87,442.65 L108.61,442.65 L109.35,442.65 L110.09,442.65 L110.83,442.65 L111.01,442.65 L111.19,443.12 L111.38,443.46 L111.56,443.65 L111.75,443.75 L111.93,443.80 L112.12,443.83 L112.30,443.85 L112.49,443.86 L112.67,443.87 L112.86,443.87 L113.04,443.88 L113.23,443.88 L113.41,443.88 L113.60,443.88 L113.78,443.89 L113.97,443.89 L114.15,443.89 L114.34,443.89 L114.52,443.89 L114.71,443.89 L114.89,443.89 L115.07,443.89 L115.26,443.89 L115.44,443.89 L115.63,443.89 L115.81,443.90 L116.00,443.90 L116.18,443.90 L116.37,443.90 L116.55,443.90 L116.74,443.90 L116.92,443.90 L117.11,443.90 L117.29,443.90 L117.48,443.90 L117.66,443.90 L117.85,443.90 L118.03,443.90 L118.22,443.90 L118.40,443.90 L118.58,443.90 L118.77,443.90 L118.95,443.90 L119.14,443.90 L119.32,443.90 L119.51,443.90 L119.69,443.90 L119.88,443.90 L120.06,443.90 L120.25,443.90 L120.43,443.90 L121.17,443.90 L121.91,443.90 L122.65,443.90 L123.39,443.90 L124.13,443.90 L124.87,443.90 L125.61,443.90 L126.34,443.90 L127.08,443.90 L127.82,443.90 L128.56,443.90 L129.30,443.90 L130.04,443.90 L130.78,443.90 L131.52,443.90 L132.26,443.90 L133.00,443.90 L133.73,443.90 L134.47,443.90 L135.21,443.90 L135.95,443.90 L136.69,443.90 L137.43,443.90 L138.17,443.90 L138.91,443.90 L139.65,443.90 L140.39,443.90 L141.12,443.90 L141.86,443.90 L142.60,443.90 L143.34,443.90 L144.08,443.90 L144.82,443.90 L145.56,443.90 L146.30,443.90 L147.04,443.90 L147.78,443.90 L148.51,443.90 L149.25,443.90 L149.99,443.90 L150.73,443.90 L151.47,443.90 L152.21,443.90 L152.95,443.90 L153.69,443.90 L154.43,443.90 L155.17,443.90 L155.90,443.90 L156.64,443.90 L157.38,443.90 L158.12,443.90 L158.86,443.90 L159.60,443.90 L160.34,443.90 L161.08,443.90 L161.82,443.90 L162.56,443.90 L163.29,443.90 L164.03,443.90 L164.77,443.90 L165.51,443.90 L166.25,443.90 L166.99,443.90 L167.73,443.90 L168.47,443.90 L169.21,443.90 L169.95,443.90 L170.68,443.90 L171.42,443.90 L172.16,443.90 L172.90,443.90 L173.64,443.90 L174.38,443.90 L175.12,443.90 L175.86,443.90 L176.60,443.90 L177.34,443.90 L178.07,443.90 L178.81,443.90 L179.55,443.90 L180.29,443.90 L181.03,443.90 L181.77,443.90 L182.51,443.90 L183.25,443.90 L183.99,443.90 L184.73,443.90 L185.46,443.90 L186.20,443.90" fill="none" stroke="#ee1c24" stroke-width="2.0" stroke-linejoin="round" stroke-linecap="butt"/>
<path d="M75.91,443.90 L76.65,443.90 L77.39,443.90 L78.12,443.90 L78.86,443.90 L79.60,443.90 L80.34,443.90 L81.08,443.90 L81.82,443.90 L82.56,443.90 L83.30,443.90 L84.04,443.90 L84.78,443.90 L85.51,443.90 L86.25,443.90 L86.99,443.90 L87.73,443.90 L88.47,443.90 L88.66,443.59 L88.84,443.36 L89.02,443.24 L89.21,443.18 L89.39,443.14 L89.58,443.12 L89.76,443.11 L89.95,443.10 L90.13,443.10 L90.32,443.10 L90.50,443.09 L90.69,443.09 L90.87,443.09 L91.06,443.09 L91.24,443.09 L91.43,443.08 L91.61,443.08 L91.80,443.08 L91.98,443.08 L92.17,443.08 L92.35,443.08 L92.54,443.08 L92.72,443.08 L92.90,443.07 L93.09,443.07 L93.27,443.07 L93.46,443.07 L93.64,443.07 L93.83,443.07 L94.01,443.07 L94.20,443.07 L94.38,443.07 L94.57,443.06 L94.75,443.06 L94.94,443.06 L95.12,443.06 L95.31,443.06 L95.49,443.06 L95.68,443.06 L95.86,443.06 L96.05,443.06 L96.78,443.05 L97.52,443.05 L98.26,443.05 L99.00,443.05 L99.74,443.04 L100.48,443.04 L101.22,443.04 L101.96,443.04 L102.70,443.03 L103.44,443.03 L104.17,443.03 L104.91,443.03 L105.65,443.03 L106.39,443.03 L107.13,443.03 L107.87,443.03 L108.61,443.03 L109.35,443.02 L110.09,443.02 L110.83,443.02 L111.01,443.02 L111.19,443.35 L111.38,443.59 L111.56,443.72 L111.75,443.79 L111.93,443.83 L112.12,443.85 L112.30,443.87 L112.49,443.87 L112.67,443.88 L112.86,443.88 L113.04,443.88 L113.23,443.89 L113.41,443.89 L113.60,443.89 L113.78,443.89 L113.97,443.89 L114.15,443.89 L114.34,443.89 L114.52,443.89 L114.71,443.89 L114.89,443.89 L115.07,443.90 L115.26,443.90 L115.44,443.90 L115.63,443.90 L115.81,443.90 L116.00,443.90 L116.18,443.90 L116.37,443.90 L116.55,443.90 L116.74,443.90 L116.92,443.90 L117.11,443.90 L117.29,443.90 L117.48,443.90 L117.66,443.90 L117.85,443.90 L118.03,443.90 L118.22,443.90 L118.40,443.90 L118.58,443.90 L118.77,443.90 L118.95,443.90 L119.14,443.90 L119.32,443.90 L119.51,443.90 L119.69,443.90 L119.88,443.90 L120.06,443.90 L120.25,443.90 L120.43,443.90 L121.17,443.90 L121.91,443.90 L122.65,443.90 L123.39,443.90 L124.13,443.90 L124.87,443.90 L125.61,443.90 L126.34,443.90 L127.08,443.90 L127.82,443.90 L128.56,443.90 L129.30,443.90 L130.04,443.90 L130.78,443.90 L131.52,443.90 L132.26,443.90 L133.00,443.90 L133.73,443.90 L134.47,443.90 L135.21,443.90 L135.95,443.90 L136.69,443.90 L137.43,443.90 L138.17,443.90 L138.91,443.90 L139.65,443.90 L140.39,443.90 L141.12,443.90 L141.86,443.90 L142.60,443.90 L143.34,443.90 L144.08,443.90 L144.82,443.90 L145.56,443.90 L146.30,443.90 L147.04,443.90 L147.78,443.90 L148.51,443.90 L149.25,443.90 L149.99,443.90 L150.73,443.90 L151.47,443.90 L152.21,443.90 L152.95,443.90 L153.69,443.90 L154.43,443.90 L155.17,443.90 L155.90,443.90 L156.64,443.90 L157.38,443.90 L158.12,443.90 L158.86,443.90 L159.60,443.90 L160.34,443.90 L161.08,443.90 L161.82,443.90 L162.56,443.90 L163.29,443.90 L164.03,443.90 L164.77,443.90 L165.51,443.90 L166.25,443.90 L166.99,443.90 L167.73,443.90 L168.47,443.90 L169.21,443.90 L169.95,443.90 L170.68,443.90 L171.42,443.90 L172.16,443.90 L172.90,443.90 L173.64,443.90 L174.38,443.90 L175.12,443.90 L175.86,443.90 L176.60,443.90 L177.34,443.90 L178.07,443.90 L178.81,443.90 L179.55,443.90 L180.29,443.90 L181.03,443.90 L181.77,443.90 L182.51,443.90 L183.25,443.90 L183.99,443.90 L184.73,443.90 L185.46,443.90 L186.20,443.90" fill="none" stroke="#c8975a" stroke-width="2.0" stroke-linejoin="round" stroke-linecap="butt"/>
<path d="M75.91,443.90 L76.65,443.90 L77.39,443.90 L78.12,443.90 L78.86,443.90 L79.60,443.90 L80.34,443.90 L81.08,443.90 L81.82,443.90 L82.56,443.90 L83.30,443.90 L84.04,443.90 L84.78,443.90 L85.51,443.90 L86.25,443.90 L86.99,443.90 L87.73,443.90 L88.47,443.90 L88.66,443.90 L88.84,443.90 L89.02,443.90 L89.21,443.90 L89.39,443.90 L89.58,443.90 L89.76,443.90 L89.95,443.90 L90.13,443.90 L90.32,443.90 L90.50,443.90 L90.69,443.90 L90.87,443.90 L91.06,443.90 L91.24,443.90 L91.43,443.90 L91.61,443.90 L91.80,443.90 L91.98,443.90 L92.17,443.90 L92.35,443.90 L92.54,443.90 L92.72,443.90 L92.90,443.90 L93.09,443.90 L93.27,443.90 L93.46,443.90 L93.64,443.90 L93.83,443.90 L94.01,443.90 L94.20,443.90 L94.38,443.90 L94.57,443.90 L94.75,443.90 L94.94,443.90 L95.12,443.90 L95.31,443.90 L95.49,443.90 L95.68,443.90 L95.86,443.90 L96.05,443.90 L96.78,443.90 L97.52,443.90 L98.26,443.90 L99.00,443.90 L99.74,443.90 L100.48,443.90 L101.22,443.90 L101.96,443.90 L102.70,443.90 L103.44,443.90 L104.17,443.90 L104.91,443.90 L105.65,443.90 L106.39,443.90 L107.13,443.90 L107.87,443.90 L108.61,443.90 L109.35,443.90 L110.09,443.90 L110.83,443.90 L111.01,443.90 L111.19,443.90 L111.38,443.90 L111.56,443.90 L111.75,443.90 L111.93,443.90 L112.12,443.90 L112.30,443.90 L112.49,443.90 L112.67,443.90 L112.86,443.90 L113.04,443.90 L113.23,443.90 L113.41,443.90 L113.60,443.90 L113.78,443.90 L113.97,443.90 L114.15,443.90 L114.34,443.90 L114.52,443.90 L114.71,443.90 L114.89,443.90 L115.07,443.90 L115.26,443.90 L115.44,443.90 L115.63,443.90 L115.81,443.90 L116.00,443.90 L116.18,443.90 L116.37,443.90 L116.55,443.90 L116.74,443.90 L116.92,443.90 L117.11,443.90 L117.29,443.90 L117.48,443.90 L117.66,443.90 L117.85,443.90 L118.03,443.90 L118.22,443.90 L118.40,443.90 L118.58,443.90 L118.77,443.90 L118.95,443.90 L119.14,443.90 L119.32,443.90 L119.51,443.90 L119.69,443.90 L119.88,443.90 L120.06,443.90 L120.25,443.90 L120.43,443.90 L121.17,443.90 L121.91,443.90 L122.65,443.90 L123.39,443.90 L124.13,443.90 L124.87,443.90 L125.61,443.90 L126.34,443.90 L127.08,443.90 L127.82,443.90 L128.56,443.90 L129.30,443.90 L130.04,443.90 L130.78,443.90 L131.52,443.90 L132.26,443.90 L133.00,443.90 L133.73,443.90 L134.47,443.90 L135.21,443.90 L135.95,443.90 L136.69,443.90 L137.43,443.90 L138.17,443.90 L138.91,443.90 L139.65,443.90 L140.39,443.90 L141.12,443.90 L141.86,443.90 L142.60,443.90 L143.34,443.90 L144.08,443.90 L144.82,443.90 L145.56,443.90 L146.30,443.90 L147.04,443.90 L147.78,443.90 L148.51,443.90 L149.25,443.90 L149.99,443.90 L150.73,443.90 L151.47,443.90 L152.21,443.90 L152.95,443.90 L153.69,443.90 L154.43,443.90 L155.17,443.90 L155.90,443.90 L156.64,443.90 L157.38,443.90 L158.12,443.90 L158.86,443.90 L159.60,443.90 L160.34,443.90 L161.08,443.90 L161.82,443.90 L162.56,443.90 L163.29,443.90 L164.03,443.90 L164.77,443.90 L165.51,443.90 L166.25,443.90 L166.99,443.90 L167.73,443.90 L168.47,443.90 L169.21,443.90 L169.95,443.90 L170.68,443.90 L171.42,443.90 L172.16,443.90 L172.90,443.90 L173.64,443.90 L174.38,443.90 L175.12,443.90 L175.86,443.90 L176.60,443.90 L177.34,443.90 L178.07,443.90 L178.81,443.90 L179.55,443.90 L180.29,443.90 L181.03,443.90 L181.77,443.90 L182.51,443.90 L183.25,443.90 L183.99,443.90 L184.73,443.90 L185.46,443.90 L186.20,443.90" fill="none" stroke="#000000" stroke-width="2.35" stroke-linejoin="round" stroke-linecap="butt"/>
<rect x="57.10" y="349.90" width="147.80" height="99.90" fill="none" stroke="#000" stroke-width="2.05"/>
<line x1="53.10" y1="443.90" x2="57.10" y2="443.90" stroke="#000" stroke-width="2.0" stroke-linecap="butt"/>
<text x="44.52" y="446.23" font-size="8.7" font-weight="bold" fill="#000" style="color:#000" transform="matrix(1 0 0 1.08 0 -35.698)">0</text>
<line x1="53.10" y1="412.57" x2="57.10" y2="412.57" stroke="#000" stroke-width="2.0" stroke-linecap="butt"/>
<text x="37.46" y="414.89" font-size="8.7" font-weight="bold" fill="#000" style="color:#000" transform="matrix(1 0 0 1.08 0 -33.191)">500</text>
<line x1="53.10" y1="381.23" x2="57.10" y2="381.23" stroke="#000" stroke-width="2.0" stroke-linecap="butt"/>
<text x="32.59" y="383.56" font-size="8.7" font-weight="bold" fill="#000" style="color:#000" transform="matrix(1 0 0 1.08 0 -30.685)">1000</text>
<line x1="53.10" y1="349.90" x2="57.10" y2="349.90" stroke="#000" stroke-width="2.0" stroke-linecap="butt"/>
<text x="32.59" y="352.23" font-size="8.7" font-weight="bold" fill="#000" style="color:#000" transform="matrix(1 0 0 1.08 0 -28.178)">1500</text>
<line x1="57.10" y1="449.80" x2="57.10" y2="453.80" stroke="#000" stroke-width="2.0" stroke-linecap="butt"/>
<text x="54.69" y="462.08" font-size="8.7" font-weight="bold" fill="#000" style="color:#000" transform="matrix(1 0 0 1.08 0 -36.966)">0</text>
<line x1="94.05" y1="449.80" x2="94.05" y2="453.80" stroke="#000" stroke-width="2.0" stroke-linecap="butt"/>
<text x="87.72" y="462.08" font-size="8.7" font-weight="bold" fill="#000" style="color:#000" transform="matrix(1 0 0 1.08 0 -36.966)">100</text>
<line x1="131.00" y1="449.80" x2="131.00" y2="453.80" stroke="#000" stroke-width="2.0" stroke-linecap="butt"/>
<text x="124.78" y="462.08" font-size="8.7" font-weight="bold" fill="#000" style="color:#000" transform="matrix(1 0 0 1.08 0 -36.966)">200</text>
<line x1="167.95" y1="449.80" x2="167.95" y2="453.80" stroke="#000" stroke-width="2.0" stroke-linecap="butt"/>
<text x="161.77" y="462.08" font-size="8.7" font-weight="bold" fill="#000" style="color:#000" transform="matrix(1 0 0 1.08 0 -36.966)">300</text>
<line x1="204.90" y1="449.80" x2="204.90" y2="453.80" stroke="#000" stroke-width="2.0" stroke-linecap="butt"/>
<text x="198.77" y="462.08" font-size="8.7" font-weight="bold" fill="#000" style="color:#000" transform="matrix(1 0 0 1.08 0 -36.966)">400</text>
<text x="41.82" y="337.80" font-size="9.9" font-weight="bold" fill="#000" style="color:#000" transform="matrix(1 0 0 1.08 0 -27.024)">Dk/FJ/2021-S144N HA to &#945;2-6 glycans</text>
<text x="0" y="0" font-size="9.67" font-weight="bold" transform="translate(27.52,399.40) rotate(-90) translate(-48.18,0)">Response Units (RU)</text>
<text x="116.05" y="475.00" font-size="9.94" font-weight="bold" fill="#000" style="color:#000" transform="matrix(1 0 0 1.08 0 -38.000)">Time(s)</text>
<line x1="160.96" y1="356.30" x2="169.76" y2="356.30" stroke="#000000" stroke-width="2.2" stroke-linecap="butt"/>
<text x="173.98" y="358.10" font-size="7.0" font-weight="normal" fill="#1a1a1a" style="color:#1a1a1a" transform="matrix(1 0 0 1.08 0 -28.648)">0&#956;M</text>
<line x1="160.96" y1="368.14" x2="169.76" y2="368.14" stroke="#c8975a" stroke-width="2.2" stroke-linecap="butt"/>
<text x="173.98" y="369.94" font-size="7.0" font-weight="normal" fill="#1a1a1a" style="color:#1a1a1a" transform="matrix(1 0 0 1.08 0 -29.595)">0.625&#956;M</text>
<line x1="160.96" y1="379.98" x2="169.76" y2="379.98" stroke="#ee1c24" stroke-width="2.2" stroke-linecap="butt"/>
<text x="173.73" y="381.78" font-size="7.0" font-weight="normal" fill="#1a1a1a" style="color:#1a1a1a" transform="matrix(1 0 0 1.08 0 -30.542)">1.25&#956;M</text>
<line x1="160.96" y1="391.82" x2="169.76" y2="391.82" stroke="#f5691f" stroke-width="2.2" stroke-linecap="butt"/>
<text x="173.91" y="393.62" font-size="7.0" font-weight="normal" fill="#1a1a1a" style="color:#1a1a1a" transform="matrix(1 0 0 1.08 0 -31.490)">2.5&#956;M</text>
<line x1="160.96" y1="403.66" x2="169.76" y2="403.66" stroke="#c8c41a" stroke-width="2.2" stroke-linecap="butt"/>
<text x="173.98" y="405.46" font-size="7.0" font-weight="normal" fill="#1a1a1a" style="color:#1a1a1a" transform="matrix(1 0 0 1.08 0 -32.437)">5&#956;M</text>
<line x1="160.96" y1="415.50" x2="169.76" y2="415.50" stroke="#0b8a22" stroke-width="2.2" stroke-linecap="butt"/>
<text x="173.73" y="417.30" font-size="7.0" font-weight="normal" fill="#1a1a1a" style="color:#1a1a1a" transform="matrix(1 0 0 1.08 0 -33.384)">10&#956;M</text>
<path d="M291.63,443.80 L292.37,443.80 L293.12,443.80 L293.86,443.80 L294.60,443.80 L295.34,443.80 L296.09,443.80 L296.83,443.80 L297.57,443.80 L298.32,443.80 L299.06,443.80 L299.80,443.80 L300.55,443.80 L301.29,443.80 L302.03,443.80 L302.77,443.80 L303.52,443.80 L303.70,443.80 L303.89,431.95 L304.07,418.48 L304.26,410.13 L304.45,404.89 L304.63,401.54 L304.82,399.35 L305.00,397.86 L305.19,396.81 L305.37,396.02 L305.56,395.39 L305.75,394.87 L305.93,394.42 L306.12,394.01 L306.30,393.63 L306.49,393.27 L306.68,392.93 L306.86,392.60 L307.05,392.29 L307.23,391.98 L307.42,391.69 L307.60,391.40 L307.79,391.12 L307.98,390.85 L308.16,390.59 L308.35,390.33 L308.53,390.08 L308.72,389.84 L308.90,389.61 L309.09,389.38 L309.28,389.16 L309.46,388.94 L309.65,388.73 L309.83,388.52 L310.02,388.33 L310.20,388.13 L310.39,387.94 L310.58,387.76 L310.76,387.58 L310.95,387.41 L311.13,387.24 L311.32,387.08 L312.06,386.47 L312.80,385.92 L313.55,385.43 L314.29,384.99 L315.03,384.60 L315.78,384.25 L316.52,383.93 L317.26,383.65 L318.01,383.40 L318.75,383.17 L319.49,382.97 L320.23,382.79 L320.98,382.63 L321.72,382.49 L322.46,382.36 L323.21,382.24 L323.95,382.14 L324.69,382.05 L325.44,381.96 L325.62,381.94 L325.81,381.92 L325.99,381.91 L326.18,391.64 L326.36,403.39 L326.55,411.23 L326.74,416.47 L326.92,420.00 L327.11,422.41 L327.29,424.08 L327.48,425.25 L327.66,426.09 L327.85,426.72 L328.04,427.20 L328.22,427.59 L328.41,427.92 L328.59,428.19 L328.78,428.44 L328.97,428.67 L329.15,428.88 L329.34,429.08 L329.52,429.28 L329.71,429.46 L329.89,429.64 L330.08,429.81 L330.27,429.98 L330.45,430.15 L330.64,430.31 L330.82,430.47 L331.01,430.63 L331.19,430.78 L331.38,430.93 L331.57,431.08 L331.75,431.22 L331.94,431.36 L332.12,431.50 L332.31,431.64 L332.49,431.77 L332.68,431.90 L332.87,432.03 L333.05,432.15 L333.24,432.28 L333.42,432.40 L333.61,432.51 L333.79,432.63 L333.98,432.74 L334.17,432.85 L334.35,432.96 L334.54,433.07 L334.72,433.17 L334.91,433.28 L335.09,433.38 L335.28,433.48 L335.47,433.57 L336.21,433.94 L336.95,434.28 L337.70,434.60 L338.44,434.89 L339.18,435.16 L339.92,435.41 L340.67,435.64 L341.41,435.85 L342.15,436.05 L342.90,436.23 L343.64,436.40 L344.38,436.56 L345.13,436.70 L345.87,436.83 L346.61,436.96 L347.35,437.07 L348.10,437.18 L348.84,437.28 L349.58,437.37 L350.33,437.45 L351.07,437.53 L351.81,437.61 L352.56,437.67 L353.30,437.74 L354.04,437.80 L354.78,437.85 L355.53,437.90 L356.27,437.95 L357.01,437.99 L357.76,438.03 L358.50,438.07 L359.24,438.11 L359.99,438.14 L360.73,438.17 L361.47,438.20 L362.21,438.23 L362.96,438.25 L363.70,438.28 L364.44,438.30 L365.19,438.32 L365.93,438.34 L366.67,438.36 L367.42,438.38 L368.16,438.40 L368.90,438.41 L369.64,438.43 L370.39,438.44 L371.13,438.46 L371.87,438.47 L372.62,438.48 L373.36,438.49 L374.10,438.50 L374.85,438.51 L375.59,438.53 L376.33,438.54 L377.07,438.54 L377.82,438.55 L378.56,438.56 L379.30,438.57 L380.05,438.58 L380.79,438.59 L381.53,438.60 L382.28,438.60 L383.02,438.61 L383.76,438.62 L384.50,438.63 L385.25,438.63 L385.99,438.64 L386.73,438.65 L387.48,438.65 L388.22,438.66 L388.96,438.67 L389.71,438.67 L390.45,438.68 L391.19,438.68 L391.93,438.69 L392.68,438.70 L393.42,438.70 L394.16,438.71 L394.91,438.71 L395.65,438.72 L396.39,438.73 L397.14,438.73 L397.88,438.74 L398.62,438.74 L399.36,438.75 L400.11,438.75 L400.85,438.76 L401.59,438.76 L401.70,438.76" fill="none" stroke="#0b8a22" stroke-width="2.35" stroke-linejoin="round" stroke-linecap="butt"/>
<path d="M291.63,443.80 L292.37,443.80 L293.12,443.80 L293.86,443.80 L294.60,443.80 L295.34,443.80 L296.09,443.80 L296.83,443.80 L297.57,443.80 L298.32,443.80 L299.06,443.80 L299.80,443.80 L300.55,443.80 L301.29,443.80 L302.03,443.80 L302.77,443.80 L303.52,443.80 L303.70,443.80 L303.89,436.13 L304.07,427.40 L304.26,421.96 L304.45,418.53 L304.63,416.31 L304.82,414.84 L305.00,413.83 L305.19,413.09 L305.37,412.53 L305.56,412.08 L305.75,411.69 L305.93,411.35 L306.12,411.03 L306.30,410.74 L306.49,410.47 L306.68,410.21 L306.86,409.95 L307.05,409.71 L307.23,409.47 L307.42,409.24 L307.60,409.02 L307.79,408.80 L307.98,408.59 L308.16,408.39 L308.35,408.19 L308.53,407.99 L308.72,407.80 L308.90,407.62 L309.09,407.44 L309.28,407.27 L309.46,407.10 L309.65,406.94 L309.83,406.78 L310.02,406.62 L310.20,406.47 L310.39,406.33 L310.58,406.18 L310.76,406.04 L310.95,405.91 L311.13,405.78 L311.32,405.65 L312.06,405.17 L312.80,404.75 L313.55,404.37 L314.29,404.02 L315.03,403.72 L315.78,403.44 L316.52,403.20 L317.26,402.98 L318.01,402.79 L318.75,402.61 L319.49,402.45 L320.23,402.31 L320.98,402.19 L321.72,402.07 L322.46,401.97 L323.21,401.88 L323.95,401.80 L324.69,401.73 L325.44,401.67 L325.62,401.65 L325.81,401.64 L325.99,401.62 L326.18,408.26 L326.36,416.27 L326.55,421.60 L326.74,425.18 L326.92,427.58 L327.11,429.23 L327.29,430.36 L327.48,431.16 L327.66,431.73 L327.85,432.16 L328.04,432.49 L328.22,432.76 L328.41,432.98 L328.59,433.17 L328.78,433.33 L328.97,433.49 L329.15,433.63 L329.34,433.77 L329.52,433.90 L329.71,434.03 L329.89,434.15 L330.08,434.27 L330.27,434.39 L330.45,434.50 L330.64,434.61 L330.82,434.72 L331.01,434.82 L331.19,434.93 L331.38,435.03 L331.57,435.13 L331.75,435.23 L331.94,435.32 L332.12,435.42 L332.31,435.51 L332.49,435.60 L332.68,435.69 L332.87,435.78 L333.05,435.86 L333.24,435.95 L333.42,436.03 L333.61,436.11 L333.79,436.19 L333.98,436.27 L334.17,436.34 L334.35,436.42 L334.54,436.49 L334.72,436.56 L334.91,436.63 L335.09,436.70 L335.28,436.77 L335.47,436.83 L336.21,437.08 L336.95,437.31 L337.70,437.53 L338.44,437.73 L339.18,437.91 L339.92,438.08 L340.67,438.24 L341.41,438.38 L342.15,438.52 L342.90,438.64 L343.64,438.76 L344.38,438.86 L345.13,438.96 L345.87,439.05 L346.61,439.14 L347.35,439.22 L348.10,439.29 L348.84,439.36 L349.58,439.42 L350.33,439.48 L351.07,439.53 L351.81,439.58 L352.56,439.63 L353.30,439.67 L354.04,439.71 L354.78,439.75 L355.53,439.78 L356.27,439.81 L357.01,439.84 L357.76,439.87 L358.50,439.90 L359.24,439.92 L359.99,439.94 L360.73,439.96 L361.47,439.98 L362.21,440.00 L362.96,440.02 L363.70,440.04 L364.44,440.05 L365.19,440.07 L365.93,440.08 L366.67,440.09 L367.42,440.11 L368.16,440.12 L368.90,440.13 L369.64,440.14 L370.39,440.15 L371.13,440.16 L371.87,440.17 L372.62,440.18 L373.36,440.18 L374.10,440.19 L374.85,440.20 L375.59,440.21 L376.33,440.21 L377.07,440.22 L377.82,440.23 L378.56,440.23 L379.30,440.24 L380.05,440.24 L380.79,440.25 L381.53,440.25 L382.28,440.26 L383.02,440.26 L383.76,440.27 L384.50,440.27 L385.25,440.28 L385.99,440.28 L386.73,440.29 L387.48,440.29 L388.22,440.30 L388.96,440.30 L389.71,440.31 L390.45,440.31 L391.19,440.31 L391.93,440.32 L392.68,440.32 L393.42,440.33 L394.16,440.33 L394.91,440.33 L395.65,440.34 L396.39,440.34 L397.14,440.35 L397.88,440.35 L398.62,440.35 L399.36,440.36 L400.11,440.36 L400.85,440.36 L401.59,440.37 L401.70,440.37" fill="none" stroke="#c8c41a" stroke-width="2.35" stroke-linejoin="round" stroke-linecap="butt"/>
<path d="M291.63,443.80 L292.37,443.80 L293.12,443.80 L293.86,443.80 L294.60,443.80 L295.34,443.80 L296.09,443.80 L296.83,443.80 L297.57,443.80 L298.32,443.80 L299.06,443.80 L299.80,443.80 L300.55,443.80 L301.29,443.80 L302.03,443.80 L302.77,443.80 L303.52,443.80 L303.70,443.80 L303.89,439.14 L304.07,433.84 L304.26,430.56 L304.45,428.50 L304.63,427.19 L304.82,426.33 L305.00,425.74 L305.19,425.33 L305.37,425.01 L305.56,424.77 L305.75,424.56 L305.93,424.38 L306.12,424.22 L306.30,424.07 L306.49,423.93 L306.68,423.80 L306.86,423.67 L307.05,423.55 L307.23,423.43 L307.42,423.31 L307.60,423.20 L307.79,423.09 L307.98,422.98 L308.16,422.88 L308.35,422.78 L308.53,422.68 L308.72,422.59 L308.90,422.49 L309.09,422.40 L309.28,422.32 L309.46,422.23 L309.65,422.15 L309.83,422.07 L310.02,421.99 L310.20,421.91 L310.39,421.84 L310.58,421.77 L310.76,421.70 L310.95,421.63 L311.13,421.56 L311.32,421.50 L312.06,421.26 L312.80,421.04 L313.55,420.85 L314.29,420.68 L315.03,420.52 L315.78,420.39 L316.52,420.26 L317.26,420.15 L318.01,420.05 L318.75,419.97 L319.49,419.89 L320.23,419.81 L320.98,419.75 L321.72,419.69 L322.46,419.64 L323.21,419.60 L323.95,419.56 L324.69,419.52 L325.44,419.49 L325.62,419.48 L325.81,419.47 L325.99,419.47 L326.18,423.29 L326.36,427.91 L326.55,430.99 L326.74,433.06 L326.92,434.45 L327.11,435.39 L327.29,436.05 L327.48,436.51 L327.66,436.84 L327.85,437.09 L328.04,437.28 L328.22,437.43 L328.41,437.56 L328.59,437.66 L328.78,437.76 L328.97,437.85 L329.15,437.94 L329.34,438.01 L329.52,438.09 L329.71,438.16 L329.89,438.23 L330.08,438.30 L330.27,438.37 L330.45,438.43 L330.64,438.50 L330.82,438.56 L331.01,438.62 L331.19,438.68 L331.38,438.74 L331.57,438.80 L331.75,438.86 L331.94,438.91 L332.12,438.96 L332.31,439.02 L332.49,439.07 L332.68,439.12 L332.87,439.17 L333.05,439.22 L333.24,439.27 L333.42,439.32 L333.61,439.36 L333.79,439.41 L333.98,439.45 L334.17,439.50 L334.35,439.54 L334.54,439.58 L334.72,439.62 L334.91,439.66 L335.09,439.70 L335.28,439.74 L335.47,439.78 L336.21,439.92 L336.95,440.06 L337.70,440.18 L338.44,440.30 L339.18,440.40 L339.92,440.50 L340.67,440.59 L341.41,440.68 L342.15,440.75 L342.90,440.82 L343.64,440.89 L344.38,440.95 L345.13,441.01 L345.87,441.06 L346.61,441.11 L347.35,441.16 L348.10,441.20 L348.84,441.24 L349.58,441.27 L350.33,441.31 L351.07,441.34 L351.81,441.36 L352.56,441.39 L353.30,441.42 L354.04,441.44 L354.78,441.46 L355.53,441.48 L356.27,441.50 L357.01,441.52 L357.76,441.53 L358.50,441.55 L359.24,441.56 L359.99,441.57 L360.73,441.59 L361.47,441.60 L362.21,441.61 L362.96,441.62 L363.70,441.63 L364.44,441.64 L365.19,441.65 L365.93,441.65 L366.67,441.66 L367.42,441.67 L368.16,441.68 L368.90,441.68 L369.64,441.69 L370.39,441.69 L371.13,441.70 L371.87,441.70 L372.62,441.71 L373.36,441.71 L374.10,441.72 L374.85,441.72 L375.59,441.73 L376.33,441.73 L377.07,441.73 L377.82,441.74 L378.56,441.74 L379.30,441.74 L380.05,441.75 L380.79,441.75 L381.53,441.75 L382.28,441.76 L383.02,441.76 L383.76,441.76 L384.50,441.77 L385.25,441.77 L385.99,441.77 L386.73,441.77 L387.48,441.78 L388.22,441.78 L388.96,441.78 L389.71,441.78 L390.45,441.79 L391.19,441.79 L391.93,441.79 L392.68,441.79 L393.42,441.80 L394.16,441.80 L394.91,441.80 L395.65,441.80 L396.39,441.80 L397.14,441.81 L397.88,441.81 L398.62,441.81 L399.36,441.81 L400.11,441.82 L400.85,441.82 L401.59,441.82 L401.70,441.82" fill="none" stroke="#f5691f" stroke-width="2.35" stroke-linejoin="round" stroke-linecap="butt"/>
<path d="M291.63,443.80 L292.37,443.80 L293.12,443.80 L293.86,443.80 L294.60,443.80 L295.34,443.80 L296.09,443.80 L296.83,443.80 L297.57,443.80 L298.32,443.80 L299.06,443.80 L299.80,443.80 L300.55,443.80 L301.29,443.80 L302.03,443.80 L302.77,443.80 L303.52,443.80 L303.70,443.80 L303.89,440.96 L304.07,437.73 L304.26,435.72 L304.45,434.45 L304.63,433.64 L304.82,433.11 L305.00,432.74 L305.19,432.48 L305.37,432.28 L305.56,432.12 L305.75,431.99 L305.93,431.87 L306.12,431.76 L306.30,431.66 L306.49,431.57 L306.68,431.48 L306.86,431.39 L307.05,431.31 L307.23,431.23 L307.42,431.15 L307.60,431.08 L307.79,431.01 L307.98,430.93 L308.16,430.86 L308.35,430.80 L308.53,430.73 L308.72,430.67 L308.90,430.61 L309.09,430.55 L309.28,430.49 L309.46,430.43 L309.65,430.37 L309.83,430.32 L310.02,430.27 L310.20,430.22 L310.39,430.17 L310.58,430.12 L310.76,430.07 L310.95,430.03 L311.13,429.98 L311.32,429.94 L312.06,429.78 L312.80,429.63 L313.55,429.50 L314.29,429.39 L315.03,429.29 L315.78,429.19 L316.52,429.11 L317.26,429.04 L318.01,428.97 L318.75,428.91 L319.49,428.86 L320.23,428.81 L320.98,428.77 L321.72,428.73 L322.46,428.70 L323.21,428.66 L323.95,428.64 L324.69,428.61 L325.44,428.59 L325.62,428.59 L325.81,428.58 L325.99,428.58 L326.18,430.97 L326.36,433.86 L326.55,435.79 L326.74,437.08 L326.92,437.95 L327.11,438.54 L327.29,438.95 L327.48,439.24 L327.66,439.44 L327.85,439.60 L328.04,439.72 L328.22,439.81 L328.41,439.89 L328.59,439.96 L328.78,440.02 L328.97,440.08 L329.15,440.13 L329.34,440.18 L329.52,440.23 L329.71,440.27 L329.89,440.32 L330.08,440.36 L330.27,440.40 L330.45,440.44 L330.64,440.48 L330.82,440.52 L331.01,440.56 L331.19,440.60 L331.38,440.63 L331.57,440.67 L331.75,440.71 L331.94,440.74 L332.12,440.77 L332.31,440.81 L332.49,440.84 L332.68,440.87 L332.87,440.90 L333.05,440.94 L333.24,440.97 L333.42,440.99 L333.61,441.02 L333.79,441.05 L333.98,441.08 L334.17,441.11 L334.35,441.13 L334.54,441.16 L334.72,441.19 L334.91,441.21 L335.09,441.24 L335.28,441.26 L335.47,441.28 L336.21,441.38 L336.95,441.46 L337.70,441.54 L338.44,441.61 L339.18,441.67 L339.92,441.74 L340.67,441.79 L341.41,441.84 L342.15,441.89 L342.90,441.94 L343.64,441.98 L344.38,442.02 L345.13,442.05 L345.87,442.09 L346.61,442.12 L347.35,442.15 L348.10,442.17 L348.84,442.20 L349.58,442.22 L350.33,442.24 L351.07,442.26 L351.81,442.28 L352.56,442.29 L353.30,442.31 L354.04,442.32 L354.78,442.34 L355.53,442.35 L356.27,442.36 L357.01,442.37 L357.76,442.38 L358.50,442.39 L359.24,442.40 L359.99,442.41 L360.73,442.42 L361.47,442.42 L362.21,442.43 L362.96,442.44 L363.70,442.44 L364.44,442.45 L365.19,442.45 L365.93,442.46 L366.67,442.46 L367.42,442.47 L368.16,442.47 L368.90,442.47 L369.64,442.48 L370.39,442.48 L371.13,442.49 L371.87,442.49 L372.62,442.49 L373.36,442.49 L374.10,442.50 L374.85,442.50 L375.59,442.50 L376.33,442.51 L377.07,442.51 L377.82,442.51 L378.56,442.51 L379.30,442.51 L380.05,442.52 L380.79,442.52 L381.53,442.52 L382.28,442.52 L383.02,442.52 L383.76,442.53 L384.50,442.53 L385.25,442.53 L385.99,442.53 L386.73,442.53 L387.48,442.53 L388.22,442.54 L388.96,442.54 L389.71,442.54 L390.45,442.54 L391.19,442.54 L391.93,442.54 L392.68,442.54 L393.42,442.55 L394.16,442.55 L394.91,442.55 L395.65,442.55 L396.39,442.55 L397.14,442.55 L397.88,442.55 L398.62,442.56 L399.36,442.56 L400.11,442.56 L400.85,442.56 L401.59,442.56 L401.70,442.56" fill="none" stroke="#ee1c24" stroke-width="2.35" stroke-linejoin="round" stroke-linecap="butt"/>
<path d="M291.63,443.80 L292.37,443.80 L293.12,443.80 L293.86,443.80 L294.60,443.80 L295.34,443.80 L296.09,443.80 L296.83,443.80 L297.57,443.80 L298.32,443.80 L299.06,443.80 L299.80,443.80 L300.55,443.80 L301.29,443.80 L302.03,443.80 L302.77,443.80 L303.52,443.80 L303.70,443.80 L303.89,442.43 L304.07,440.86 L304.26,439.88 L304.45,439.25 L304.63,438.83 L304.82,438.55 L305.00,438.35 L305.19,438.19 L305.37,438.07 L305.56,437.97 L305.75,437.88 L305.93,437.80 L306.12,437.72 L306.30,437.65 L306.49,437.58 L306.68,437.52 L306.86,437.46 L307.05,437.40 L307.23,437.34 L307.42,437.28 L307.60,437.22 L307.79,437.17 L307.98,437.12 L308.16,437.07 L308.35,437.02 L308.53,436.97 L308.72,436.92 L308.90,436.87 L309.09,436.83 L309.28,436.79 L309.46,436.74 L309.65,436.70 L309.83,436.66 L310.02,436.63 L310.20,436.59 L310.39,436.55 L310.58,436.52 L310.76,436.48 L310.95,436.45 L311.13,436.41 L311.32,436.38 L312.06,436.26 L312.80,436.16 L313.55,436.06 L314.29,435.98 L315.03,435.90 L315.78,435.83 L316.52,435.77 L317.26,435.72 L318.01,435.67 L318.75,435.62 L319.49,435.58 L320.23,435.55 L320.98,435.52 L321.72,435.49 L322.46,435.47 L323.21,435.44 L323.95,435.42 L324.69,435.40 L325.44,435.39 L325.62,435.38 L325.81,435.38 L325.99,435.38 L326.18,436.70 L326.36,438.30 L326.55,439.37 L326.74,440.08 L326.92,440.56 L327.11,440.89 L327.29,441.12 L327.48,441.28 L327.66,441.39 L327.85,441.48 L328.04,441.54 L328.22,441.59 L328.41,441.64 L328.59,441.68 L328.78,441.71 L328.97,441.74 L329.15,441.77 L329.34,441.80 L329.52,441.82 L329.71,441.85 L329.89,441.87 L330.08,441.90 L330.27,441.92 L330.45,441.94 L330.64,441.96 L330.82,441.99 L331.01,442.01 L331.19,442.03 L331.38,442.05 L331.57,442.07 L331.75,442.09 L331.94,442.11 L332.12,442.13 L332.31,442.14 L332.49,442.16 L332.68,442.18 L332.87,442.20 L333.05,442.21 L333.24,442.23 L333.42,442.25 L333.61,442.26 L333.79,442.28 L333.98,442.30 L334.17,442.31 L334.35,442.33 L334.54,442.34 L334.72,442.35 L334.91,442.37 L335.09,442.38 L335.28,442.40 L335.47,442.41 L336.21,442.46 L336.95,442.50 L337.70,442.55 L338.44,442.59 L339.18,442.62 L339.92,442.66 L340.67,442.69 L341.41,442.72 L342.15,442.75 L342.90,442.77 L343.64,442.79 L344.38,442.81 L345.13,442.83 L345.87,442.85 L346.61,442.87 L347.35,442.88 L348.10,442.90 L348.84,442.91 L349.58,442.92 L350.33,442.94 L351.07,442.95 L351.81,442.96 L352.56,442.97 L353.30,442.97 L354.04,442.98 L354.78,442.99 L355.53,443.00 L356.27,443.00 L357.01,443.01 L357.76,443.02 L358.50,443.02 L359.24,443.03 L359.99,443.03 L360.73,443.03 L361.47,443.04 L362.21,443.04 L362.96,443.05 L363.70,443.05 L364.44,443.05 L365.19,443.05 L365.93,443.06 L366.67,443.06 L367.42,443.06 L368.16,443.06 L368.90,443.07 L369.64,443.07 L370.39,443.07 L371.13,443.07 L371.87,443.07 L372.62,443.08 L373.36,443.08 L374.10,443.08 L374.85,443.08 L375.59,443.08 L376.33,443.08 L377.07,443.08 L377.82,443.09 L378.56,443.09 L379.30,443.09 L380.05,443.09 L380.79,443.09 L381.53,443.09 L382.28,443.09 L383.02,443.09 L383.76,443.09 L384.50,443.10 L385.25,443.10 L385.99,443.10 L386.73,443.10 L387.48,443.10 L388.22,443.10 L388.96,443.10 L389.71,443.10 L390.45,443.10 L391.19,443.10 L391.93,443.10 L392.68,443.11 L393.42,443.11 L394.16,443.11 L394.91,443.11 L395.65,443.11 L396.39,443.11 L397.14,443.11 L397.88,443.11 L398.62,443.11 L399.36,443.11 L400.11,443.11 L400.85,443.11 L401.59,443.11 L401.70,443.11" fill="none" stroke="#c8975a" stroke-width="2.35" stroke-linejoin="round" stroke-linecap="butt"/>
<path d="M291.63,443.80 L292.37,443.80 L293.12,443.80 L293.86,443.80 L294.60,443.80 L295.34,443.80 L296.09,443.80 L296.83,443.80 L297.57,443.80 L298.32,443.80 L299.06,443.80 L299.80,443.80 L300.55,443.80 L301.29,443.80 L302.03,443.80 L302.77,443.80 L303.52,443.80 L303.70,443.80 L303.89,443.80 L304.07,443.80 L304.26,443.80 L304.45,443.80 L304.63,443.80 L304.82,443.80 L305.00,443.80 L305.19,443.80 L305.37,443.80 L305.56,443.80 L305.75,443.80 L305.93,443.80 L306.12,443.80 L306.30,443.80 L306.49,443.80 L306.68,443.80 L306.86,443.80 L307.05,443.80 L307.23,443.80 L307.42,443.80 L307.60,443.80 L307.79,443.80 L307.98,443.80 L308.16,443.80 L308.35,443.80 L308.53,443.80 L308.72,443.80 L308.90,443.80 L309.09,443.80 L309.28,443.80 L309.46,443.80 L309.65,443.80 L309.83,443.80 L310.02,443.80 L310.20,443.80 L310.39,443.80 L310.58,443.80 L310.76,443.80 L310.95,443.80 L311.13,443.80 L311.32,443.80 L312.06,443.80 L312.80,443.80 L313.55,443.80 L314.29,443.80 L315.03,443.80 L315.78,443.80 L316.52,443.80 L317.26,443.80 L318.01,443.80 L318.75,443.80 L319.49,443.80 L320.23,443.80 L320.98,443.80 L321.72,443.80 L322.46,443.80 L323.21,443.80 L323.95,443.80 L324.69,443.80 L325.44,443.80 L325.62,443.80 L325.81,443.80 L325.99,443.80 L326.18,443.80 L326.36,443.80 L326.55,443.80 L326.74,443.80 L326.92,443.80 L327.11,443.80 L327.29,443.80 L327.48,443.80 L327.66,443.80 L327.85,443.80 L328.04,443.80 L328.22,443.80 L328.41,443.80 L328.59,443.80 L328.78,443.80 L328.97,443.80 L329.15,443.80 L329.34,443.80 L329.52,443.80 L329.71,443.80 L329.89,443.80 L330.08,443.80 L330.27,443.80 L330.45,443.80 L330.64,443.80 L330.82,443.80 L331.01,443.80 L331.19,443.80 L331.38,443.80 L331.57,443.80 L331.75,443.80 L331.94,443.80 L332.12,443.80 L332.31,443.80 L332.49,443.80 L332.68,443.80 L332.87,443.80 L333.05,443.80 L333.24,443.80 L333.42,443.80 L333.61,443.80 L333.79,443.80 L333.98,443.80 L334.17,443.80 L334.35,443.80 L334.54,443.80 L334.72,443.80 L334.91,443.80 L335.09,443.80 L335.28,443.80 L335.47,443.80 L336.21,443.80 L336.95,443.80 L337.70,443.80 L338.44,443.80 L339.18,443.80 L339.92,443.80 L340.67,443.80 L341.41,443.80 L342.15,443.80 L342.90,443.80 L343.64,443.80 L344.38,443.80 L345.13,443.80 L345.87,443.80 L346.61,443.80 L347.35,443.80 L348.10,443.80 L348.84,443.80 L349.58,443.80 L350.33,443.80 L351.07,443.80 L351.81,443.80 L352.56,443.80 L353.30,443.80 L354.04,443.80 L354.78,443.80 L355.53,443.80 L356.27,443.80 L357.01,443.80 L357.76,443.80 L358.50,443.80 L359.24,443.80 L359.99,443.80 L360.73,443.80 L361.47,443.80 L362.21,443.80 L362.96,443.80 L363.70,443.80 L364.44,443.80 L365.19,443.80 L365.93,443.80 L366.67,443.80 L367.42,443.80 L368.16,443.80 L368.90,443.80 L369.64,443.80 L370.39,443.80 L371.13,443.80 L371.87,443.80 L372.62,443.80 L373.36,443.80 L374.10,443.80 L374.85,443.80 L375.59,443.80 L376.33,443.80 L377.07,443.80 L377.82,443.80 L378.56,443.80 L379.30,443.80 L380.05,443.80 L380.79,443.80 L381.53,443.80 L382.28,443.80 L383.02,443.80 L383.76,443.80 L384.50,443.80 L385.25,443.80 L385.99,443.80 L386.73,443.80 L387.48,443.80 L388.22,443.80 L388.96,443.80 L389.71,443.80 L390.45,443.80 L391.19,443.80 L391.93,443.80 L392.68,443.80 L393.42,443.80 L394.16,443.80 L394.91,443.80 L395.65,443.80 L396.39,443.80 L397.14,443.80 L397.88,443.80 L398.62,443.80 L399.36,443.80 L400.11,443.80 L400.85,443.80 L401.59,443.80 L401.70,443.80" fill="none" stroke="#000000" stroke-width="2.35" stroke-linejoin="round" stroke-linecap="butt"/>
<rect x="272.20" y="350.20" width="148.60" height="99.60" fill="none" stroke="#000" stroke-width="2.05"/>
<line x1="268.20" y1="443.80" x2="272.20" y2="443.80" stroke="#000" stroke-width="2.0" stroke-linecap="butt"/>
<text x="259.52" y="446.20" font-size="8.9" font-weight="bold" fill="#000" style="color:#000" transform="matrix(1 0 0 1.08 0 -35.696)">0</text>
<line x1="268.20" y1="412.60" x2="272.20" y2="412.60" stroke="#000" stroke-width="2.0" stroke-linecap="butt"/>
<text x="252.24" y="415.00" font-size="8.9" font-weight="bold" fill="#000" style="color:#000" transform="matrix(1 0 0 1.08 0 -33.200)">500</text>
<line x1="268.20" y1="381.40" x2="272.20" y2="381.40" stroke="#000" stroke-width="2.0" stroke-linecap="butt"/>
<text x="247.25" y="383.80" font-size="8.9" font-weight="bold" fill="#000" style="color:#000" transform="matrix(1 0 0 1.08 0 -30.704)">1000</text>
<line x1="268.20" y1="350.20" x2="272.20" y2="350.20" stroke="#000" stroke-width="2.0" stroke-linecap="butt"/>
<text x="247.25" y="352.60" font-size="8.9" font-weight="bold" fill="#000" style="color:#000" transform="matrix(1 0 0 1.08 0 -28.208)">1500</text>
<line x1="272.20" y1="449.80" x2="272.20" y2="453.80" stroke="#000" stroke-width="2.0" stroke-linecap="butt"/>
<text x="269.73" y="462.15" font-size="8.9" font-weight="bold" fill="#000" style="color:#000" transform="matrix(1 0 0 1.08 0 -36.972)">0</text>
<line x1="309.35" y1="449.80" x2="309.35" y2="453.80" stroke="#000" stroke-width="2.0" stroke-linecap="butt"/>
<text x="302.85" y="462.15" font-size="8.9" font-weight="bold" fill="#000" style="color:#000" transform="matrix(1 0 0 1.08 0 -36.972)">100</text>
<line x1="346.50" y1="449.80" x2="346.50" y2="453.80" stroke="#000" stroke-width="2.0" stroke-linecap="butt"/>
<text x="340.11" y="462.15" font-size="8.9" font-weight="bold" fill="#000" style="color:#000" transform="matrix(1 0 0 1.08 0 -36.972)">200</text>
<line x1="383.65" y1="449.80" x2="383.65" y2="453.80" stroke="#000" stroke-width="2.0" stroke-linecap="butt"/>
<text x="377.31" y="462.15" font-size="8.9" font-weight="bold" fill="#000" style="color:#000" transform="matrix(1 0 0 1.08 0 -36.972)">300</text>
<line x1="420.80" y1="449.80" x2="420.80" y2="453.80" stroke="#000" stroke-width="2.0" stroke-linecap="butt"/>
<text x="414.50" y="462.15" font-size="8.9" font-weight="bold" fill="#000" style="color:#000" transform="matrix(1 0 0 1.08 0 -36.972)">400</text>
<text x="250.56" y="337.60" font-size="9.92" font-weight="bold" fill="#000" style="color:#000" transform="matrix(1 0 0 1.08 0 -27.008)">Dk/FJ/2021-S144N HA to &#945;2-3 glycans</text>
<text x="0" y="0" font-size="9.67" font-weight="bold" transform="translate(240.52,399.90) rotate(-90) translate(-48.18,0)">Response Units (RU)</text>
<text x="332.50" y="475.00" font-size="9.94" font-weight="bold" fill="#000" style="color:#000" transform="matrix(1 0 0 1.08 0 -38.000)">Time(s)</text>
<path d="M489.10,442.52 L490.81,441.05 L492.53,439.61 L494.24,438.21 L495.95,436.84 L497.66,435.50 L499.38,434.19 L501.09,432.91 L502.80,431.66 L504.51,430.43 L506.23,429.24 L507.94,428.06 L509.65,426.92 L511.36,425.79 L513.08,424.69 L514.79,423.61 L516.50,422.56 L518.21,421.52 L519.93,420.51 L521.64,419.52 L523.35,418.54 L525.06,417.59 L526.77,416.65 L528.49,415.73 L530.20,414.82 L531.91,413.94 L533.62,413.07 L535.34,412.21 L537.05,411.38 L538.76,410.55 L540.48,409.74 L542.19,408.95 L543.90,408.17 L545.61,407.40 L547.33,406.65 L549.04,405.91 L550.75,405.18 L552.46,404.46 L554.18,403.76 L555.89,403.06 L557.60,402.38 L559.31,401.71 L561.02,401.05 L562.74,400.40 L564.45,399.76 L566.16,399.13 L567.88,398.51 L569.59,397.90 L571.30,397.30 L573.01,396.71 L574.73,396.13 L576.44,395.55 L578.15,394.99 L579.86,394.43 L581.58,393.88 L583.29,393.34 L585.00,392.81 L586.71,392.28 L588.42,391.76 L590.14,391.25 L591.85,390.75 L593.56,390.25 L595.27,389.76 L596.99,389.28 L598.70,388.80 L600.41,388.33 L602.12,387.87 L603.84,387.41 L605.55,386.96 L607.26,386.52 L608.98,386.08 L610.69,385.64 L612.40,385.21 L614.11,384.79 L615.83,384.37 L617.54,383.96 L619.25,383.56 L620.96,383.15 L622.67,382.76 L624.39,382.36 L626.10,381.98" fill="none" stroke="#2855a6" stroke-width="2.3" stroke-linejoin="round" stroke-linecap="butt"/>
<path d="M489.10,443.41 L502.80,443.13 L516.50,442.84 L530.20,442.55 L543.90,442.27 L557.60,441.98 L571.30,441.69 L585.00,441.41 L598.70,441.12 L612.40,440.84 L626.10,440.55" fill="none" stroke="#f01a1a" stroke-width="2.6" stroke-linejoin="round" stroke-linecap="butt"/>
<circle cx="497.66" cy="435.32" r="1.7" fill="#000" stroke="none" stroke-width="0"/>
<circle cx="506.23" cy="428.91" r="1.7" fill="#000" stroke="none" stroke-width="0"/>
<circle cx="523.35" cy="419.76" r="1.7" fill="#000" stroke="none" stroke-width="0"/>
<circle cx="557.60" cy="401.40" r="1.7" fill="#000" stroke="none" stroke-width="0"/>
<circle cx="626.10" cy="382.24" r="1.7" fill="#000" stroke="none" stroke-width="0"/>
<circle cx="497.66" cy="443.23" r="1.6" fill="none" stroke="#000" stroke-width="1.05"/>
<circle cx="506.23" cy="443.10" r="1.6" fill="none" stroke="#000" stroke-width="1.05"/>
<circle cx="523.35" cy="442.79" r="1.6" fill="none" stroke="#000" stroke-width="1.05"/>
<circle cx="557.60" cy="441.98" r="1.6" fill="none" stroke="#000" stroke-width="1.05"/>
<circle cx="626.10" cy="440.55" r="1.6" fill="none" stroke="#000" stroke-width="1.05"/>
<rect x="489.10" y="350.00" width="150.70" height="100.10" fill="none" stroke="#000" stroke-width="2.05"/>
<line x1="485.10" y1="443.35" x2="489.10" y2="443.35" stroke="#000" stroke-width="2.0" stroke-linecap="butt"/>
<text x="476.42" y="445.75" font-size="8.9" font-weight="bold" fill="#000" style="color:#000" transform="matrix(1 0 0 1.08 0 -35.660)">0</text>
<line x1="485.10" y1="412.23" x2="489.10" y2="412.23" stroke="#000" stroke-width="2.0" stroke-linecap="butt"/>
<text x="469.14" y="414.63" font-size="8.9" font-weight="bold" fill="#000" style="color:#000" transform="matrix(1 0 0 1.08 0 -33.170)">500</text>
<line x1="485.10" y1="381.12" x2="489.10" y2="381.12" stroke="#000" stroke-width="2.0" stroke-linecap="butt"/>
<text x="464.15" y="383.51" font-size="8.9" font-weight="bold" fill="#000" style="color:#000" transform="matrix(1 0 0 1.08 0 -30.681)">1000</text>
<line x1="485.10" y1="350.00" x2="489.10" y2="350.00" stroke="#000" stroke-width="2.0" stroke-linecap="butt"/>
<text x="464.15" y="352.40" font-size="8.9" font-weight="bold" fill="#000" style="color:#000" transform="matrix(1 0 0 1.08 0 -28.192)">1500</text>
<line x1="489.10" y1="450.10" x2="489.10" y2="454.10" stroke="#000" stroke-width="2.0" stroke-linecap="butt"/>
<text x="486.63" y="462.45" font-size="8.9" font-weight="bold" fill="#000" style="color:#000" transform="matrix(1 0 0 1.08 0 -36.996)">0</text>
<line x1="516.50" y1="450.10" x2="516.50" y2="454.10" stroke="#000" stroke-width="2.0" stroke-linecap="butt"/>
<text x="514.45" y="462.45" font-size="8.9" font-weight="bold" fill="#000" style="color:#000" transform="matrix(1 0 0 1.08 0 -36.996)">2</text>
<line x1="543.90" y1="450.10" x2="543.90" y2="454.10" stroke="#000" stroke-width="2.0" stroke-linecap="butt"/>
<text x="541.79" y="462.45" font-size="8.9" font-weight="bold" fill="#000" style="color:#000" transform="matrix(1 0 0 1.08 0 -36.996)">4</text>
<line x1="571.30" y1="450.10" x2="571.30" y2="454.10" stroke="#000" stroke-width="2.0" stroke-linecap="butt"/>
<text x="569.23" y="462.45" font-size="8.9" font-weight="bold" fill="#000" style="color:#000" transform="matrix(1 0 0 1.08 0 -36.996)">6</text>
<line x1="598.70" y1="450.10" x2="598.70" y2="454.10" stroke="#000" stroke-width="2.0" stroke-linecap="butt"/>
<text x="596.63" y="462.45" font-size="8.9" font-weight="bold" fill="#000" style="color:#000" transform="matrix(1 0 0 1.08 0 -36.996)">8</text>
<line x1="626.10" y1="450.10" x2="626.10" y2="454.10" stroke="#000" stroke-width="2.0" stroke-linecap="butt"/>
<text x="621.47" y="462.45" font-size="8.9" font-weight="bold" fill="#000" style="color:#000" transform="matrix(1 0 0 1.08 0 -36.996)">10</text>
<text x="445.56" y="337.40" font-size="9.82" font-weight="bold" fill="#000" style="color:#000" transform="matrix(1 0 0 1.08 0 -26.992)">Dk/FJ/2021-S144N HA to &#945;2-3 and &#945;2-6 glycans</text>
<text x="0" y="0" font-size="9.67" font-weight="bold" transform="translate(460.52,400.50) rotate(-90) translate(-48.18,0)">Response Units (RU)</text>
<text x="529.30" y="474.90" font-size="9.93" font-weight="bold" fill="#000" style="color:#000" transform="matrix(1 0 0 1.08 0 -37.992)">Concentration/&#956;m</text>
<text x="504.66" y="390.70" font-size="9.91" font-weight="bold" fill="#2855a6" style="color:#2855a6" transform="matrix(1 0 0 1.08 0 -31.256)">KD=2.93 &#956;m</text>
<text x="538.15" y="436.20" font-size="9.94" font-weight="bold" fill="#e3213b" style="color:#e3213b" transform="matrix(1 0 0 1.08 0 -34.896)">KD &gt;1.0 mM</text>
<line x1="193.94" y1="496.00" x2="207.96" y2="496.00" stroke="#ee1c24" stroke-width="2.0" stroke-linecap="butt"/>
<circle cx="200.95" cy="495.90" r="1.75" fill="#ee1c24" stroke="#000" stroke-width="1.0"/>
<text x="212.61" y="499.00" font-size="9.63" font-weight="bold" fill="#000" style="color:#000" transform="matrix(1 0 0 1.08 0 -39.920)">&#945;2-6 glycans</text>
<line x1="404.13" y1="494.10" x2="418.60" y2="494.10" stroke="#2855a6" stroke-width="2.0" stroke-linecap="butt"/>
<circle cx="411.36" cy="494.10" r="1.8" fill="#000" stroke="none" stroke-width="0"/>
<text x="423.01" y="499.00" font-size="9.63" font-weight="bold" fill="#000" style="color:#000" transform="matrix(1 0 0 1.08 0 -39.920)">&#945;2-3 glycans</text>
</svg></body></html>
